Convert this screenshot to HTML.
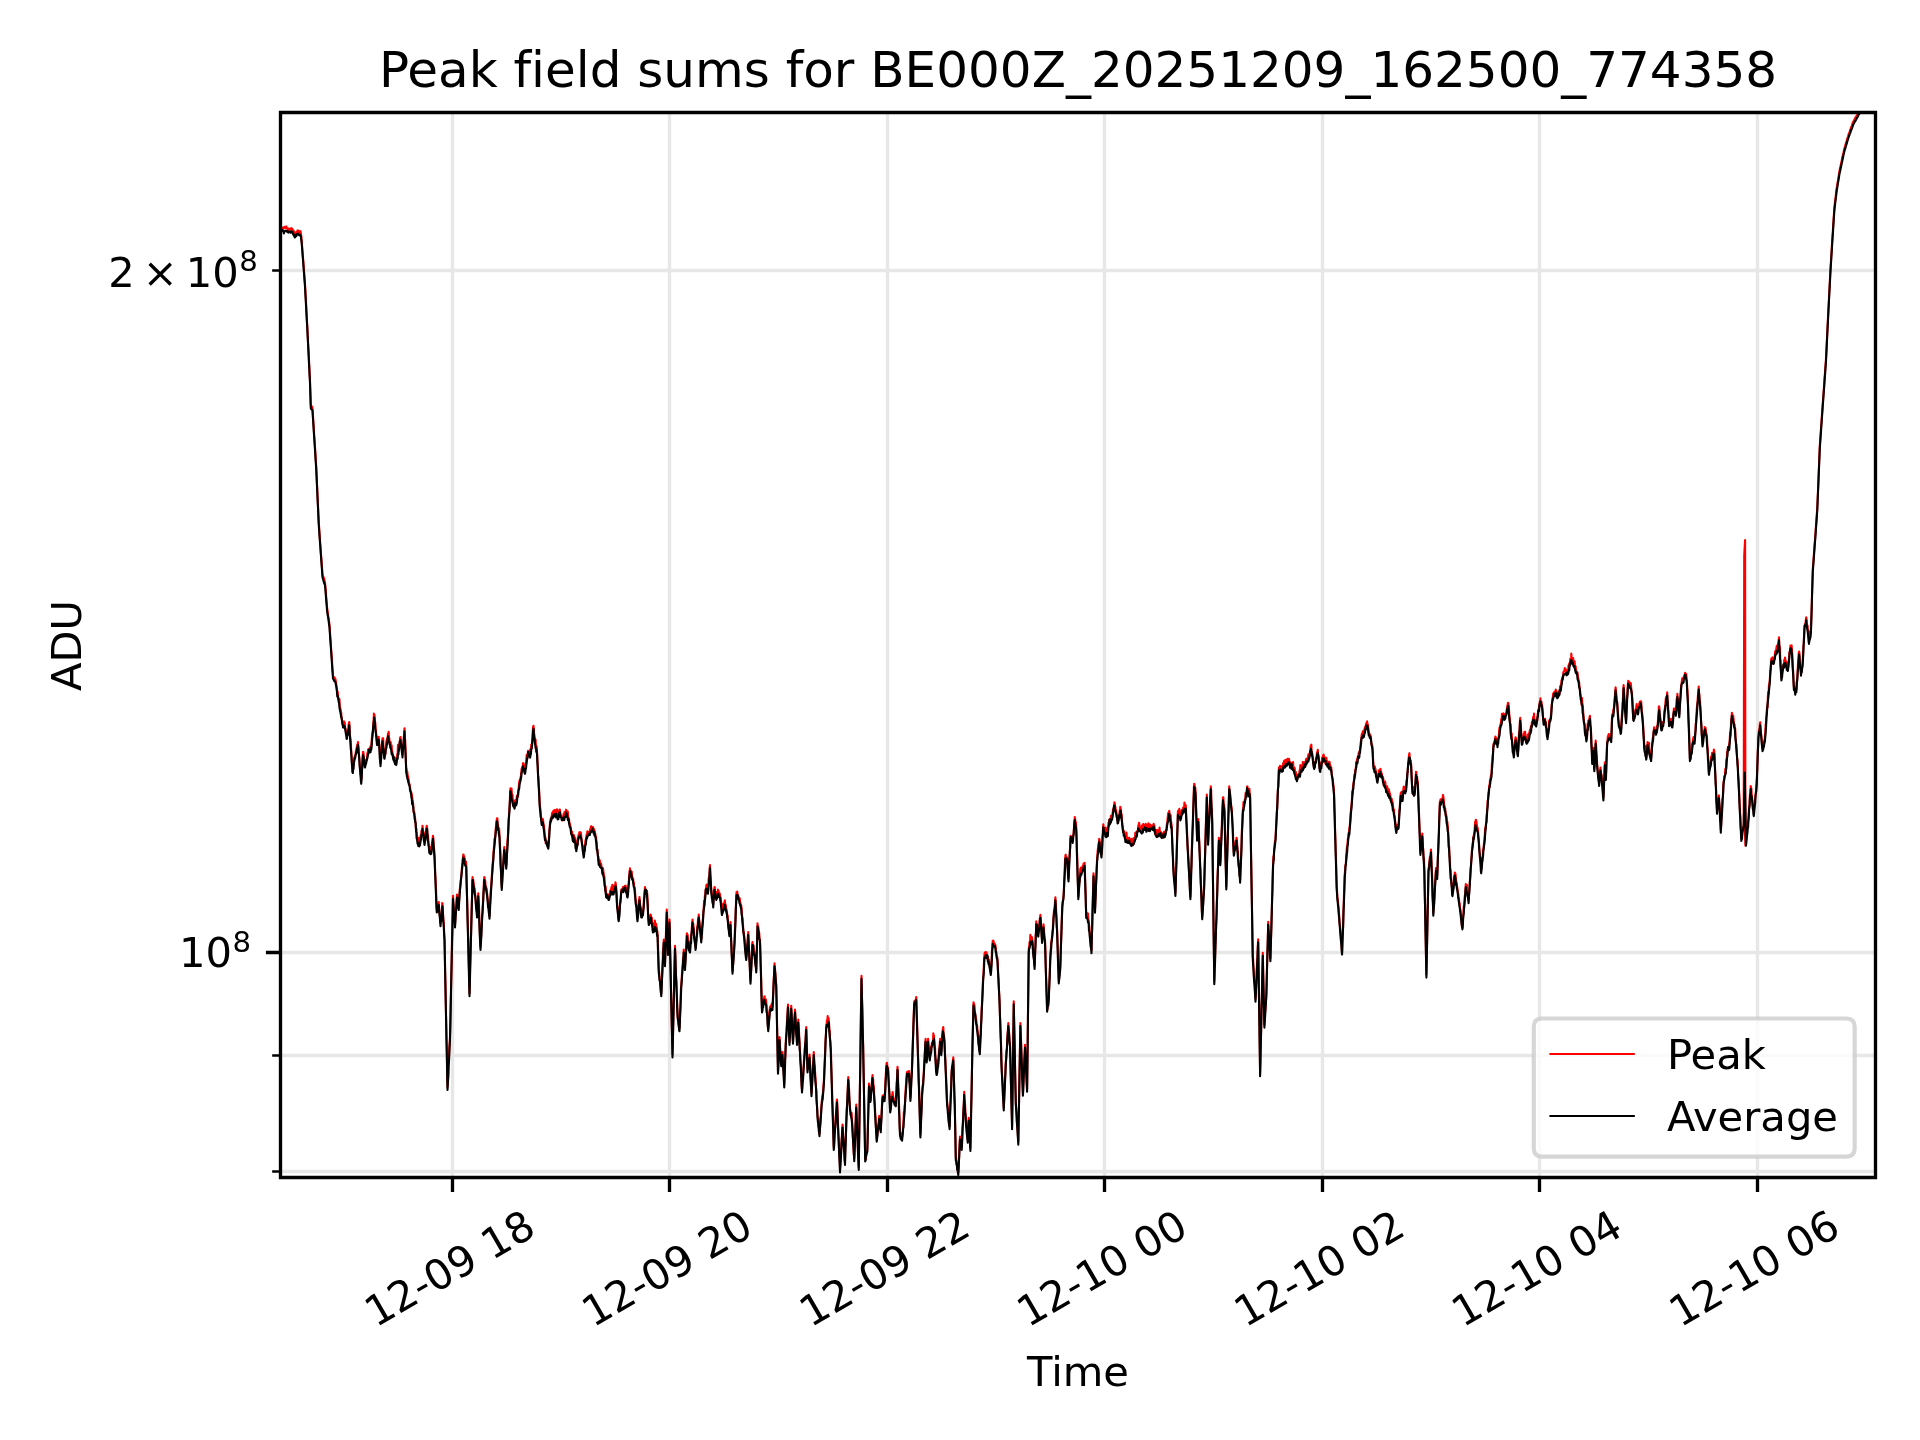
<!DOCTYPE html><html><head><meta charset="utf-8"><title>Peak field sums for BE000Z_20251209_162500_774358</title><style>html,body{margin:0;padding:0;background:#fff;overflow:hidden}svg{display:block;will-change:transform}text{font-variant-ligatures:none;font-feature-settings:"liga" 0}</style></head><body>
<svg width="1920" height="1440" viewBox="0 0 460.8 345.6">
<defs><clipPath id="c"><rect x="67.32" y="27" width="382.8" height="255.6"/></clipPath></defs>
<rect width="460.8" height="345.6" fill="#fff"/>
<path clip-path="url(#c)" d="M108.6 282.6 V27 M160.68 282.6 V27 M213 282.6 V27 M265.08 282.6 V27 M317.4 282.6 V27 M369.48 282.6 V27 M421.8 282.6 V27 M67.32 64.92 H450.12 M67.32 228.6 H450.12 M67.32 253.32 H450.12 M67.32 281.16 H450.12" fill="none" stroke="#b0b0b0" stroke-opacity="0.3" stroke-width="0.8" stroke-linecap="square"/>
<g clip-path="url(#c)" fill="none" stroke-linejoin="round" stroke-linecap="square">
<path d="M67.2 54.6 L67.284 54.757 L67.368 54.751 L67.452 54.971 L67.536 54.872 L67.62 54.604 L67.704 54.902 L67.788 54.674 L67.872 54.858 L67.956 54.93 L68.04 54.84 L68.125 54.782 L68.211 54.43 L68.296 54.74 L68.381 54.688 L68.467 54.723 L68.552 54.636 L68.637 54.454 L68.723 54.327 L68.808 54.72 L68.892 54.887 L68.976 54.947 L69.06 54.879 L69.144 54.809 L69.228 55.319 L69.312 55.04 L69.396 54.916 L69.48 54.96 L69.568 55.108 L69.656 54.861 L69.744 55.014 L69.832 54.882 L69.92 54.912 L70.008 54.768 L70.087 54.918 L70.166 54.947 L70.246 55.328 L70.325 55.626 L70.404 55.292 L70.483 55.535 L70.562 55.553 L70.642 56.174 L70.721 56.064 L70.8 56.28 L70.88 56.373 L70.96 55.866 L71.04 56.145 L71.12 55.705 L71.2 55.625 L71.28 55.757 L71.36 55.43 L71.44 55.274 L71.52 55.32 L71.604 55.597 L71.688 55.444 L71.772 55.83 L71.856 56.212 L71.94 55.551 L72.024 55.679 L72.108 55.473 L72.192 55.92 L72.3 56.505 L72.408 57.672 L72.487 58.847 L72.566 59.817 L72.646 60.853 L72.725 61.888 L72.804 62.775 L72.883 63.717 L72.962 65.087 L73.042 66.03 L73.121 67.177 L73.2 68.088 L73.286 69.678 L73.371 71.369 L73.457 72.814 L73.543 74.474 L73.629 76.053 L73.714 77.714 L73.8 79.272 L73.886 81.148 L73.971 82.773 L74.057 84.068 L74.143 86.113 L74.229 87.841 L74.314 89.649 L74.4 91.272 L74.496 94.285 L74.592 97.272 L74.674 97.305 L74.755 97.415 L74.837 97.588 L74.918 97.664 L75 97.872 L75.082 99.329 L75.164 100.523 L75.245 101.75 L75.327 103.15 L75.409 104.583 L75.491 105.594 L75.573 106.907 L75.655 108.166 L75.736 109.348 L75.818 110.711 L75.9 112.08 L75.986 113.852 L76.071 115.906 L76.157 117.788 L76.243 119.724 L76.329 121.414 L76.414 123.509 L76.5 125.28 L76.582 126.307 L76.664 127.547 L76.745 128.867 L76.827 130.006 L76.909 131.134 L76.991 132.401 L77.073 133.42 L77.155 134.412 L77.236 135.562 L77.318 136.641 L77.4 137.88 L77.486 138.164 L77.571 138.304 L77.657 138.577 L77.743 138.791 L77.829 138.964 L77.914 139.717 L78 139.68 L78.08 140.785 L78.16 141.433 L78.24 142.732 L78.32 143.613 L78.4 144.425 L78.48 145.68 L78.566 146.254 L78.651 146.905 L78.737 147.548 L78.823 148.211 L78.909 148.579 L78.994 149.274 L79.08 149.88 L79.164 151.189 L79.248 152.404 L79.332 153.616 L79.416 154.812 L79.5 156.177 L79.584 157.111 L79.668 158.313 L79.752 159.927 L79.836 161.001 L79.92 162.18 L80.006 162.441 L80.091 162.465 L80.177 162.523 L80.263 162.641 L80.349 162.841 L80.434 162.897 L80.52 163.08 L80.607 163.607 L80.693 164.117 L80.78 165.079 L80.867 165.601 L80.953 166.517 L81.04 165.957 L81.127 166.809 L81.213 167.819 L81.3 167.88 L81.385 168.564 L81.47 167.742 L81.555 169.572 L81.64 169.898 L81.725 170.177 L81.81 170.706 L81.895 171.064 L81.98 172.458 L82.065 172.733 L82.15 173.01 L82.235 173.94 L82.32 173.88 L82.41 174.265 L82.5 173.343 L82.59 173.146 L82.68 173.52 L82.766 173.514 L82.851 174.787 L82.937 174.862 L83.023 175.882 L83.109 175.995 L83.194 176.091 L83.28 176.58 L83.37 175.479 L83.46 175.401 L83.55 176.031 L83.64 174.101 L83.73 173.489 L83.82 173.28 L83.907 174.491 L83.993 176.503 L84.08 177.109 L84.167 177.874 L84.253 179.374 L84.34 180.865 L84.427 182.233 L84.513 183.943 L84.6 184.68 L84.68 185.406 L84.76 184.373 L84.84 183.53 L84.92 182.719 L85 181.851 L85.08 181.68 L85.164 181.642 L85.248 181.614 L85.332 181.039 L85.416 180.229 L85.5 180.245 L85.584 179.465 L85.668 179.134 L85.752 178.74 L85.836 178.523 L85.92 178.08 L86.007 179.122 L86.093 180.67 L86.18 181.227 L86.267 182.212 L86.353 183.782 L86.44 184.648 L86.527 185.887 L86.613 186.03 L86.7 187.38 L86.784 186.658 L86.868 184.657 L86.952 182.785 L87.036 181.823 L87.12 180.48 L87.2 180.437 L87.28 181.047 L87.36 181.819 L87.44 182.96 L87.52 182.382 L87.6 183.48 L87.682 183.316 L87.764 182.731 L87.845 183.256 L87.927 182.289 L88.009 182.152 L88.091 182.201 L88.173 180.702 L88.255 180.726 L88.336 179.861 L88.418 179.836 L88.5 179.88 L88.586 179.966 L88.671 179.65 L88.757 179.831 L88.843 179.367 L88.929 179.144 L89.014 179.315 L89.1 179.28 L89.18 178.015 L89.26 177.037 L89.34 175.946 L89.42 175.759 L89.5 175.153 L89.58 173.507 L89.66 172.991 L89.74 171.267 L89.82 171.48 L89.902 171.737 L89.985 173.145 L90.067 173.331 L90.15 174.963 L90.232 175.395 L90.315 176.578 L90.397 176.973 L90.48 178.08 L90.564 177.152 L90.648 177.564 L90.732 177.668 L90.816 176.849 L90.9 176.88 L90.984 178.291 L91.068 179.041 L91.152 180.47 L91.236 182.47 L91.32 183.18 L91.4 182.14 L91.48 180.714 L91.56 180.406 L91.64 179.174 L91.72 177.904 L91.8 177.18 L91.88 178.172 L91.96 177.201 L92.04 179.518 L92.12 180.835 L92.2 180.79 L92.28 181.38 L92.364 179.934 L92.448 180.904 L92.532 180.903 L92.616 179.462 L92.7 178.161 L92.784 177.803 L92.868 177.517 L92.952 177.126 L93.036 177.045 L93.12 175.98 L93.2 176.571 L93.28 175.613 L93.36 176.869 L93.44 177.293 L93.52 178.576 L93.6 178.08 L93.68 178.126 L93.76 178.082 L93.84 178.92 L93.92 179.52 L94 178.874 L94.08 180.567 L94.16 180.333 L94.24 181.112 L94.32 181.08 L94.407 181.582 L94.493 181.711 L94.58 182.314 L94.667 182.638 L94.753 181.875 L94.84 182.231 L94.927 182.949 L95.013 182.739 L95.1 182.88 L95.185 182.088 L95.27 181.912 L95.355 180.969 L95.44 180.633 L95.525 178.768 L95.61 179.93 L95.695 180.226 L95.78 179.208 L95.865 178.692 L95.95 177.956 L96.035 177.018 L96.12 176.88 L96.2 177.803 L96.28 178.299 L96.36 178.911 L96.44 179.787 L96.52 180.11 L96.6 181.08 L96.68 180.086 L96.76 179.279 L96.84 178.39 L96.92 176.942 L97 176.206 L97.08 174.78 L97.164 176.84 L97.248 177.678 L97.332 179.812 L97.416 182.601 L97.5 184.68 L97.582 184.536 L97.664 185.705 L97.745 185.207 L97.827 186.01 L97.909 186.328 L97.991 186.62 L98.073 187.076 L98.155 187.719 L98.236 188.155 L98.318 188.247 L98.4 188.88 L98.486 189.385 L98.571 189.984 L98.657 190.071 L98.743 190.27 L98.829 190.704 L98.914 191.225 L99 191.88 L99.086 192.228 L99.171 193.115 L99.257 194.936 L99.343 194.805 L99.429 194.897 L99.514 195.759 L99.6 196.08 L99.686 197.172 L99.771 198.303 L99.857 199.193 L99.943 198.892 L100.029 201.202 L100.114 200.573 L100.2 201.78 L100.286 201.875 L100.371 201.487 L100.457 201.123 L100.543 201.127 L100.629 202.931 L100.714 202.746 L100.8 202.08 L100.886 201.076 L100.971 200.458 L101.057 201.121 L101.143 199.416 L101.229 199.526 L101.314 199.708 L101.4 198.18 L101.48 199.205 L101.56 200.196 L101.64 200.251 L101.72 200.001 L101.8 201.065 L101.88 202.08 L101.97 200.609 L102.06 200.947 L102.15 199.529 L102.24 199.552 L102.33 198.608 L102.42 198.18 L102.506 198.679 L102.591 200.06 L102.677 200.411 L102.763 201.056 L102.849 202.728 L102.934 203.055 L103.02 203.88 L103.1 203.243 L103.18 204.545 L103.26 203.371 L103.34 204.194 L103.42 204.382 L103.5 204.18 L103.584 203.34 L103.668 202.353 L103.752 201.869 L103.836 201.138 L103.92 200.58 L104.01 201.187 L104.1 203.234 L104.19 203.672 L104.28 205.08 L104.37 206.939 L104.46 210.128 L104.55 211.333 L104.64 213.157 L104.73 216.047 L104.82 218.28 L104.9 217.984 L104.98 217.694 L105.06 218.363 L105.14 216.815 L105.22 217.415 L105.3 216.48 L105.384 217.917 L105.468 219.208 L105.552 219.497 L105.636 220.414 L105.72 221.58 L105.8 220.69 L105.88 220.134 L105.96 219.642 L106.04 219.169 L106.12 216.754 L106.2 216.78 L106.28 218.646 L106.36 219.668 L106.44 220.865 L106.52 221.703 L106.6 223.706 L106.68 224.88 L106.76 228.034 L106.84 233.483 L106.92 236.453 L107 240.838 L107.08 244.816 L107.16 249.167 L107.24 252.265 L107.32 257.288 L107.4 260.88 L107.486 259.376 L107.571 258.2 L107.657 255.895 L107.743 253.977 L107.829 251.427 L107.914 250.434 L108 248.88 L108.08 245.908 L108.16 241.145 L108.24 237.36 L108.32 233.76 L108.4 230.464 L108.48 225.459 L108.56 223.384 L108.64 219.04 L108.72 214.98 L108.8 216.485 L108.88 217.29 L108.96 219.377 L109.04 219.388 L109.12 221.131 L109.2 221.88 L109.28 220.744 L109.36 218.897 L109.44 218.23 L109.52 217.434 L109.6 215.763 L109.68 214.68 L109.764 215.102 L109.848 215.886 L109.932 216.084 L110.016 216.57 L110.1 217.68 L110.2 216.129 L110.3 214.051 L110.4 212.88 L110.487 212.298 L110.573 211.499 L110.66 210.906 L110.747 209.89 L110.833 208.431 L110.92 207.893 L111.007 206.286 L111.093 206.165 L111.18 205.08 L111.26 205.127 L111.34 206.27 L111.42 205.565 L111.5 206.243 L111.58 206.066 L111.66 206.99 L111.74 207.263 L111.82 206.754 L111.9 207.48 L111.987 211.856 L112.073 214.596 L112.16 217.122 L112.247 220.8 L112.333 223.796 L112.42 227.144 L112.507 231.459 L112.593 233.972 L112.68 238.38 L112.76 235.473 L112.84 231.418 L112.92 228.911 L113 226.803 L113.08 222.722 L113.16 219.774 L113.24 217.278 L113.32 213.441 L113.4 210.48 L113.486 211.258 L113.571 211.134 L113.657 211.853 L113.743 212.608 L113.829 213.065 L113.914 213.211 L114 214.08 L114.08 215.095 L114.16 216.174 L114.24 217.09 L114.32 217.706 L114.4 218.139 L114.48 219.48 L114.58 218.111 L114.68 216.491 L114.78 214.38 L114.87 216.069 L114.96 217.594 L115.05 220.744 L115.14 223.466 L115.23 225.545 L115.32 227.28 L115.402 225.196 L115.484 224.856 L115.565 222.275 L115.647 221.609 L115.729 219.442 L115.811 218.575 L115.893 216.826 L115.975 214.95 L116.056 213.868 L116.138 211.69 L116.22 210.48 L116.302 210.744 L116.385 211.224 L116.467 211.418 L116.55 212.713 L116.632 213.165 L116.715 213.173 L116.797 213.162 L116.88 214.08 L116.966 215.105 L117.051 215.832 L117.137 216.812 L117.223 217.32 L117.309 218.033 L117.394 219.613 L117.48 219.78 L117.564 217.978 L117.648 216.676 L117.732 214.42 L117.816 213.586 L117.9 212.28 L117.986 210.836 L118.071 209.702 L118.157 208.939 L118.243 207.174 L118.329 206.46 L118.414 204.881 L118.5 203.88 L118.587 202.814 L118.673 201.313 L118.76 201.549 L118.847 200.817 L118.933 199.221 L119.02 198.569 L119.107 197.158 L119.193 197.007 L119.28 196.38 L119.366 196.378 L119.451 197.634 L119.537 197.952 L119.623 198.849 L119.709 198.724 L119.794 198.87 L119.88 200.28 L119.97 202.293 L120.06 204.15 L120.15 207.395 L120.24 208.74 L120.33 211.407 L120.42 212.88 L120.506 211.707 L120.591 209.934 L120.677 207.993 L120.763 207.233 L120.849 206.266 L120.934 204.64 L121.02 203.28 L121.1 204.136 L121.18 204.875 L121.26 204.851 L121.34 206.375 L121.42 206.602 L121.5 207.78 L121.585 206.161 L121.67 205.276 L121.755 202.146 L121.84 201.409 L121.925 200.145 L122.01 198.942 L122.095 196.915 L122.18 194.941 L122.265 194.153 L122.35 192.505 L122.435 189.85 L122.52 189.18 L122.602 189.616 L122.685 189.227 L122.767 189.241 L122.85 190.465 L122.932 190.945 L123.015 190.83 L123.097 193.176 L123.18 192.78 L123.26 192.087 L123.34 192.855 L123.42 192.989 L123.5 193.65 L123.58 192.425 L123.66 193.32 L123.74 191.984 L123.82 192.477 L123.9 192.48 L123.986 191.758 L124.071 190.961 L124.157 191.083 L124.243 191.318 L124.329 190.903 L124.414 189.706 L124.5 188.88 L124.6 187.731 L124.7 187.285 L124.8 187.08 L124.88 186.925 L124.96 186.478 L125.04 186.04 L125.12 185.208 L125.2 184.473 L125.28 184.688 L125.36 184.028 L125.44 184.281 L125.52 183.18 L125.6 183.141 L125.68 184.178 L125.76 184.722 L125.84 185.319 L125.92 185.611 L126 184.98 L126.08 183.95 L126.16 183.346 L126.24 183.447 L126.32 182.427 L126.4 181.173 L126.48 182.483 L126.56 181.483 L126.64 181.204 L126.72 180.18 L126.806 180.311 L126.891 180.826 L126.977 180.436 L127.063 180.422 L127.149 181.315 L127.234 179.885 L127.32 180.48 L127.41 180.215 L127.5 178.674 L127.59 179.624 L127.68 178.38 L127.77 177.223 L127.86 175.702 L127.95 174.36 L128.04 174.18 L128.13 174.974 L128.22 176.925 L128.31 177.117 L128.4 177.78 L128.48 177.43 L128.56 177.598 L128.64 180.338 L128.72 179.101 L128.8 179.068 L128.88 180.18 L128.964 181.863 L129.048 183.695 L129.132 185.796 L129.216 186.558 L129.3 188.28 L129.4 189.73 L129.5 192.2 L129.6 193.68 L129.684 194.005 L129.768 195.287 L129.852 195.919 L129.936 197.026 L130.02 197.28 L130.12 196.733 L130.22 196.545 L130.32 196.68 L130.4 197.511 L130.48 198.297 L130.56 198.063 L130.64 199.08 L130.72 200.253 L130.8 200.88 L130.887 200.922 L130.973 202.437 L131.06 201.916 L131.147 202.407 L131.233 201.999 L131.32 202.31 L131.407 202.561 L131.493 203.25 L131.58 202.98 L131.664 201.672 L131.748 201.451 L131.832 199.195 L131.916 198.894 L132 197.28 L132.086 197.1 L132.171 196.495 L132.257 197.138 L132.343 196.545 L132.429 195.683 L132.514 195.1 L132.6 195.18 L132.682 195.518 L132.764 194.674 L132.845 195.273 L132.927 194.519 L133.009 194.951 L133.091 194.427 L133.173 194.696 L133.255 195.534 L133.336 195.52 L133.418 194.397 L133.5 194.58 L133.584 194.681 L133.668 194.243 L133.752 195.436 L133.836 196.078 L133.92 195.78 L134.01 194.987 L134.1 194.582 L134.19 194.819 L134.28 194.28 L134.37 194.297 L134.46 194.964 L134.55 195.922 L134.64 195.697 L134.73 196.101 L134.82 196.08 L134.907 196.918 L134.993 196.06 L135.08 196.21 L135.167 195.841 L135.253 195.379 L135.34 196.452 L135.427 194.939 L135.513 195.584 L135.6 195.48 L135.684 194.738 L135.768 194.72 L135.852 194.315 L135.936 194.633 L136.02 194.58 L136.107 195.169 L136.193 195.938 L136.28 194.769 L136.367 196.154 L136.453 196.218 L136.54 196.478 L136.627 197.088 L136.713 197.607 L136.8 197.88 L136.886 198.212 L136.971 198.65 L137.057 200.09 L137.143 199.473 L137.229 199.972 L137.314 199.642 L137.4 200.58 L137.48 201.155 L137.56 200.428 L137.64 200.684 L137.72 200.408 L137.8 200.785 L137.88 200.88 L137.964 200.972 L138.048 201.338 L138.132 201.829 L138.216 202.855 L138.3 203.58 L138.38 203.137 L138.46 203.026 L138.54 203.026 L138.62 202.674 L138.7 201.026 L138.78 200.88 L138.864 200.3 L138.948 200.764 L139.032 199.74 L139.116 200.463 L139.2 199.68 L139.3 200.486 L139.4 199.828 L139.5 200.58 L139.586 201.593 L139.671 202.567 L139.757 202.739 L139.843 203.028 L139.929 203.73 L140.014 204.682 L140.1 205.08 L140.186 204.144 L140.271 204.061 L140.357 203.187 L140.443 202.345 L140.529 201.633 L140.614 201.767 L140.7 200.88 L140.786 200.296 L140.871 200.664 L140.957 199.502 L141.043 200.121 L141.129 200.096 L141.214 200.041 L141.3 199.68 L141.384 200.008 L141.468 199.663 L141.552 199.536 L141.636 198.996 L141.72 198.96 L141.806 198.418 L141.891 198.289 L141.977 198.411 L142.063 198.824 L142.149 199.121 L142.234 198.737 L142.32 198.48 L142.4 198.8 L142.48 199.264 L142.56 198.946 L142.64 199.387 L142.72 199.451 L142.8 199.68 L142.886 200.402 L142.971 200.798 L143.057 200.887 L143.143 201.92 L143.229 202.315 L143.314 204.126 L143.4 203.88 L143.5 205.583 L143.6 205.604 L143.7 206.88 L143.786 206.577 L143.871 207.08 L143.957 206.441 L144.043 207.833 L144.129 207.3 L144.214 207.186 L144.3 207.48 L144.386 208.336 L144.471 208.79 L144.557 208.593 L144.643 209.343 L144.729 208.415 L144.814 209.186 L144.9 209.88 L144.986 210.175 L145.071 210.489 L145.157 212.358 L145.243 213.773 L145.329 212.688 L145.414 213.733 L145.5 214.68 L145.586 215.278 L145.671 214.717 L145.757 214.936 L145.843 214.645 L145.929 215.269 L146.014 214.734 L146.1 215.28 L146.186 215.341 L146.271 214.93 L146.357 214.56 L146.443 213.717 L146.529 213.679 L146.614 213.704 L146.7 213.18 L146.786 212.842 L146.871 212.886 L146.957 212.359 L147.043 213.268 L147.129 213.536 L147.214 214.144 L147.3 213.78 L147.38 212.906 L147.46 212.491 L147.54 213.45 L147.62 213.097 L147.7 211.737 L147.78 211.98 L147.864 212.881 L147.948 213.391 L148.032 215.365 L148.116 217.15 L148.2 217.68 L148.3 218.952 L148.4 218.975 L148.5 220.38 L148.586 219.524 L148.671 218.064 L148.757 217.57 L148.843 216.175 L148.929 215.748 L149.014 215.062 L149.1 213.48 L149.182 213.55 L149.264 213.486 L149.345 213.421 L149.427 213.568 L149.509 212.874 L149.591 212.909 L149.673 212.835 L149.755 213.452 L149.836 212.822 L149.918 212.934 L150 212.58 L150.086 212.709 L150.171 212.54 L150.257 213.338 L150.343 214.01 L150.429 213.936 L150.514 214.114 L150.6 214.68 L150.686 213.608 L150.771 213.131 L150.857 212.188 L150.943 211.085 L151.029 209.737 L151.114 208.962 L151.2 208.38 L151.286 210.394 L151.371 208.903 L151.457 209.577 L151.543 209.729 L151.629 209.229 L151.714 210.81 L151.8 210.48 L151.88 210.922 L151.96 210.86 L152.04 212.043 L152.12 211.815 L152.2 212.633 L152.28 212.88 L152.36 213.089 L152.44 214.464 L152.52 215.697 L152.6 215.984 L152.68 216.382 L152.76 217.494 L152.84 219.032 L152.92 218.796 L153 220.38 L153.08 218.873 L153.16 219.044 L153.24 217.881 L153.32 216.955 L153.4 215.916 L153.48 215.28 L153.564 216.302 L153.648 217.348 L153.732 218.008 L153.816 217.809 L153.9 219.48 L153.984 219.654 L154.068 218.454 L154.152 219.928 L154.236 218.785 L154.32 218.88 L154.4 218.163 L154.48 217.032 L154.56 215.574 L154.64 215.443 L154.72 213.984 L154.8 212.88 L154.88 214.035 L154.96 213.496 L155.04 213.494 L155.12 214.676 L155.2 214.299 L155.28 213.78 L155.364 215.3 L155.448 216.417 L155.532 219.208 L155.616 220.38 L155.7 221.28 L155.78 221.58 L155.86 220.548 L155.94 220.113 L156.02 219.679 L156.1 220.344 L156.18 219.48 L156.27 220.028 L156.36 221.015 L156.45 220.27 L156.54 222.39 L156.63 222.158 L156.72 223.08 L156.806 221.634 L156.891 222.143 L156.977 222.775 L157.063 223.129 L157.149 220.922 L157.234 221.406 L157.32 221.88 L157.4 222.247 L157.48 221.74 L157.56 222.572 L157.64 222.584 L157.72 223.418 L157.8 223.68 L157.9 225.966 L158 229.505 L158.1 232.68 L158.186 233.079 L158.271 234.358 L158.357 235.077 L158.443 236.403 L158.529 236.85 L158.614 238.396 L158.7 238.38 L158.786 235.76 L158.871 234.561 L158.957 233.212 L159.043 231.05 L159.129 227.896 L159.214 227.468 L159.3 225.48 L159.4 227.137 L159.5 230.451 L159.6 231.18 L159.684 228.543 L159.768 226.34 L159.852 222.978 L159.936 221.187 L160.02 218.28 L160.12 220.338 L160.22 224.586 L160.32 228.48 L160.41 226.342 L160.5 223.807 L160.59 223.097 L160.68 220.68 L160.76 224.283 L160.84 228.672 L160.92 230.797 L161 234.677 L161.08 238.992 L161.16 242.034 L161.24 246.279 L161.32 249.79 L161.4 253.08 L161.486 248.99 L161.571 245.682 L161.657 242.154 L161.743 238.285 L161.829 234.339 L161.914 230.476 L162 226.98 L162.086 229.145 L162.171 232 L162.257 234.793 L162.343 235.386 L162.429 237.854 L162.514 240.534 L162.6 242.88 L162.68 244.236 L162.76 243.771 L162.84 245.959 L162.92 246.588 L163 244.987 L163.08 246.78 L163.164 245.017 L163.248 242.882 L163.332 240.287 L163.416 237.494 L163.5 236.28 L163.586 235.225 L163.671 233.703 L163.757 233.265 L163.843 231.772 L163.929 229.843 L164.014 230.046 L164.1 227.88 L164.2 230.188 L164.3 231.426 L164.4 232.08 L164.48 230.785 L164.56 229.857 L164.64 228.109 L164.72 226.445 L164.8 224.454 L164.88 223.98 L164.964 224.805 L165.048 224.372 L165.132 226.335 L165.216 225.992 L165.3 227.28 L165.4 227.617 L165.5 227.574 L165.6 227.88 L165.686 226.329 L165.771 225.354 L165.857 224.546 L165.943 224.522 L166.029 222.953 L166.114 221.608 L166.2 220.68 L166.28 221.843 L166.36 221.608 L166.44 222.17 L166.52 223.204 L166.6 224.872 L166.68 224.958 L166.76 225.887 L166.84 226.619 L166.92 227.28 L167.007 226.223 L167.093 226.164 L167.18 225.039 L167.267 223.406 L167.353 222.455 L167.44 222.065 L167.527 220.772 L167.613 220.346 L167.7 219.48 L167.786 220.698 L167.871 221.224 L167.957 222.145 L168.043 222.667 L168.129 223.373 L168.214 224.123 L168.3 225.48 L168.386 224.998 L168.471 222.876 L168.557 222.176 L168.643 221.075 L168.729 220.124 L168.814 218.63 L168.9 217.68 L168.986 216.166 L169.071 217.241 L169.157 214.97 L169.243 215.058 L169.329 213.509 L169.414 213.633 L169.5 212.58 L169.584 212.296 L169.668 213.888 L169.752 213.525 L169.836 212.763 L169.92 213.78 L170 213.574 L170.08 210.792 L170.16 210.522 L170.24 210.202 L170.32 208.437 L170.4 207.6 L170.5 210.187 L170.6 211.538 L170.7 213.48 L170.78 213.785 L170.86 215.291 L170.94 215.297 L171.02 215.642 L171.1 216.939 L171.18 217.08 L171.28 215.549 L171.38 213.598 L171.48 212.88 L171.564 212.995 L171.648 215.047 L171.732 215.438 L171.816 214.025 L171.9 215.28 L171.98 215.414 L172.06 215.381 L172.14 214.385 L172.22 214.606 L172.3 213.518 L172.38 213.78 L172.464 213.786 L172.548 214.646 L172.632 214.278 L172.716 214.409 L172.8 214.68 L172.88 215.243 L172.96 215.402 L173.04 216.262 L173.12 217.2 L173.2 218.097 L173.28 218.88 L173.366 218.09 L173.451 219.106 L173.537 216.964 L173.623 216.955 L173.709 216.826 L173.794 217.062 L173.88 216.48 L173.966 216.089 L174.051 217.272 L174.137 217.067 L174.223 217.439 L174.309 218.386 L174.394 218.925 L174.48 218.88 L174.566 220.099 L174.651 219.737 L174.737 221.557 L174.823 222.295 L174.909 222.67 L174.994 223.462 L175.08 223.98 L175.16 223.087 L175.24 222.095 L175.32 221.28 L175.4 223.646 L175.48 225.999 L175.56 226.998 L175.64 229.252 L175.72 231.489 L175.8 232.98 L175.88 231.138 L175.96 231.489 L176.04 229.713 L176.12 229.1 L176.2 227.093 L176.28 226.08 L176.36 223.652 L176.44 222.014 L176.52 220.236 L176.6 217.628 L176.68 216.539 L176.76 214.08 L176.85 214.423 L176.94 213.964 L177.03 214.926 L177.12 214.817 L177.21 215.11 L177.3 215.28 L177.386 215.398 L177.471 215.541 L177.557 215.593 L177.643 216.554 L177.729 216.821 L177.814 217.339 L177.9 217.38 L177.986 217.949 L178.071 219.417 L178.157 220.517 L178.243 220.424 L178.329 221.998 L178.414 223.893 L178.5 223.68 L178.586 224.305 L178.671 225.255 L178.757 226.243 L178.843 226.862 L178.929 228.404 L179.014 228.791 L179.1 229.68 L179.18 228.636 L179.26 227.301 L179.34 226.955 L179.42 225.639 L179.5 224.486 L179.58 223.68 L179.67 225.479 L179.76 228.367 L179.85 229.533 L179.94 231.617 L180.03 234.098 L180.12 235.38 L180.2 233.784 L180.28 232.756 L180.36 230.237 L180.44 229.507 L180.52 226.591 L180.6 226.08 L180.68 226.556 L180.76 226.672 L180.84 226.931 L180.92 228.213 L181 228.445 L181.08 228.48 L181.164 229.745 L181.248 230.901 L181.332 231.262 L181.416 232.126 L181.5 232.68 L181.6 228.953 L181.7 226.207 L181.8 221.58 L181.886 222.577 L181.971 222.314 L182.057 222.828 L182.143 223.446 L182.229 224.004 L182.314 225.556 L182.4 225.48 L182.48 228.427 L182.56 231.6 L182.64 233.506 L182.72 236.302 L182.8 240.076 L182.88 242.28 L182.97 240.795 L183.06 240.691 L183.15 239.742 L183.24 239.945 L183.33 241.037 L183.42 239.28 L183.5 239.098 L183.58 240.186 L183.66 240.676 L183.74 239.749 L183.82 239.925 L183.9 240.48 L183.98 241.686 L184.06 242.902 L184.14 242.854 L184.22 244.276 L184.3 246.528 L184.38 246.78 L184.464 245.357 L184.548 244.917 L184.632 244.218 L184.716 242.531 L184.8 241.68 L184.886 241.588 L184.971 241.404 L185.057 241.353 L185.143 241.376 L185.229 240.876 L185.314 241.428 L185.4 241.68 L185.48 239.816 L185.56 238.522 L185.64 236.219 L185.72 234.351 L185.8 233.847 L185.88 231.18 L185.964 232.187 L186.048 233.102 L186.132 233.978 L186.216 235.251 L186.3 236.28 L186.384 239.992 L186.468 244.304 L186.552 248.277 L186.636 252.241 L186.72 256.98 L186.81 254.73 L186.9 252.251 L186.99 251.74 L187.08 248.88 L187.164 249.57 L187.248 252.251 L187.332 252.81 L187.416 254.344 L187.5 255.18 L187.6 254.984 L187.7 252.572 L187.8 252.48 L187.884 254.834 L187.968 255.837 L188.052 256.924 L188.136 258.354 L188.22 260.28 L188.31 257.905 L188.4 254.403 L188.49 253.503 L188.58 250.08 L188.67 248.507 L188.76 247.47 L188.85 245.651 L188.94 243.889 L189.03 242.412 L189.12 241.08 L189.21 242.928 L189.3 246.211 L189.39 247.847 L189.48 250.08 L189.564 248.614 L189.648 246.854 L189.732 245.215 L189.816 243.366 L189.9 241.38 L189.984 243.704 L190.068 244.459 L190.152 245.969 L190.236 248.075 L190.32 249.78 L190.4 248.402 L190.48 247.342 L190.56 246.631 L190.64 245.283 L190.72 243.84 L190.8 242.28 L190.88 243.24 L190.96 245.164 L191.04 246.306 L191.12 247.883 L191.2 248.816 L191.28 250.08 L191.38 248.128 L191.48 246.581 L191.58 244.68 L191.664 245.81 L191.748 247.173 L191.832 249.151 L191.916 250.482 L192 251.88 L192.08 254 L192.16 255.192 L192.24 256.154 L192.32 258.978 L192.4 260.702 L192.48 261.48 L192.564 259.79 L192.648 258.827 L192.732 258.388 L192.816 256.806 L192.9 255.48 L192.986 253.52 L193.071 253.487 L193.157 251.699 L193.243 250.526 L193.329 249.645 L193.414 247.477 L193.5 246.48 L193.6 249.559 L193.7 253.624 L193.8 256.68 L193.88 256.552 L193.96 255.559 L194.04 255.46 L194.12 254.508 L194.2 254.227 L194.28 253.08 L194.36 254.263 L194.44 256.102 L194.52 258.26 L194.6 258.893 L194.68 260.469 L194.76 262.38 L194.85 260.814 L194.94 258.967 L195.03 256.997 L195.12 255.013 L195.21 254.795 L195.3 252.48 L195.38 253.721 L195.46 255.573 L195.54 255.671 L195.62 257.326 L195.7 258.417 L195.78 259.68 L195.864 261.297 L195.948 262.06 L196.032 264.954 L196.116 265.794 L196.2 267.48 L196.28 268.342 L196.36 268.515 L196.44 270.469 L196.52 269.76 L196.6 272.137 L196.68 271.98 L196.764 270.591 L196.848 269.416 L196.932 268.057 L197.016 267.848 L197.1 265.98 L197.186 264.714 L197.271 263.848 L197.357 262.955 L197.443 262.782 L197.529 261.949 L197.614 260.491 L197.7 259.98 L197.786 258.209 L197.871 256.682 L197.957 254.265 L198.043 252.103 L198.129 249.421 L198.214 248.631 L198.3 245.88 L198.386 246.028 L198.471 244.855 L198.557 245.008 L198.643 243.874 L198.729 245.259 L198.814 244.251 L198.9 244.68 L198.98 245.644 L199.06 247.529 L199.14 247.289 L199.22 249.476 L199.3 250.018 L199.38 251.28 L199.46 253.41 L199.54 257.207 L199.62 259.455 L199.7 261.596 L199.78 264.841 L199.86 266.973 L199.94 269.511 L200.02 272.409 L200.1 275.28 L200.187 274.462 L200.273 271.96 L200.36 270.831 L200.447 270.607 L200.533 268.25 L200.62 267.554 L200.707 266.237 L200.793 264.5 L200.88 263.88 L200.96 265.359 L201.04 267.522 L201.12 269.409 L201.2 271.617 L201.28 273.287 L201.36 275.485 L201.44 277.015 L201.52 278.577 L201.6 280.68 L201.686 279.408 L201.771 277.776 L201.857 276.434 L201.943 274.408 L202.029 272.874 L202.114 271.339 L202.2 269.88 L202.286 270.429 L202.371 272.64 L202.457 273.395 L202.543 274.635 L202.629 276.108 L202.714 278.561 L202.8 278.88 L202.9 275.277 L203 273.171 L203.1 269.28 L203.18 266.455 L203.26 265.52 L203.34 264.771 L203.42 262.142 L203.5 260.439 L203.58 258.48 L203.664 259.63 L203.748 260.405 L203.832 263.026 L203.916 264.665 L204 265.68 L204.08 266.671 L204.16 267.582 L204.24 267.13 L204.32 267.919 L204.4 267.151 L204.48 268.68 L204.57 270.057 L204.66 271.84 L204.75 273.929 L204.84 275.755 L204.93 277.194 L205.02 277.98 L205.1 276.044 L205.18 273.611 L205.26 271.49 L205.34 269.353 L205.42 267.295 L205.5 265.08 L205.586 267.783 L205.671 269.271 L205.757 270.712 L205.843 273.078 L205.929 277.194 L206.014 278.577 L206.1 280.08 L206.182 274.103 L206.265 268.476 L206.347 263.212 L206.43 257.273 L206.512 251.544 L206.595 244.711 L206.677 239.256 L206.76 234.18 L206.856 238.272 L206.952 242.559 L207.048 246.4 L207.144 250.272 L207.228 255.653 L207.312 259.554 L207.396 264.28 L207.48 268.816 L207.564 273.881 L207.648 278.04 L207.732 277.371 L207.816 278.258 L207.9 276.391 L207.984 276.897 L208.068 276.489 L208.152 275.76 L208.234 273.379 L208.315 268.937 L208.397 265.897 L208.478 263.051 L208.56 260.04 L208.644 261.319 L208.728 262.313 L208.812 261.597 L208.896 263.76 L208.98 262.652 L209.064 261.959 L209.148 261.047 L209.232 260.092 L209.316 258.89 L209.4 258 L209.482 259.012 L209.563 259.019 L209.645 261.295 L209.726 260.676 L209.808 262.8 L209.894 264.205 L209.979 265.348 L210.065 267.442 L210.151 268.309 L210.237 270.697 L210.322 271.939 L210.408 273.288 L210.494 272.782 L210.579 272.214 L210.665 271.457 L210.751 270.031 L210.837 269.725 L210.922 268.779 L211.008 267.78 L211.104 268.94 L211.2 269.46 L211.296 268.986 L211.392 271.032 L211.474 269.291 L211.555 267.802 L211.637 265.974 L211.718 264.276 L211.8 263.04 L211.884 263.165 L211.968 262.845 L212.052 263.565 L212.136 263.931 L212.22 263.418 L212.304 263.52 L212.395 262.253 L212.486 259.635 L212.578 258.078 L212.669 256.756 L212.76 255.288 L212.856 255.05 L212.952 255.777 L213.048 256.038 L213.144 256.272 L213.228 258.673 L213.312 259.334 L213.396 261.853 L213.48 262.439 L213.564 264.48 L213.648 266.28 L213.732 266.029 L213.816 265.169 L213.9 263.232 L213.984 263.743 L214.068 263.362 L214.152 262.536 L214.236 262.094 L214.32 262.887 L214.404 263.248 L214.488 263.876 L214.572 264.58 L214.656 264.288 L214.74 263.75 L214.824 264.091 L214.908 265.384 L214.992 264.78 L215.074 263.58 L215.155 262.079 L215.237 259.506 L215.318 258.255 L215.4 256.032 L215.486 257.13 L215.571 260.733 L215.657 262.313 L215.743 264.351 L215.829 266.752 L215.914 269.989 L216 271.776 L216.084 272.678 L216.168 271.948 L216.252 272.221 L216.336 273.156 L216.42 272.485 L216.504 273.024 L216.588 272.179 L216.672 271.396 L216.756 270.713 L216.84 269.061 L216.924 266.909 L217.008 267.288 L217.089 265.933 L217.17 265.105 L217.251 263.305 L217.332 262.003 L217.413 260.573 L217.494 259.978 L217.575 258.6 L217.656 257.28 L217.74 257.362 L217.824 257.193 L217.908 257.756 L217.992 257.269 L218.076 257.041 L218.16 257.04 L218.244 258.124 L218.328 260.08 L218.412 261.891 L218.496 263.52 L218.578 262.566 L218.659 260.448 L218.741 258.419 L218.822 257.285 L218.904 255.288 L218.988 253.082 L219.072 250.07 L219.156 248.004 L219.24 244.769 L219.324 242.834 L219.408 240.288 L219.49 241.071 L219.572 240.412 L219.654 240.08 L219.736 240.029 L219.818 239.782 L219.9 239.28 L219.982 241.397 L220.064 244.401 L220.146 246.96 L220.228 250.174 L220.31 253.055 L220.392 255.288 L220.476 259.085 L220.56 260.886 L220.644 263.254 L220.728 266.757 L220.812 269.436 L220.896 272.28 L220.978 270.407 L221.059 268.291 L221.141 266.518 L221.222 264.007 L221.304 262.272 L221.388 261.424 L221.472 260.751 L221.556 259.376 L221.64 258.288 L221.724 257.055 L221.808 254.995 L221.892 254.204 L221.976 252.248 L222.06 250.485 L222.144 249.288 L222.232 250.857 L222.32 252.443 L222.408 254.28 L222.492 252.961 L222.576 251.533 L222.66 251.345 L222.744 249.288 L222.826 250.618 L222.907 251.311 L222.989 252.205 L223.07 252.841 L223.152 253.776 L223.236 253.581 L223.32 252.504 L223.404 251.994 L223.488 251.081 L223.572 251.427 L223.656 250.272 L223.74 250.537 L223.824 250.204 L223.908 249.922 L223.992 247.994 L224.076 248.859 L224.16 248.52 L224.246 250.251 L224.331 251.258 L224.417 251.535 L224.503 253.664 L224.589 255.094 L224.674 255.77 L224.76 257.28 L224.856 256.236 L224.952 255.994 L225.048 254.384 L225.144 255.288 L225.228 254.396 L225.312 252.875 L225.396 252.121 L225.48 251.188 L225.564 250.225 L225.648 249.288 L225.732 251.086 L225.816 251.026 L225.9 252.528 L225.999 250.955 L226.098 248.626 L226.197 247.869 L226.296 246.78 L226.386 246.468 L226.476 248.357 L226.566 248.614 L226.656 249.288 L226.737 250.868 L226.818 253.472 L226.899 254.482 L226.98 256.786 L227.061 258.388 L227.142 260.241 L227.223 262.475 L227.304 264.528 L227.39 265.027 L227.475 266.069 L227.561 266.44 L227.647 267.048 L227.733 269.246 L227.818 269.608 L227.904 270.288 L227.988 267.83 L228.072 265.852 L228.156 263.029 L228.24 261.428 L228.324 258.312 L228.408 256.776 L228.504 256.217 L228.6 255.422 L228.696 254.47 L228.792 253.776 L228.882 256.963 L228.972 259.465 L229.062 263.167 L229.152 265.272 L229.232 269.716 L229.312 272.869 L229.392 277.776 L229.478 277.786 L229.563 279.535 L229.649 279.002 L229.735 279.927 L229.821 280.006 L229.906 281.477 L229.992 281.28 L230.074 280.084 L230.155 278.25 L230.237 275.979 L230.318 274.333 L230.4 272.784 L230.482 273.929 L230.563 273.517 L230.645 273.268 L230.726 275.513 L230.808 275.28 L230.894 273.847 L230.979 270.878 L231.065 269.735 L231.151 267.997 L231.237 265.922 L231.322 264.711 L231.408 262.032 L231.49 263.914 L231.572 264.245 L231.654 265.835 L231.736 267.63 L231.818 268.927 L231.9 269.76 L231.987 270.551 L232.074 272.189 L232.161 272.204 L232.248 273.528 L232.332 272.178 L232.416 269.2 L232.5 268.272 L232.599 270.32 L232.698 272.875 L232.797 274.434 L232.896 275.52 L232.98 270.935 L233.064 265.714 L233.148 263.036 L233.232 259.203 L233.316 254.539 L233.4 250.272 L233.48 247.144 L233.56 243.128 L233.64 240.528 L233.724 240.818 L233.808 241.007 L233.892 241.54 L233.976 242.43 L234.06 243.903 L234.144 243.78 L234.228 244.612 L234.312 244.733 L234.396 245.688 L234.48 245.981 L234.564 246.821 L234.648 247.776 L234.732 248.599 L234.816 248.547 L234.9 250.148 L234.984 250.462 L235.068 252.027 L235.152 252.288 L235.236 249.984 L235.32 248.691 L235.404 246.348 L235.488 245.163 L235.572 242.252 L235.656 241.272 L235.742 239.279 L235.827 237.405 L235.913 235.347 L235.999 234.211 L236.085 232.581 L236.17 230.675 L236.256 229.272 L236.34 228.636 L236.424 228.667 L236.508 228.527 L236.592 229.243 L236.676 228.875 L236.76 228.528 L236.841 229.41 L236.922 229.516 L237.003 230.215 L237.084 229.671 L237.165 230.071 L237.246 230.268 L237.327 230.328 L237.408 230.784 L237.504 231.733 L237.6 232.231 L237.696 232.906 L237.792 233.28 L237.883 231.926 L237.974 230.796 L238.066 228.146 L238.157 227.579 L238.248 225.78 L238.329 225.915 L238.41 225.764 L238.491 226.029 L238.572 226.544 L238.653 226.821 L238.734 226.455 L238.815 227.021 L238.896 226.776 L238.98 227.57 L239.064 228.464 L239.148 229.044 L239.232 229.512 L239.316 229.569 L239.4 230.28 L239.484 231.462 L239.568 234.305 L239.652 234.94 L239.736 237.379 L239.82 238.696 L239.904 240.288 L239.988 243.764 L240.072 245.605 L240.156 248.178 L240.24 250.021 L240.324 253.939 L240.408 256.272 L240.49 257.892 L240.572 259.199 L240.654 260.882 L240.736 263.249 L240.818 264.422 L240.9 265.776 L240.982 264.385 L241.064 262.046 L241.146 260.474 L241.228 258.939 L241.31 256.538 L241.392 254.784 L241.478 254.117 L241.563 252.079 L241.649 251.77 L241.735 249.29 L241.821 248.017 L241.906 246.965 L241.992 245.52 L242.074 246.375 L242.155 247.44 L242.237 248.426 L242.318 249.961 L242.4 250.272 L242.484 253.449 L242.568 257.56 L242.652 260.757 L242.736 263.753 L242.82 266.929 L242.904 270.288 L243.003 263.745 L243.102 254.174 L243.201 247.641 L243.3 240.288 L243.382 244.299 L243.464 248.607 L243.546 252.378 L243.628 256.789 L243.71 260.618 L243.792 264.288 L243.878 266.26 L243.963 266.862 L244.049 268.757 L244.135 270.706 L244.221 271.018 L244.306 272.805 L244.392 274.032 L244.476 268.693 L244.56 264.788 L244.644 259.482 L244.728 255.385 L244.812 249.8 L244.896 245.52 L244.982 247.997 L245.067 249.888 L245.153 252.745 L245.239 255.348 L245.325 258.621 L245.41 260.135 L245.496 262.272 L245.58 260.638 L245.664 259.363 L245.748 257.085 L245.832 254.17 L245.916 252.997 L246 250.776 L246.084 252.638 L246.168 254.719 L246.252 256.33 L246.336 257 L246.42 259.316 L246.504 261.288 L246.583 255.478 L246.662 248.328 L246.742 240.813 L246.821 234.286 L246.9 227.784 L247 227.112 L247.1 226.032 L247.2 226.08 L247.284 224.357 L247.368 225.994 L247.452 225.075 L247.536 225.069 L247.62 224.864 L247.704 225.072 L247.79 225.833 L247.875 226.774 L247.961 228.688 L248.047 228.767 L248.133 230.167 L248.218 230.838 L248.304 231.84 L248.383 230.281 L248.462 227.572 L248.542 224.406 L248.621 224.083 L248.7 221.088 L248.782 222.365 L248.864 222.39 L248.946 221.804 L249.028 223.699 L249.11 223.732 L249.192 224.088 L249.276 222.917 L249.36 222.29 L249.444 222.366 L249.528 220.747 L249.612 220.221 L249.696 219.576 L249.778 220.385 L249.859 222.2 L249.941 222.721 L250.022 224.626 L250.104 225.576 L250.188 224.465 L250.272 224.664 L250.356 222.523 L250.44 221.832 L250.53 222.789 L250.62 224.148 L250.71 225.038 L250.8 225.576 L250.884 227.575 L250.968 231.151 L251.052 234.011 L251.136 236.9 L251.22 239.245 L251.304 242.088 L251.383 242.297 L251.462 241.744 L251.542 240.402 L251.621 239.56 L251.7 239.58 L251.779 237.446 L251.858 235.661 L251.938 233.815 L252.017 230.637 L252.096 229.08 L252.186 227.781 L252.276 226.156 L252.366 225.63 L252.456 225.072 L252.54 224.553 L252.624 223.955 L252.708 222.225 L252.792 220.725 L252.876 219.584 L252.96 218.58 L253.044 218.762 L253.128 217.596 L253.212 216.305 L253.296 215.328 L253.378 216.686 L253.459 218.124 L253.541 220.042 L253.622 222.465 L253.704 223.08 L253.783 225.483 L253.862 227.875 L253.942 230.62 L254.021 232.809 L254.1 235.32 L254.187 235.027 L254.274 233.269 L254.361 232.99 L254.448 232.08 L254.532 229.299 L254.616 227.535 L254.7 224.7 L254.784 221.76 L254.868 219.358 L254.952 217.08 L255.039 216.336 L255.126 216.305 L255.213 215.113 L255.3 214.08 L255.379 212.486 L255.458 210.109 L255.538 208.1 L255.617 206.326 L255.696 205.32 L255.778 205.123 L255.859 205.706 L255.941 205.636 L256.022 206.258 L256.104 205.824 L256.188 206.541 L256.272 208.219 L256.356 209.449 L256.44 210.84 L256.524 208.639 L256.608 206.359 L256.692 205.302 L256.776 204.427 L256.86 201.433 L256.944 200.58 L257.028 201.138 L257.112 201.317 L257.196 200.986 L257.28 201.361 L257.364 201.329 L257.448 201.576 L257.532 200.648 L257.616 200.421 L257.7 199.363 L257.784 198.376 L257.868 197.107 L257.952 196.08 L258.039 196.633 L258.126 197.44 L258.213 197.323 L258.3 198.576 L258.382 200.894 L258.464 204.103 L258.546 205.959 L258.628 209.569 L258.71 212.253 L258.792 215.088 L258.874 213.88 L258.955 212.799 L259.037 211.44 L259.118 211.657 L259.2 209.58 L259.284 208.46 L259.368 208.865 L259.452 208.193 L259.536 209.039 L259.62 209.147 L259.704 208.584 L259.79 209.192 L259.875 207.761 L259.961 208.214 L260.047 207.246 L260.133 207.425 L260.218 207.558 L260.304 207.072 L260.383 208.815 L260.462 211.944 L260.542 214.222 L260.621 217.207 L260.7 219.576 L260.782 220.087 L260.864 219.157 L260.946 219.975 L261.028 219.533 L261.11 219.258 L261.192 220.584 L261.277 220.834 L261.363 221.88 L261.448 222.445 L261.533 223.324 L261.619 225.314 L261.704 225.58 L261.789 226.882 L261.875 227.883 L261.96 228.072 L262.04 225.029 L262.12 223.111 L262.2 219.01 L262.28 215.783 L262.36 212.244 L262.44 209.58 L262.53 211.576 L262.62 214.106 L262.71 216.161 L262.8 218.328 L262.884 216.382 L262.968 214.394 L263.052 211.53 L263.136 209.763 L263.22 207.911 L263.304 206.088 L263.388 205.01 L263.472 203.83 L263.556 203.639 L263.64 202.465 L263.724 202.574 L263.808 201.336 L263.9 201.537 L263.992 202.661 L264.084 202.213 L264.176 203.715 L264.268 204.895 L264.36 205.08 L264.446 203.613 L264.533 202.453 L264.619 200.79 L264.706 199.094 L264.792 197.832 L264.876 198.406 L264.96 198.741 L265.044 199.106 L265.128 199.012 L265.212 199.435 L265.296 200.088 L265.38 198.594 L265.464 199.832 L265.548 199.149 L265.632 199.165 L265.716 199.794 L265.8 199.32 L265.882 198.862 L265.963 198.46 L266.045 197.425 L266.126 197.504 L266.208 196.824 L266.289 196.693 L266.37 196.683 L266.451 196.443 L266.532 197.194 L266.613 195.773 L266.694 196.336 L266.775 196.264 L266.856 196.08 L266.942 195.987 L267.027 195.286 L267.113 194.311 L267.199 194.117 L267.285 194.273 L267.37 193.56 L267.456 192.576 L267.54 192.773 L267.624 193.471 L267.708 193.737 L267.792 194.851 L267.876 194.43 L267.96 195.072 L268.044 196.119 L268.128 196.718 L268.212 196.307 L268.296 196.824 L268.377 197.512 L268.458 195.95 L268.539 195.593 L268.62 195.67 L268.701 194.693 L268.782 194.613 L268.863 193.627 L268.944 193.824 L269.03 194.371 L269.115 195.358 L269.201 195.422 L269.287 197.16 L269.373 197.928 L269.458 198.269 L269.544 199.08 L269.625 199.636 L269.706 199.887 L269.787 199.437 L269.868 200.328 L269.949 200.42 L270.03 200.251 L270.111 200.995 L270.192 201.072 L270.277 200.608 L270.363 199.822 L270.448 201.442 L270.533 201.405 L270.619 202.213 L270.704 201.253 L270.789 201.886 L270.875 201.1 L270.96 201.576 L271.043 201.092 L271.125 201.542 L271.208 201.857 L271.291 201.795 L271.373 202.402 L271.456 202.495 L271.539 201.385 L271.621 201.806 L271.704 202.08 L271.79 202.873 L271.875 202.556 L271.961 201.248 L272.047 201.344 L272.133 202.555 L272.218 201.043 L272.304 201.336 L272.385 201.698 L272.465 199.851 L272.546 200.416 L272.627 199.728 L272.708 200.088 L272.788 200.242 L272.869 199.56 L272.95 199.528 L273.031 199.309 L273.111 199.247 L273.192 198.072 L273.277 198.421 L273.363 197.441 L273.448 197.728 L273.533 199.025 L273.619 199.003 L273.704 199.336 L273.789 198.763 L273.875 198.794 L273.96 199.08 L274.043 198.121 L274.125 198.353 L274.208 198.703 L274.291 198.326 L274.373 197.745 L274.456 199.117 L274.539 198.31 L274.621 198.312 L274.704 198.072 L274.787 198.181 L274.869 198.17 L274.952 197.726 L275.035 198.706 L275.117 198.074 L275.2 197.912 L275.283 199.058 L275.365 198.563 L275.448 198.576 L275.531 198.836 L275.613 197.603 L275.696 199.333 L275.779 198.061 L275.861 197.886 L275.944 198.213 L276.027 197.916 L276.109 197.928 L276.192 198.336 L276.278 198.527 L276.363 198.956 L276.449 198.102 L276.535 198.188 L276.621 198.18 L276.706 198.201 L276.792 198.072 L276.873 197.684 L276.954 199.322 L277.035 198.04 L277.116 198.633 L277.197 200.158 L277.278 199.33 L277.359 199.121 L277.44 199.824 L277.525 199.856 L277.611 200.904 L277.696 199.784 L277.781 199.185 L277.867 199.811 L277.952 199.823 L278.037 199.244 L278.123 199.739 L278.208 199.584 L278.291 198.593 L278.373 199.984 L278.456 199.953 L278.539 199.978 L278.621 199.705 L278.704 200.759 L278.787 200.511 L278.869 200.923 L278.952 200.328 L279.035 200.003 L279.117 200.609 L279.2 201.026 L279.283 200.819 L279.365 199.623 L279.448 199.999 L279.531 199.644 L279.613 199.761 L279.696 199.824 L279.779 199.365 L279.862 199.742 L279.945 199.15 L280.028 197.869 L280.111 197.889 L280.193 196.693 L280.276 195.897 L280.359 195.11 L280.442 195.133 L280.525 196.039 L280.608 194.58 L280.694 195.189 L280.779 195.854 L280.865 196.603 L280.951 195.636 L281.037 196.971 L281.122 197.597 L281.208 198.072 L281.304 201.202 L281.4 203.286 L281.496 204.771 L281.592 208.08 L281.676 208.292 L281.76 210.316 L281.844 211.306 L281.928 211.561 L282.012 212.608 L282.096 214.32 L282.182 211.579 L282.267 208.116 L282.353 206.143 L282.439 203.067 L282.525 200.266 L282.61 198.567 L282.696 194.832 L282.779 194.542 L282.861 194.507 L282.944 194.912 L283.027 194.111 L283.109 195.764 L283.192 195.814 L283.275 195.652 L283.357 195.706 L283.44 195.84 L283.524 195.456 L283.608 194.404 L283.692 194.74 L283.776 194.461 L283.86 194.544 L283.944 193.824 L284.025 193.885 L284.106 194.175 L284.187 193.948 L284.268 192.583 L284.349 193.125 L284.43 193.736 L284.511 193.162 L284.592 193.32 L284.676 195.09 L284.76 197.3 L284.844 198.199 L284.928 200.563 L285.012 203.058 L285.096 204.072 L285.182 205.657 L285.267 206.865 L285.353 208.79 L285.439 210.177 L285.525 211.328 L285.61 213.817 L285.696 215.088 L285.78 212.422 L285.864 208.839 L285.948 207.659 L286.032 203.954 L286.116 201.775 L286.2 199.08 L286.282 197.095 L286.363 194.615 L286.445 191.866 L286.526 189.144 L286.608 188.088 L286.692 188.308 L286.776 189.187 L286.86 188.984 L286.944 190.08 L287.034 192.623 L287.124 196.189 L287.214 197.833 L287.304 201.072 L287.4 201.514 L287.496 198.256 L287.592 196.584 L287.682 198.121 L287.772 201.031 L287.862 202.836 L287.952 205.08 L288.034 207.835 L288.117 208.701 L288.199 211.767 L288.281 213.016 L288.363 215.836 L288.446 218.527 L288.528 219.912 L288.619 218.549 L288.71 217.707 L288.802 215.472 L288.893 214.643 L288.984 212.76 L289.065 209.681 L289.146 207.115 L289.227 204.488 L289.308 200.995 L289.389 198.506 L289.47 195.905 L289.551 194.269 L289.632 190.68 L289.736 194.533 L289.84 197.68 L289.944 202.032 L290.025 199.768 L290.106 198.645 L290.187 196.472 L290.268 195.455 L290.349 193.16 L290.43 191.517 L290.511 190.771 L290.592 188.712 L290.676 189.741 L290.76 193.718 L290.844 194.183 L290.928 196.512 L291.012 202.277 L291.096 209.787 L291.18 216.523 L291.264 223.127 L291.348 229.247 L291.432 235.488 L291.523 232.287 L291.614 229.691 L291.706 226.985 L291.797 224.487 L291.888 221.208 L291.969 219.162 L292.05 216.516 L292.131 214.077 L292.212 210.047 L292.293 208.354 L292.374 206.676 L292.455 203.362 L292.536 201.072 L292.62 202.493 L292.704 203.636 L292.788 205.382 L292.872 206.904 L292.953 204.631 L293.034 202.012 L293.115 201.248 L293.196 199.323 L293.277 196.73 L293.358 194.209 L293.439 193.101 L293.52 191.328 L293.604 191.347 L293.688 193.098 L293.772 193.125 L293.856 193.92 L293.947 196.877 L294.038 201.082 L294.13 206.088 L294.221 208.861 L294.312 212.76 L294.399 209.309 L294.486 206.57 L294.573 203.121 L294.66 201.113 L294.747 196.992 L294.834 194.971 L294.921 192.187 L295.008 188.712 L295.089 189.862 L295.17 190.082 L295.251 190.671 L295.332 191.63 L295.413 192.47 L295.494 193.357 L295.575 193.812 L295.656 194.568 L295.747 196.687 L295.838 198.356 L295.93 200.202 L296.021 203.162 L296.112 204.648 L296.193 204.395 L296.274 204.092 L296.355 204.113 L296.436 202.498 L296.517 202.102 L296.598 201.768 L296.679 201.937 L296.76 201.072 L296.846 201.368 L296.933 202.742 L297.019 204.471 L297.106 204.316 L297.192 206.436 L297.278 207.881 L297.365 208.31 L297.451 208.699 L297.538 209.898 L297.624 211.128 L297.705 208.568 L297.786 206.947 L297.867 205.378 L297.948 203.342 L298.029 199.675 L298.11 198.327 L298.191 196.797 L298.272 194.568 L298.357 193.944 L298.442 192.464 L298.527 193.318 L298.612 193.03 L298.697 192.312 L298.782 191.829 L298.866 191.871 L298.951 190.266 L299.036 190.366 L299.121 190.259 L299.206 191.286 L299.291 188.803 L299.376 188.712 L299.457 189.342 L299.538 190.052 L299.619 189.827 L299.7 190.123 L299.781 190.56 L299.862 189.316 L299.943 190.686 L300.024 190.68 L300.105 195.335 L300.186 201.182 L300.267 205.512 L300.348 210.3 L300.429 215.136 L300.51 219.3 L300.591 225.243 L300.672 229.656 L300.753 230.124 L300.834 232.079 L300.915 233.259 L300.996 235.176 L301.077 235.952 L301.158 236.787 L301.239 238.796 L301.32 239.712 L301.401 238.787 L301.482 235.646 L301.563 235.048 L301.644 232.253 L301.725 230.685 L301.806 228.913 L301.887 226.713 L301.968 225.432 L302.059 232.673 L302.15 238.694 L302.242 245.039 L302.333 250.5 L302.424 257.592 L302.505 254.316 L302.586 249.933 L302.667 247.437 L302.748 242.269 L302.829 239.886 L302.91 235.141 L302.991 231.569 L303.072 228.672 L303.168 233.099 L303.264 237.722 L303.36 242.159 L303.456 245.904 L303.547 244.286 L303.638 242.782 L303.73 242.08 L303.821 239.62 L303.912 238.752 L304.003 234.697 L304.094 232.006 L304.186 228.463 L304.277 224.77 L304.368 221.208 L304.456 223.296 L304.544 223.326 L304.632 225.833 L304.72 228.148 L304.808 228.316 L304.896 229.968 L304.977 226.471 L305.058 224.833 L305.139 221.611 L305.22 219.056 L305.301 215.921 L305.382 212.467 L305.463 209.702 L305.544 206.904 L305.625 205.45 L305.706 206.44 L305.787 203.793 L305.868 203.191 L305.949 202.135 L306.03 201.801 L306.111 201.396 L306.192 199.776 L306.277 197.815 L306.363 196.556 L306.448 194.966 L306.533 193.955 L306.619 191.024 L306.704 189.535 L306.789 188.485 L306.875 185.222 L306.96 184.176 L307.044 184.235 L307.128 184.322 L307.212 183.765 L307.296 184.256 L307.38 184.502 L307.464 184.99 L307.548 184.928 L307.632 184.488 L307.713 184.081 L307.794 183.726 L307.875 184.498 L307.956 183.114 L308.037 183.433 L308.118 182.979 L308.199 182.593 L308.28 183.192 L308.362 183.293 L308.445 182.416 L308.527 182.76 L308.609 183.636 L308.691 183.742 L308.774 182.263 L308.856 182.424 L308.938 182.404 L309.021 182.128 L309.103 183.388 L309.185 183.128 L309.267 182.887 L309.35 182.117 L309.432 182.544 L309.514 183.059 L309.596 182.917 L309.678 182.945 L309.76 183.379 L309.842 183.898 L309.924 183.335 L310.006 183.301 L310.088 183.135 L310.17 184.464 L310.252 184.149 L310.334 182.863 L310.416 184.176 L310.5 184.509 L310.584 185.096 L310.668 184.181 L310.752 184.489 L310.836 185.987 L310.92 185.594 L311.004 185.273 L311.088 186.268 L311.172 186.685 L311.256 186.768 L311.339 186.095 L311.422 185.962 L311.505 186.163 L311.588 185.906 L311.671 186.597 L311.753 186.172 L311.836 185.567 L311.919 184.782 L312.002 184.602 L312.085 183.6 L312.168 184.488 L312.252 184.334 L312.336 184.057 L312.42 183.815 L312.504 184.38 L312.588 184.524 L312.672 182.892 L312.756 183.879 L312.84 183.783 L312.924 183.146 L313.008 182.985 L313.092 184.06 L313.176 183.465 L313.26 184.03 L313.344 182.88 L313.429 182.356 L313.515 182.071 L313.6 182.313 L313.685 182.724 L313.771 182.799 L313.856 182.971 L313.941 181.555 L314.027 181.021 L314.112 181.584 L314.2 181.631 L314.288 181.151 L314.376 180.555 L314.464 180.547 L314.552 179.009 L314.64 178.968 L314.725 178.715 L314.811 181.056 L314.896 180.741 L314.981 180.987 L315.067 182.069 L315.152 183.305 L315.237 182.85 L315.323 184.152 L315.408 183.84 L315.494 183.5 L315.581 184.007 L315.667 182.772 L315.754 182.88 L315.84 181.893 L315.926 181.808 L316.013 181.235 L316.099 180.53 L316.186 180.399 L316.272 179.952 L316.356 181.059 L316.44 181.413 L316.524 181.961 L316.608 183.186 L316.692 184.447 L316.776 184.488 L316.864 184.091 L316.952 183.28 L317.04 182.981 L317.128 183.064 L317.216 183.497 L317.304 181.821 L317.392 182.529 L317.48 181.516 L317.568 181.248 L317.652 181.082 L317.736 181.315 L317.82 182.304 L317.904 181.672 L317.988 182.732 L318.072 183.224 L318.156 181.966 L318.24 181.92 L318.324 181.855 L318.408 182.88 L318.493 183.24 L318.578 182.641 L318.663 182.866 L318.748 182.888 L318.833 184.037 L318.918 183.799 L319.002 183.868 L319.087 182.82 L319.172 183.354 L319.257 183.84 L319.342 183.908 L319.427 184.218 L319.512 184.176 L319.593 185.681 L319.674 185.957 L319.755 186.743 L319.836 187.015 L319.917 187.607 L319.998 188.304 L320.079 189.213 L320.16 190.008 L320.241 192.032 L320.322 195.398 L320.403 198.536 L320.484 201.131 L320.565 204.188 L320.646 206.153 L320.727 209.627 L320.808 212.76 L320.889 213.722 L320.97 215.258 L321.051 215.724 L321.132 216.531 L321.213 217.334 L321.294 218.61 L321.375 219.314 L321.456 220.56 L321.537 221.87 L321.618 222.224 L321.699 223.787 L321.78 224.121 L321.861 224.686 L321.942 225.678 L322.023 227.805 L322.104 228.36 L322.185 225.697 L322.266 223.384 L322.347 222.51 L322.428 218.341 L322.509 216.537 L322.59 213.535 L322.671 211.539 L322.752 209.52 L322.833 208.851 L322.914 207.553 L322.995 207.731 L323.076 205.454 L323.157 204.679 L323.238 203.44 L323.319 203.238 L323.4 202.368 L323.488 201.306 L323.576 200.961 L323.664 199.983 L323.752 199.948 L323.84 198.759 L323.928 198.456 L324.016 197.385 L324.104 196.2 L324.192 194.814 L324.28 194.099 L324.368 193.012 L324.456 192.186 L324.544 189.889 L324.632 190.492 L324.72 188.712 L324.8 188.209 L324.88 187.817 L324.96 187.328 L325.04 185.865 L325.12 186.349 L325.2 185.596 L325.28 184.675 L325.36 184.772 L325.44 183.712 L325.52 182.807 L325.6 183.184 L325.68 182.232 L325.76 182.355 L325.84 181.895 L325.92 181.429 L326 182.025 L326.08 180.73 L326.16 180.875 L326.24 180.44 L326.32 180.192 L326.4 180.048 L326.482 179.525 L326.563 178.073 L326.645 178.042 L326.726 177.183 L326.808 176.304 L326.896 176.104 L326.984 175.882 L327.072 175.531 L327.16 176.2 L327.248 176.941 L327.336 176.088 L327.424 175.367 L327.512 174.807 L327.6 174.515 L327.688 174.552 L327.776 174.248 L327.864 173.592 L327.946 173.805 L328.027 173.654 L328.109 173.131 L328.19 174.259 L328.272 173.808 L328.38 174.583 L328.488 175.68 L328.576 176.042 L328.664 176.068 L328.752 176.2 L328.84 176.76 L328.928 176.613 L329.016 176.712 L329.098 178.305 L329.179 178.596 L329.261 178.913 L329.342 178.934 L329.424 179.64 L329.532 182.118 L329.64 183.792 L329.722 184.14 L329.803 184.488 L329.885 184.35 L329.966 183.99 L330.048 184.632 L330.136 184.602 L330.224 185.447 L330.312 186.311 L330.4 186.279 L330.488 186.441 L330.576 187.128 L330.68 186.371 L330.784 186.089 L330.888 185.064 L330.972 184.85 L331.056 184.83 L331.14 185.132 L331.224 185.396 L331.308 184.499 L331.392 185.064 L331.481 185.186 L331.57 185.662 L331.659 185.754 L331.749 186.503 L331.838 186.959 L331.927 186.489 L332.016 187.128 L332.099 188.55 L332.181 187.841 L332.264 188.67 L332.347 188.529 L332.429 187.548 L332.512 188.072 L332.595 189.061 L332.677 189.441 L332.76 189.432 L332.84 189.832 L332.92 188.688 L333 189.419 L333.08 190.047 L333.16 190.52 L333.24 190.256 L333.32 189.433 L333.4 189.925 L333.48 190.272 L333.569 190.449 L333.658 190.729 L333.747 191.756 L333.837 192.146 L333.926 192.526 L334.015 191.707 L334.104 192.552 L334.193 192.432 L334.282 192.787 L334.371 193.866 L334.461 194.51 L334.55 194.28 L334.639 195.543 L334.728 195.888 L334.832 196.986 L334.936 197.746 L335.04 198.816 L335.129 198.917 L335.218 198.104 L335.307 197.945 L335.397 199.039 L335.486 198.04 L335.575 198.568 L335.664 197.976 L335.752 196.381 L335.84 194.322 L335.928 194.385 L336.016 192.249 L336.104 191.139 L336.192 190.272 L336.278 190.944 L336.365 190.039 L336.451 190.893 L336.538 191.82 L336.624 191.52 L336.72 191.341 L336.816 189.216 L336.905 188.747 L336.994 189.296 L337.083 188.9 L337.173 189.807 L337.262 188.983 L337.351 189.859 L337.44 189.216 L337.544 187.372 L337.648 187.098 L337.752 185.472 L337.838 185.315 L337.925 184.047 L338.011 182.862 L338.098 181.742 L338.184 181.104 L338.266 180.759 L338.347 182.14 L338.429 182.42 L338.51 182.424 L338.592 182.544 L338.674 183.358 L338.755 184.952 L338.837 186.737 L338.918 189.046 L339 189.648 L339.088 190.613 L339.176 190.248 L339.264 189.165 L339.352 188.922 L339.44 189.99 L339.528 190.056 L339.632 188.662 L339.736 187.636 L339.84 185.256 L339.926 185.271 L340.013 186.694 L340.099 186.454 L340.186 187.349 L340.272 187.56 L340.361 189.673 L340.45 192.116 L340.539 194.477 L340.629 197.079 L340.718 199.12 L340.807 201.599 L340.896 204.456 L340.987 203.668 L341.078 202.055 L341.17 201.601 L341.261 200.615 L341.352 200.064 L341.432 201.276 L341.512 203.357 L341.592 203.802 L341.672 206.328 L341.752 206.016 L341.832 208.32 L341.916 212.114 L342 217.162 L342.084 219.91 L342.168 225.233 L342.252 229.829 L342.336 233.904 L342.42 228.927 L342.504 226.072 L342.588 221.994 L342.672 216.868 L342.756 212.585 L342.84 208.32 L342.926 208.074 L343.011 207.53 L343.097 206.208 L343.183 205.597 L343.269 206.156 L343.354 204.653 L343.44 203.904 L343.532 206.35 L343.624 208.533 L343.716 210.05 L343.808 213.926 L343.9 216.552 L343.992 219.048 L344.073 217.671 L344.154 216.271 L344.235 215.418 L344.316 213.822 L344.397 212.436 L344.478 210.91 L344.559 209.493 L344.64 208.32 L344.736 209.013 L344.832 209.261 L344.928 210.24 L345.009 208.558 L345.09 205.903 L345.171 203.537 L345.252 202.286 L345.333 199.459 L345.414 196.273 L345.495 194.181 L345.576 192.36 L345.66 192.183 L345.744 191.846 L345.828 192.584 L345.912 192.179 L345.996 192.106 L346.08 192.057 L346.164 191.841 L346.248 191.256 L346.334 190.779 L346.419 191.372 L346.505 191.942 L346.591 193.074 L346.677 193.322 L346.762 194.496 L346.848 193.992 L346.932 195.241 L347.016 195.894 L347.1 195.539 L347.184 196.447 L347.268 197.583 L347.352 197.19 L347.436 198.016 L347.52 198.96 L347.612 201.495 L347.704 203.301 L347.796 203.065 L347.888 205.54 L347.98 206.633 L348.072 208.872 L348.16 208.816 L348.248 210.29 L348.336 211.877 L348.424 212.84 L348.512 213.571 L348.6 214.368 L348.692 214.162 L348.784 212.294 L348.876 211.744 L348.968 211.773 L349.06 210.581 L349.152 209.4 L349.244 209.55 L349.336 209.889 L349.428 211.06 L349.52 211.684 L349.612 212.297 L349.704 212.712 L349.796 213.302 L349.888 214.123 L349.98 214.451 L350.072 215.414 L350.164 215.814 L350.256 216.84 L350.336 216.813 L350.416 218.096 L350.496 218.258 L350.576 218.871 L350.656 220.146 L350.736 220.648 L350.816 222.009 L350.896 222.535 L350.976 222.336 L351.058 221.12 L351.139 220.145 L351.221 218.941 L351.302 217.577 L351.384 217.985 L351.466 216.539 L351.547 214.918 L351.629 215.047 L351.71 213.494 L351.792 212.16 L351.876 213.002 L351.96 212.892 L352.044 212.43 L352.128 214.395 L352.212 214.193 L352.296 214.318 L352.38 215.795 L352.464 216.024 L352.546 215.056 L352.627 213.07 L352.709 212.273 L352.79 211.291 L352.872 209.83 L352.954 208.296 L353.035 208.07 L353.117 205.96 L353.198 205.432 L353.28 203.64 L353.364 202.955 L353.448 202.211 L353.532 202.348 L353.616 200.781 L353.7 200.636 L353.784 200.084 L353.868 199.75 L353.952 198.533 L354.036 197.169 L354.12 197.304 L354.212 196.733 L354.304 196.973 L354.396 197.554 L354.488 198.326 L354.58 198.509 L354.672 198.96 L354.754 199.687 L354.835 200.866 L354.917 201.547 L354.998 202.874 L355.08 203.939 L355.162 205.933 L355.243 205.748 L355.325 206.749 L355.406 207.711 L355.488 208.872 L355.572 207.618 L355.656 207.589 L355.74 205.731 L355.824 206.53 L355.908 203.931 L355.992 203.85 L356.076 203.547 L356.16 202.248 L356.247 201.597 L356.334 200.809 L356.421 198.808 L356.508 199.09 L356.595 198.046 L356.682 197.642 L356.769 195.973 L356.856 195.096 L356.948 194.034 L357.04 192.101 L357.132 192.059 L357.224 190.168 L357.316 189.778 L357.408 188.496 L357.5 188.912 L357.592 187.142 L357.684 187.244 L357.776 186.41 L357.868 185.923 L357.96 185.76 L358.051 183.386 L358.142 182.679 L358.234 181.611 L358.325 180.642 L358.416 178.584 L358.508 179.075 L358.6 177.964 L358.692 178.221 L358.784 177.445 L358.876 176.777 L358.968 176.952 L359.054 177.044 L359.141 178.025 L359.227 178.266 L359.314 177.412 L359.4 178.584 L359.481 178.29 L359.562 177.322 L359.643 177.237 L359.724 176.464 L359.805 175.215 L359.886 174.617 L359.967 174.694 L360.048 174.192 L360.132 173.845 L360.216 173.556 L360.3 172.576 L360.384 173.488 L360.468 171.297 L360.552 172.765 L360.636 171.677 L360.72 171.432 L360.812 171.212 L360.904 172.349 L360.996 171.51 L361.088 171.643 L361.18 171.405 L361.272 171.72 L361.352 171.639 L361.432 171.311 L361.512 171.436 L361.592 170.945 L361.672 170.043 L361.752 169.394 L361.832 169.161 L361.912 168.66 L361.992 168.696 L362.073 169.372 L362.154 170.198 L362.235 171.532 L362.316 172.331 L362.397 172.804 L362.478 174.186 L362.559 173.862 L362.64 175.848 L362.724 176.444 L362.808 176.011 L362.892 177.606 L362.976 178.756 L363.06 179.194 L363.144 179.208 L363.228 180.305 L363.312 181.08 L363.398 180.156 L363.485 179.114 L363.571 178.639 L363.658 177.422 L363.744 176.952 L363.836 177.146 L363.928 177.716 L364.02 179.055 L364.112 179.02 L364.204 179.381 L364.296 180.792 L364.388 179.724 L364.48 177.544 L364.572 175.782 L364.664 175.371 L364.756 173.341 L364.848 172.272 L364.944 173.38 L365.04 174.69 L365.136 176.855 L365.232 178.032 L365.324 177.991 L365.416 177.824 L365.508 176.686 L365.6 177.856 L365.692 176.081 L365.784 176.112 L365.864 175.659 L365.944 176.202 L366.024 175.643 L366.104 176.284 L366.184 176.615 L366.264 177.059 L366.344 177.782 L366.424 177.511 L366.504 177.48 L366.586 177.099 L366.667 177.043 L366.749 176.226 L366.83 177.295 L366.912 176.473 L366.994 176.377 L367.075 175.673 L367.157 175.31 L367.238 175.012 L367.32 175.296 L367.404 174.442 L367.488 174.166 L367.572 174.438 L367.656 173.275 L367.74 173.491 L367.824 173.199 L367.908 172.561 L367.992 171.984 L368.079 172.589 L368.166 171.273 L368.253 172.721 L368.34 172.581 L368.427 173.661 L368.514 173.39 L368.601 173.267 L368.688 173.64 L368.772 173.15 L368.856 172.732 L368.94 172.975 L369.024 171.432 L369.108 171.259 L369.192 170.351 L369.276 170.246 L369.36 169.788 L369.444 169.201 L369.528 168.531 L369.612 168.843 L369.696 167.592 L369.782 168.476 L369.869 168.543 L369.955 168.377 L370.042 169.227 L370.128 169.344 L370.212 170.391 L370.296 171.734 L370.38 172.518 L370.464 173.184 L370.554 172.721 L370.644 173.145 L370.734 173.585 L370.824 172.488 L370.91 173.386 L370.995 173.193 L371.081 174.112 L371.167 175.39 L371.253 176.128 L371.338 175.4 L371.424 176.688 L371.515 176.475 L371.606 176.005 L371.698 175.133 L371.789 173.022 L371.88 172.824 L371.964 172.635 L372.048 173.02 L372.132 172.485 L372.216 171.792 L372.306 170.627 L372.396 169.294 L372.486 168.679 L372.576 167.592 L372.666 167.562 L372.756 166.465 L372.846 166.513 L372.936 166.176 L373.027 166.712 L373.118 166.598 L373.21 165.912 L373.301 166.342 L373.392 165.48 L373.476 165.822 L373.56 165.93 L373.644 166.261 L373.728 166.872 L373.814 166.204 L373.901 166.286 L373.987 166.137 L374.074 167.121 L374.16 165.84 L374.244 166.135 L374.328 166.51 L374.412 164.696 L374.496 165.287 L374.58 164.486 L374.664 164.424 L374.752 163.252 L374.84 163.707 L374.928 162.573 L375.016 162.739 L375.104 163.101 L375.192 161.28 L375.28 161.31 L375.368 161.149 L375.456 160.806 L375.544 160.347 L375.632 160.899 L375.72 160.92 L375.81 160.643 L375.9 161.215 L375.99 161.056 L376.08 161.28 L376.171 161.187 L376.262 160.995 L376.354 161.052 L376.445 159.652 L376.536 159.888 L376.618 159.182 L376.699 159.91 L376.781 159.302 L376.862 158.172 L376.944 158.136 L377.032 159.415 L377.12 156.856 L377.208 158.049 L377.296 158.113 L377.384 158.529 L377.472 158.304 L377.56 157.936 L377.648 158.848 L377.736 159.214 L377.824 159.938 L377.912 158.714 L378 159.888 L378.088 159.799 L378.176 160.056 L378.264 161.066 L378.352 161.755 L378.44 161.875 L378.528 161.28 L378.616 161.461 L378.704 162.434 L378.792 162.765 L378.88 163.356 L378.968 163.552 L379.056 164.424 L379.14 165.211 L379.224 165.778 L379.308 166.802 L379.392 167.232 L379.482 167.496 L379.572 169.157 L379.662 167.471 L379.752 168.624 L379.842 169.302 L379.932 170.278 L380.022 171.606 L380.112 172.488 L380.201 173.61 L380.29 173.814 L380.379 175.979 L380.469 175.375 L380.558 176.575 L380.647 176.519 L380.736 177.216 L380.818 176.138 L380.899 176.959 L380.981 174.618 L381.062 173.561 L381.144 173.544 L381.23 172.857 L381.317 172.949 L381.403 173.185 L381.49 172.024 L381.576 171.792 L381.664 172.84 L381.752 174.257 L381.84 175.272 L381.936 178.125 L382.032 179.8 L382.128 182.64 L382.208 181.751 L382.288 180.287 L382.368 179.496 L382.456 181.353 L382.544 183.02 L382.632 184.392 L382.716 183.242 L382.8 181.964 L382.884 179.179 L382.968 177.744 L383.064 178.821 L383.16 180.819 L383.256 182.265 L383.352 183.696 L383.438 184.593 L383.525 185.813 L383.611 186.332 L383.698 187.521 L383.784 187.896 L383.868 187.047 L383.952 186.044 L384.036 184.769 L384.12 184.2 L384.216 185.337 L384.312 185.792 L384.408 186.48 L384.49 188.095 L384.571 188.792 L384.653 189.212 L384.734 190.553 L384.816 191.376 L384.906 189.273 L384.996 187.152 L385.086 184.459 L385.176 182.976 L385.256 184.283 L385.336 185.389 L385.416 186.48 L385.512 183.137 L385.608 181.055 L385.704 178.08 L385.8 177.825 L385.896 176.644 L385.992 176.688 L386.076 176.182 L386.16 176.84 L386.244 177.077 L386.328 176.688 L386.418 177.029 L386.508 176.213 L386.598 176.712 L386.688 177.384 L386.768 175.677 L386.848 172.953 L386.928 171.432 L387.018 171.689 L387.108 171.453 L387.198 170.264 L387.288 170.376 L387.379 169.425 L387.47 168.559 L387.562 167.364 L387.653 165.837 L387.744 164.952 L387.826 165.605 L387.907 166.395 L387.989 167.927 L388.07 168.215 L388.152 168.624 L388.242 170.421 L388.332 171.218 L388.422 172.589 L388.512 173.544 L388.6 174.26 L388.688 174.054 L388.776 174.075 L388.864 174.899 L388.952 174.806 L389.04 175.272 L389.124 173.801 L389.208 172.474 L389.292 170.955 L389.376 170.376 L389.472 168.464 L389.568 165.974 L389.664 164.424 L389.768 165.815 L389.872 167.79 L389.976 169.68 L390.072 170.159 L390.168 172.033 L390.264 172.824 L390.352 171.262 L390.44 168.334 L390.528 166.872 L390.608 165.547 L390.688 164.451 L390.768 163.392 L390.856 163.454 L390.944 163.78 L391.032 164.078 L391.12 163.784 L391.208 164.603 L391.296 164.424 L391.386 163.96 L391.476 164.818 L391.566 166.181 L391.656 166.176 L391.74 167.47 L391.824 169.322 L391.908 171.201 L391.992 172.128 L392.082 172.768 L392.172 171.267 L392.262 171.257 L392.352 171.432 L392.442 170.652 L392.532 170.226 L392.622 170.255 L392.712 169.68 L392.794 168.985 L392.875 170.305 L392.957 170.295 L393.038 171.221 L393.12 170.736 L393.216 169.431 L393.312 169.87 L393.408 168.984 L393.49 168.661 L393.571 168.374 L393.653 168.973 L393.734 168.838 L393.816 168.288 L393.907 168.553 L393.998 170.493 L394.09 170.88 L394.181 171.733 L394.272 172.824 L394.362 174.173 L394.452 175.941 L394.542 177.274 L394.632 179.136 L394.723 179.67 L394.814 178.966 L394.906 181.035 L394.997 181.227 L395.088 181.584 L395.172 180.439 L395.256 180.007 L395.34 178.852 L395.424 178.08 L395.51 178.777 L395.597 179.416 L395.683 179.562 L395.77 178.333 L395.856 180.192 L395.938 181.156 L396.019 180.919 L396.101 181.556 L396.182 181.214 L396.264 181.944 L396.354 180.72 L396.444 179.549 L396.534 178.779 L396.624 177.384 L396.714 177.013 L396.804 176.139 L396.894 175.39 L396.984 174.576 L397.075 175.189 L397.166 175.513 L397.258 175.517 L397.349 175.249 L397.44 175.632 L397.531 175.522 L397.622 174.357 L397.714 174.268 L397.805 174.348 L397.896 173.184 L397.98 171.607 L398.064 170.879 L398.148 169.486 L398.232 169.68 L398.318 171.455 L398.405 171.549 L398.491 172.602 L398.578 173.416 L398.664 174.24 L398.748 174.024 L398.832 173.559 L398.916 173.957 L399 173.288 L399.084 173.914 L399.168 173.544 L399.259 173.468 L399.35 173.023 L399.442 170.759 L399.533 170.221 L399.624 169.68 L399.708 168.629 L399.792 167.667 L399.876 167.32 L399.96 167.22 L400.044 167.166 L400.128 166.176 L400.219 168.168 L400.31 168.648 L400.402 170.852 L400.493 171.92 L400.584 173.544 L400.675 173.391 L400.766 173.554 L400.858 173.324 L400.949 173.097 L401.04 172.488 L401.124 172.941 L401.208 173.276 L401.292 173.619 L401.376 173.88 L401.466 173.167 L401.556 171.888 L401.646 171.181 L401.736 170.04 L401.816 170.249 L401.896 170.997 L401.976 170.078 L402.056 170.517 L402.136 170.914 L402.216 171.072 L402.306 169.872 L402.396 167.733 L402.486 168.147 L402.576 166.536 L402.667 168.181 L402.758 167.685 L402.85 168.811 L402.941 171.04 L403.032 171.432 L403.123 169.299 L403.214 168.653 L403.306 167.154 L403.397 165.603 L403.488 164.424 L403.57 164.284 L403.651 163.332 L403.733 162.803 L403.814 163 L403.896 163.032 L403.984 162.648 L404.072 162.567 L404.16 162.587 L404.248 162.638 L404.336 161.923 L404.424 161.448 L404.514 161.691 L404.604 162.248 L404.694 161.768 L404.784 162.672 L404.868 163.787 L404.952 165.253 L405.036 166.368 L405.12 168.624 L405.211 171.613 L405.302 173.422 L405.394 175.91 L405.485 178.771 L405.576 181.944 L405.662 182.244 L405.749 181.789 L405.835 180.971 L405.922 180.807 L406.008 180.192 L406.092 178.584 L406.176 178.316 L406.26 178.176 L406.344 177.384 L406.434 176.934 L406.524 176.847 L406.614 177.254 L406.704 177.744 L406.79 176.861 L406.877 175.998 L406.963 173.635 L407.05 173.564 L407.136 171.792 L407.228 169.979 L407.32 169.457 L407.412 168.211 L407.504 166.892 L407.596 166.695 L407.688 164.784 L407.77 166.083 L407.851 166.715 L407.933 168.167 L408.014 168.336 L408.096 169.68 L408.18 171.29 L408.264 173.229 L408.348 174.212 L408.432 176.39 L408.516 176.435 L408.6 178.44 L408.688 177.166 L408.776 176.951 L408.864 176.323 L408.952 175.521 L409.04 175.773 L409.128 174.48 L409.219 174.955 L409.31 174.666 L409.402 175.15 L409.493 176.014 L409.584 176.184 L409.666 176.865 L409.749 178.911 L409.831 179.546 L409.913 181.294 L409.995 182.727 L410.078 183.215 L410.16 185.232 L410.244 184.484 L410.328 184.017 L410.412 183.763 L410.496 183.56 L410.58 182.679 L410.664 181.579 L410.748 181.53 L410.832 181.272 L410.914 180.646 L410.997 180.809 L411.079 181.201 L411.161 181.007 L411.243 180.966 L411.326 179.879 L411.408 180.144 L411.492 181.117 L411.576 183.27 L411.66 185.511 L411.744 187.048 L411.828 188.574 L411.912 190.908 L411.996 193.322 L412.08 194.592 L412.171 193.669 L412.262 193.264 L412.354 193.308 L412.445 191.338 L412.536 190.896 L412.627 192.884 L412.718 193.462 L412.81 195.396 L412.901 197.354 L412.992 199.104 L413.076 198.14 L413.16 196.249 L413.244 194.506 L413.328 193.589 L413.412 192.551 L413.496 191.084 L413.58 188.542 L413.664 187.512 L413.746 187.307 L413.829 186.261 L413.911 186.371 L413.993 186.067 L414.075 184.539 L414.158 185.59 L414.24 184.104 L414.326 182.288 L414.413 182.355 L414.499 180.543 L414.586 180.221 L414.672 179.568 L414.754 180.063 L414.835 179.723 L414.917 179.781 L414.998 178.504 L415.08 178.44 L415.162 176.918 L415.245 175.866 L415.327 176.654 L415.409 174.7 L415.491 172.716 L415.574 172.123 L415.656 171.072 L415.736 171.403 L415.816 172.274 L415.896 171.916 L415.976 171.745 L416.056 172.591 L416.136 173.596 L416.216 173.749 L416.296 173.822 L416.376 174.48 L416.463 174.998 L416.55 177.312 L416.637 178.16 L416.724 178.595 L416.811 179.876 L416.898 182.144 L416.985 182.271 L417.072 183.552 L417.156 185.933 L417.24 186.98 L417.324 188.734 L417.408 190.341 L417.492 192.602 L417.576 194.304 L417.66 195.412 L417.744 198.404 L417.828 199.146 L417.912 201.096 L417.994 200.346 L418.077 200.678 L418.159 199.276 L418.241 199.054 L418.323 198.786 L418.406 198.609 L418.488 197.688 L418.488 198.408 L418.608 133.44 L418.704 131.52 L418.824 129.6 L418.896 202.944 L418.576 192.585 L418.664 188.561 L418.752 184.68 L418.848 189.382 L418.944 196.628 L419.04 202.224 L419.122 201.536 L419.205 200.869 L419.287 199.927 L419.369 198.669 L419.451 198.443 L419.534 196.848 L419.616 196.56 L419.708 194.777 L419.8 193.742 L419.892 193.058 L419.984 190.64 L420.076 191.355 L420.168 188.64 L420.251 188.991 L420.333 189.317 L420.416 190.855 L420.499 191.094 L420.581 192.542 L420.664 193.358 L420.747 193.188 L420.829 194.63 L420.912 195.144 L420.996 193.963 L421.08 193.468 L421.164 192.221 L421.248 191.508 L421.332 190.843 L421.416 190.484 L421.5 188.718 L421.584 188.064 L421.675 186.021 L421.766 184.017 L421.858 180.521 L421.949 179.048 L422.04 176.184 L422.122 175.439 L422.203 175.184 L422.285 174.676 L422.366 173.764 L422.448 173.352 L422.54 175.064 L422.632 175.997 L422.724 176.499 L422.816 177.451 L422.908 178.537 L423 179.568 L423.082 179.485 L423.165 179.158 L423.247 177.921 L423.329 178.576 L423.411 178.166 L423.494 177.441 L423.576 177.312 L423.668 175.602 L423.76 173.844 L423.852 173.479 L423.944 171.687 L424.036 170.48 L424.128 169.392 L424.21 169.776 L424.293 167.051 L424.375 166.008 L424.457 166.473 L424.539 164.461 L424.622 164.231 L424.704 163.728 L424.786 162.559 L424.867 160.961 L424.949 160.834 L425.03 159.155 L425.112 158.064 L425.204 158.172 L425.296 157.857 L425.388 157.788 L425.48 158.26 L425.572 159.358 L425.664 158.616 L425.755 158.067 L425.846 157.915 L425.938 157.423 L426.029 156.322 L426.12 156.36 L426.211 156.543 L426.302 155.818 L426.394 155.121 L426.485 154.956 L426.576 155.784 L426.672 155.321 L426.768 155.214 L426.864 153.912 L426.96 152.952 L427.042 154.797 L427.125 155.105 L427.207 155.64 L427.289 159.251 L427.371 160.25 L427.454 160.395 L427.536 162.6 L427.618 162.094 L427.699 161.399 L427.781 160.784 L427.862 159.774 L427.944 159.768 L428.036 159.671 L428.128 159.579 L428.22 158.361 L428.312 158.951 L428.404 157.832 L428.496 158.352 L428.578 158.905 L428.661 158.76 L428.743 159.58 L428.825 159.65 L428.907 158.933 L428.99 159.484 L429.072 160.32 L429.161 159.54 L429.25 159.014 L429.339 158.547 L429.429 156.636 L429.518 156.367 L429.607 156.81 L429.696 154.944 L429.792 155.232 L429.888 155.022 L429.984 154.9 L430.08 156.072 L430.171 157.996 L430.262 159.982 L430.354 160.935 L430.445 163.465 L430.536 164.856 L430.618 165.435 L430.701 165.671 L430.783 165.399 L430.865 165.031 L430.947 164.89 L431.03 165.761 L431.112 165.432 L431.196 163.62 L431.28 163.869 L431.364 162.308 L431.448 160.736 L431.532 158.861 L431.616 158.189 L431.7 156.744 L431.784 156.36 L431.875 156.834 L431.966 158.59 L432.058 160.453 L432.149 159.894 L432.24 161.448 L432.336 160.454 L432.432 161.281 L432.528 159.764 L432.624 159.192 L432.715 157.51 L432.806 155.193 L432.898 154.471 L432.989 151.943 L433.08 150.12 L433.162 150.059 L433.243 149.699 L433.325 149.653 L433.406 148.712 L433.488 148.152 L433.572 148.548 L433.656 149.803 L433.74 150.211 L433.824 150.114 L433.908 151.37 L433.992 151.637 L434.076 152.997 L434.16 153.816 L434.251 153.044 L434.342 152.592 L434.434 151.462 L434.525 152.003 L434.616 151.272 L434.707 148.373 L434.798 145.849 L434.89 142.338 L434.981 139.441 L435.072 136.536 L435.156 135.351 L435.24 134.3 L435.324 133.086 L435.408 132.044 L435.492 130.795 L435.576 129.775 L435.66 128.623 L435.744 127.488 L435.826 126.316 L435.907 125.145 L435.989 123.989 L436.07 122.903 L436.152 121.68 L436.238 119.642 L436.323 117.528 L436.409 115.368 L436.495 113.216 L436.581 111.104 L436.666 109.024 L436.752 106.944 L436.832 105.791 L436.912 104.613 L436.992 103.427 L437.072 102.297 L437.152 101.284 L437.232 100.039 L437.312 98.944 L437.392 97.775 L437.472 96.672 L437.555 95.544 L437.637 94.363 L437.72 93.321 L437.803 92.113 L437.885 90.877 L437.968 89.816 L438.051 88.596 L438.133 87.505 L438.216 86.4 L438.298 84.779 L438.381 82.939 L438.463 81.401 L438.545 79.68 L438.627 78.082 L438.71 76.333 L438.792 74.664 L438.88 73.01 L438.968 71.239 L439.056 69.603 L439.144 67.824 L439.232 66.042 L439.32 64.392 L439.404 63.048 L439.488 61.69 L439.572 60.464 L439.656 58.936 L439.74 57.534 L439.824 56.304 L439.91 55.065 L439.997 53.611 L440.083 52.215 L440.17 50.949 L440.256 49.704 L440.344 48.905 L440.432 48.194 L440.52 47.643 L440.608 46.734 L440.696 46.059 L440.784 45.288 L440.864 44.825 L440.944 44.262 L441.024 43.691 L441.104 43.459 L441.184 42.804 L441.264 42.291 L441.344 41.902 L441.424 41.313 L441.504 40.896 L441.589 40.452 L441.674 40.165 L441.759 39.667 L441.844 39.32 L441.929 38.885 L442.014 38.623 L442.098 38.007 L442.183 37.528 L442.268 37.338 L442.353 36.912 L442.438 36.742 L442.523 36.152 L442.608 35.76 L442.693 35.476 L442.778 35.242 L442.863 34.925 L442.948 34.665 L443.033 34.274 L443.118 34.034 L443.202 33.878 L443.287 33.407 L443.372 33.182 L443.457 32.954 L443.542 32.698 L443.627 32.366 L443.712 32.088 L443.797 31.901 L443.882 31.688 L443.967 31.413 L444.052 31.128 L444.137 30.989 L444.222 30.689 L444.306 30.465 L444.391 30.369 L444.476 30.088 L444.561 29.75 L444.646 29.479 L444.731 29.321 L444.816 29.16 L444.896 29.024 L444.977 28.901 L445.057 28.708 L445.138 28.706 L445.218 28.407 L445.298 28.197 L445.379 28.113 L445.459 28.039 L445.54 27.856 L445.62 27.702 L445.7 27.623 L445.781 27.457 L445.861 27.346 L445.942 27.058 L446.022 26.97 L446.102 26.813 L446.183 26.659 L446.263 26.635 L446.344 26.39 L446.424 26.208 L446.507 26.127 L446.591 25.894 L446.674 25.841 L446.757 25.784 L446.84 25.642 L446.924 25.447 L447.007 25.445 L447.09 25.282 L447.174 25.244 L447.257 25.101 L447.34 25.01 L447.424 24.762 L447.507 24.662 L447.59 24.657 L447.673 24.687 L447.757 24.415 L447.84 24.24 L447.92 24.212 L448 24.064 L448.08 24.158 L448.16 23.955 L448.24 23.852 L448.32 23.802 L448.4 23.659 L448.48 23.662 L448.56 23.545 L448.64 23.442 L448.72 23.273 L448.8 23.214 L448.88 23.186 L448.96 22.973 L449.04 22.988 L449.12 22.967 L449.2 22.885 L449.28 22.961 L449.36 22.584 L449.44 22.631 L449.52 22.537 L449.6 22.505 L449.68 22.385 L449.76 22.269 L449.84 22.257 L449.92 22.143 L450 22.08" stroke="#ff0000" stroke-width="0.5"/>
<path d="M67.2 55.32 L67.284 55.638 L67.368 55 L67.452 55.452 L67.536 55.334 L67.62 55.375 L67.704 55.433 L67.788 55.197 L67.872 55.479 L67.956 55.411 L68.04 55.56 L68.125 56.025 L68.211 55.566 L68.296 55.469 L68.381 55.466 L68.467 55.397 L68.552 55.328 L68.637 55.41 L68.723 55.523 L68.808 55.44 L68.892 55.436 L68.976 55.638 L69.06 55.501 L69.144 55.563 L69.228 55.813 L69.312 55.698 L69.396 55.577 L69.48 55.68 L69.568 55.622 L69.656 55.694 L69.744 55.863 L69.832 55.513 L69.92 55.485 L70.008 55.488 L70.087 55.784 L70.166 55.663 L70.246 55.9 L70.325 56.22 L70.404 56.328 L70.483 56.408 L70.562 56.643 L70.642 56.29 L70.721 56.996 L70.8 57 L70.88 56.755 L70.96 56.546 L71.04 56.72 L71.12 56.674 L71.2 56.403 L71.28 56.205 L71.36 56.257 L71.44 56.139 L71.52 56.04 L71.604 56.317 L71.688 56.298 L71.772 56.293 L71.856 56.5 L71.94 56.385 L72.024 56.357 L72.108 56.649 L72.192 56.64 L72.3 57.6 L72.408 58.392 L72.487 59.403 L72.566 60.362 L72.646 61.55 L72.725 62.379 L72.804 63.65 L72.883 64.677 L72.962 65.565 L73.042 66.729 L73.121 67.697 L73.2 68.808 L73.286 70.46 L73.371 71.857 L73.457 73.535 L73.543 75.25 L73.629 76.88 L73.714 78.239 L73.8 79.992 L73.886 81.67 L73.971 83.444 L74.057 85.091 L74.143 86.964 L74.229 88.478 L74.314 90.303 L74.4 91.992 L74.496 94.917 L74.592 97.992 L74.674 98.213 L74.755 98.23 L74.837 98.325 L74.918 98.348 L75 98.592 L75.082 100.005 L75.164 101.229 L75.245 102.521 L75.327 103.84 L75.409 105.075 L75.491 106.296 L75.573 107.576 L75.655 108.867 L75.736 110.315 L75.818 111.403 L75.9 112.8 L75.986 114.643 L76.071 116.548 L76.157 118.473 L76.243 120.384 L76.329 122.139 L76.414 123.99 L76.5 126 L76.582 127.145 L76.664 128.378 L76.745 129.491 L76.827 130.597 L76.909 131.704 L76.991 132.894 L77.073 134.001 L77.155 135.222 L77.236 136.252 L77.318 137.464 L77.4 138.6 L77.486 138.849 L77.571 139.153 L77.657 139.388 L77.743 139.812 L77.829 139.994 L77.914 140.251 L78 140.4 L78.08 141.253 L78.16 142.375 L78.24 143.356 L78.32 144.438 L78.4 145.236 L78.48 146.4 L78.566 147.085 L78.651 147.677 L78.737 148.106 L78.823 148.73 L78.909 149.342 L78.994 150.003 L79.08 150.6 L79.164 151.876 L79.248 153.207 L79.332 154.276 L79.416 155.575 L79.5 156.761 L79.584 158.107 L79.668 159.263 L79.752 160.539 L79.836 161.592 L79.92 162.9 L80.006 163.015 L80.091 163.099 L80.177 163.394 L80.263 163.462 L80.349 163.521 L80.434 163.639 L80.52 163.8 L80.607 164.368 L80.693 164.665 L80.78 165.132 L80.867 166.072 L80.953 167.176 L81.04 166.929 L81.127 167.373 L81.213 167.729 L81.3 168.6 L81.385 168.716 L81.47 169.751 L81.555 170.345 L81.64 170.603 L81.725 171.196 L81.81 171.633 L81.895 172.14 L81.98 172.16 L82.065 172.968 L82.15 173.632 L82.235 173.874 L82.32 174.6 L82.41 174.373 L82.5 174.184 L82.59 174.234 L82.68 174.24 L82.766 174.923 L82.851 174.997 L82.937 175.507 L83.023 176.223 L83.109 176.611 L83.194 177.351 L83.28 177.3 L83.37 176.148 L83.46 176.447 L83.55 175.511 L83.64 175.139 L83.73 174.791 L83.82 174 L83.907 175.579 L83.993 176.833 L84.08 177.845 L84.167 179.53 L84.253 180.252 L84.34 181.559 L84.427 183.097 L84.513 183.975 L84.6 185.4 L84.68 185.522 L84.76 184.694 L84.84 184.527 L84.92 183.392 L85 182.79 L85.08 182.4 L85.164 182.088 L85.248 181.892 L85.332 181.151 L85.416 181.069 L85.5 180.595 L85.584 180.705 L85.668 179.689 L85.752 179.821 L85.836 178.975 L85.92 178.8 L86.007 179.557 L86.093 180.662 L86.18 181.557 L86.267 182.975 L86.353 184.264 L86.44 185.047 L86.527 186.213 L86.613 187.537 L86.7 188.1 L86.784 186.798 L86.868 185.396 L86.952 183.881 L87.036 182.117 L87.12 181.2 L87.2 181.919 L87.28 181.694 L87.36 182.888 L87.44 183.196 L87.52 184.025 L87.6 184.2 L87.682 183.853 L87.764 183.308 L87.845 183.321 L87.927 182.73 L88.009 182.512 L88.091 182.248 L88.173 181.87 L88.255 181.527 L88.336 181.015 L88.418 180.873 L88.5 180.6 L88.586 179.898 L88.671 180.383 L88.757 179.998 L88.843 180.58 L88.929 180.537 L89.014 179.524 L89.1 180 L89.18 179.175 L89.26 178.23 L89.34 177.099 L89.42 176.686 L89.5 175.534 L89.58 174.291 L89.66 173.857 L89.74 173.024 L89.82 172.2 L89.902 173.056 L89.985 173.495 L90.067 174.852 L90.15 175.712 L90.232 175.995 L90.315 176.96 L90.397 177.952 L90.48 178.8 L90.564 178.397 L90.648 178.822 L90.732 178.14 L90.816 177.549 L90.9 177.6 L90.984 178.633 L91.068 180.103 L91.152 182.041 L91.236 182.589 L91.32 183.9 L91.4 182.937 L91.48 182.048 L91.56 180.888 L91.64 180.557 L91.72 178.747 L91.8 177.9 L91.88 178.814 L91.96 179.346 L92.04 180.179 L92.12 180.361 L92.2 181.909 L92.28 182.1 L92.364 181.525 L92.448 181.03 L92.532 180.211 L92.616 179.73 L92.7 179.563 L92.784 179.144 L92.868 178.537 L92.952 178.128 L93.036 177.446 L93.12 176.7 L93.2 177.058 L93.28 177.641 L93.36 177.921 L93.44 178.071 L93.52 178.659 L93.6 178.8 L93.68 179.504 L93.76 179.534 L93.84 179.697 L93.92 180.34 L94 181.014 L94.08 180.739 L94.16 181.107 L94.24 181.427 L94.32 181.8 L94.407 182.352 L94.493 181.671 L94.58 182.505 L94.667 182.943 L94.753 182.566 L94.84 183.429 L94.927 183.354 L95.013 183.242 L95.1 183.6 L95.185 183.159 L95.27 182.158 L95.355 181.937 L95.44 182.126 L95.525 180.843 L95.61 181.131 L95.695 180.077 L95.78 179.886 L95.865 179.113 L95.95 177.954 L96.035 177.935 L96.12 177.6 L96.2 178.355 L96.28 178.669 L96.36 179.312 L96.44 180.505 L96.52 180.913 L96.6 181.8 L96.68 180.262 L96.76 179.503 L96.84 178.898 L96.92 177.464 L97 176.819 L97.08 175.5 L97.164 177.92 L97.248 179.469 L97.332 181.115 L97.416 183.045 L97.5 185.4 L97.582 185.774 L97.664 186.417 L97.745 186.623 L97.827 187.085 L97.909 187.181 L97.991 187.777 L98.073 187.937 L98.155 188.361 L98.236 188.464 L98.318 188.765 L98.4 189.6 L98.486 189.89 L98.571 190.138 L98.657 190.61 L98.743 191.508 L98.829 191.712 L98.914 193.011 L99 192.6 L99.086 193.467 L99.171 193.618 L99.257 194.624 L99.343 195.103 L99.429 195.403 L99.514 196.518 L99.6 196.8 L99.686 197.391 L99.771 197.548 L99.857 199.472 L99.943 199.879 L100.029 201.299 L100.114 201.499 L100.2 202.5 L100.286 202.203 L100.371 203.032 L100.457 202.319 L100.543 202.73 L100.629 203.132 L100.714 202.79 L100.8 202.8 L100.886 202.22 L100.971 201.715 L101.057 201.37 L101.143 200.339 L101.229 200.19 L101.314 199.623 L101.4 198.9 L101.48 200.222 L101.56 200.103 L101.64 200.587 L101.72 201.712 L101.8 202.036 L101.88 202.8 L101.97 202.233 L102.06 201.538 L102.15 201.186 L102.24 200.011 L102.33 199.523 L102.42 198.9 L102.506 198.979 L102.591 200.272 L102.677 201.785 L102.763 201.961 L102.849 202.769 L102.934 203.435 L103.02 204.6 L103.1 204.817 L103.18 204.751 L103.26 204.408 L103.34 204.992 L103.42 204.925 L103.5 204.9 L103.584 204.397 L103.668 203.275 L103.752 203.241 L103.836 202.138 L103.92 201.3 L104.01 202.391 L104.1 203.401 L104.19 204.604 L104.28 205.8 L104.37 208.247 L104.46 210.123 L104.55 212.711 L104.64 214.767 L104.73 217.188 L104.82 219 L104.9 218.934 L104.98 218.382 L105.06 217.55 L105.14 217.886 L105.22 217.727 L105.3 217.2 L105.384 218.267 L105.468 219.4 L105.552 220.124 L105.636 221.17 L105.72 222.3 L105.8 221.229 L105.88 221.092 L105.96 219.946 L106.04 218.958 L106.12 217.916 L106.2 217.5 L106.28 218.806 L106.36 220.615 L106.44 221.683 L106.52 222.691 L106.6 224.662 L106.68 225.6 L106.76 230.011 L106.84 233.882 L106.92 237.827 L107 241.933 L107.08 245.756 L107.16 249.823 L107.24 253.375 L107.32 258.032 L107.4 261.6 L107.486 259.952 L107.571 258.754 L107.657 255.869 L107.743 254.946 L107.829 253.311 L107.914 251.216 L108 249.6 L108.08 245.964 L108.16 242.282 L108.24 238.466 L108.32 234.378 L108.4 230.726 L108.48 227.293 L108.56 223.601 L108.64 219.495 L108.72 215.7 L108.8 216.872 L108.88 218.058 L108.96 219.449 L109.04 219.996 L109.12 221.067 L109.2 222.6 L109.28 221.436 L109.36 219.881 L109.44 218.831 L109.52 217.825 L109.6 216.739 L109.68 215.4 L109.764 215.691 L109.848 216.831 L109.932 216.689 L110.016 217.957 L110.1 218.4 L110.2 216.346 L110.3 214.833 L110.4 213.6 L110.487 212.918 L110.573 211.75 L110.66 210.771 L110.747 210.005 L110.833 209.401 L110.92 208.384 L111.007 207.525 L111.093 206.97 L111.18 205.8 L111.26 205.86 L111.34 206.197 L111.42 206.45 L111.5 207.203 L111.58 207.419 L111.66 207.771 L111.74 207.657 L111.82 207.888 L111.9 208.2 L111.987 211.879 L112.073 214.953 L112.16 218.739 L112.247 222.142 L112.333 225.166 L112.42 228.776 L112.507 232.199 L112.593 236.166 L112.68 239.1 L112.76 236.745 L112.84 232.871 L112.92 229.804 L113 226.043 L113.08 223.661 L113.16 220.498 L113.24 217.091 L113.32 214.526 L113.4 211.2 L113.486 211.263 L113.571 212.167 L113.657 212.783 L113.743 212.897 L113.829 214.018 L113.914 214.59 L114 214.8 L114.08 215.301 L114.16 216.195 L114.24 217.673 L114.32 218.391 L114.4 218.951 L114.48 220.2 L114.58 218.415 L114.68 216.769 L114.78 215.1 L114.87 217.209 L114.96 219.638 L115.05 221.661 L115.14 224.21 L115.23 226.246 L115.32 228 L115.402 226.668 L115.484 225.256 L115.565 223.799 L115.647 222.094 L115.729 220.011 L115.811 219.084 L115.893 217.33 L115.975 216.248 L116.056 214.281 L116.138 212.879 L116.22 211.2 L116.302 211.745 L116.385 212.584 L116.467 212.601 L116.55 212.922 L116.632 213.539 L116.715 213.773 L116.797 214.397 L116.88 214.8 L116.966 215.612 L117.051 216.507 L117.137 217.797 L117.223 217.94 L117.309 218.882 L117.394 219.628 L117.48 220.5 L117.564 219.194 L117.648 217.16 L117.732 215.8 L117.816 214.489 L117.9 213 L117.986 211.957 L118.071 210.587 L118.157 209.256 L118.243 207.95 L118.329 207.147 L118.414 206.215 L118.5 204.6 L118.587 203.86 L118.673 202.988 L118.76 202.228 L118.847 200.995 L118.933 200.344 L119.02 199.523 L119.107 198.852 L119.193 197.924 L119.28 197.1 L119.366 197.307 L119.451 198.538 L119.537 199.259 L119.623 199.253 L119.709 200.001 L119.794 200.52 L119.88 201 L119.97 203.326 L120.06 204.774 L120.15 207.765 L120.24 209.265 L120.33 211.864 L120.42 213.6 L120.506 212.252 L120.591 210.745 L120.677 209.445 L120.763 208.373 L120.849 206.494 L120.934 205.263 L121.02 204 L121.1 204.611 L121.18 205.006 L121.26 206.625 L121.34 207.167 L121.42 207.744 L121.5 208.5 L121.585 207.285 L121.67 205.125 L121.755 203.829 L121.84 202.797 L121.925 201.032 L122.01 198.559 L122.095 196.69 L122.18 195.801 L122.265 194.856 L122.35 192.864 L122.435 191.387 L122.52 189.9 L122.602 190.525 L122.685 190.545 L122.767 191.311 L122.85 191.928 L122.932 192.284 L123.015 192.714 L123.097 192.877 L123.18 193.5 L123.26 193.615 L123.34 193.31 L123.42 193.776 L123.5 194.107 L123.58 193.12 L123.66 192.674 L123.74 193.144 L123.82 193.342 L123.9 193.2 L123.986 192.988 L124.071 192.482 L124.157 191.431 L124.243 190.914 L124.329 190.994 L124.414 189.8 L124.5 189.6 L124.6 189.314 L124.7 188.335 L124.8 187.8 L124.88 187.587 L124.96 187.137 L125.04 186.724 L125.12 186.303 L125.2 185.348 L125.28 185.286 L125.36 184.771 L125.44 184.422 L125.52 183.9 L125.6 184.555 L125.68 184.422 L125.76 184.595 L125.84 184.89 L125.92 185.31 L126 185.7 L126.08 185.383 L126.16 184.399 L126.24 184.434 L126.32 183.65 L126.4 182.968 L126.48 182.116 L126.56 182.037 L126.64 181.632 L126.72 180.9 L126.806 180.434 L126.891 181.329 L126.977 181.503 L127.063 181.169 L127.149 181.256 L127.234 181.852 L127.32 181.2 L127.41 181.03 L127.5 179.891 L127.59 179.62 L127.68 179.1 L127.77 178.005 L127.86 176.957 L127.95 175.269 L128.04 174.9 L128.13 176.018 L128.22 176.517 L128.31 177.647 L128.4 178.5 L128.48 178.861 L128.56 179.551 L128.64 179.615 L128.72 179.871 L128.8 180.653 L128.88 180.9 L128.964 182.925 L129.048 184.048 L129.132 186.155 L129.216 187.456 L129.3 189 L129.4 190.647 L129.5 193.039 L129.6 194.4 L129.684 194.884 L129.768 196.132 L129.852 196.417 L129.936 197.41 L130.02 198 L130.12 197.445 L130.22 197.359 L130.32 197.4 L130.4 198.407 L130.48 198.854 L130.56 199.511 L130.64 200.073 L130.72 201.029 L130.8 201.6 L130.887 201.431 L130.973 201.744 L131.06 202.255 L131.147 202.293 L131.233 202.565 L131.32 202.979 L131.407 203.194 L131.493 203.403 L131.58 203.7 L131.664 203.04 L131.748 201.711 L131.832 200.634 L131.916 199.132 L132 198 L132.086 197.555 L132.171 196.981 L132.257 197 L132.343 196.199 L132.429 196.332 L132.514 196.42 L132.6 195.9 L132.682 196.312 L132.764 196.069 L132.845 195.488 L132.927 195.824 L133.009 195.4 L133.091 195.81 L133.173 195.486 L133.255 195.711 L133.336 196.15 L133.418 195.62 L133.5 195.3 L133.584 196.212 L133.668 195.831 L133.752 195.925 L133.836 196.644 L133.92 196.5 L134.01 196.622 L134.1 195.59 L134.19 195.397 L134.28 195 L134.37 194.887 L134.46 195.542 L134.55 196.156 L134.64 196.175 L134.73 196.336 L134.82 196.8 L134.907 196.328 L134.993 196.773 L135.08 196.83 L135.167 196.705 L135.253 196.54 L135.34 196.033 L135.427 196.841 L135.513 196.25 L135.6 196.2 L135.684 195.978 L135.768 196.051 L135.852 195.037 L135.936 195.461 L136.02 195.3 L136.107 195.627 L136.193 196.141 L136.28 196.788 L136.367 196.903 L136.453 196.606 L136.54 197.402 L136.627 197.926 L136.713 198.276 L136.8 198.6 L136.886 198.617 L136.971 198.892 L137.057 199.915 L137.143 200.242 L137.229 200.522 L137.314 200.417 L137.4 201.3 L137.48 201.861 L137.56 200.565 L137.64 201.345 L137.72 202.102 L137.8 201.505 L137.88 201.6 L137.964 202.207 L138.048 202.34 L138.132 203.611 L138.216 203.388 L138.3 204.3 L138.38 203.923 L138.46 203.439 L138.54 202.647 L138.62 202.755 L138.7 201.642 L138.78 201.6 L138.864 201.163 L138.948 201.112 L139.032 200.761 L139.116 200.775 L139.2 200.4 L139.3 200.966 L139.4 200.915 L139.5 201.3 L139.586 201.787 L139.671 202.437 L139.757 203.123 L139.843 204.105 L139.929 204.452 L140.014 205.275 L140.1 205.8 L140.186 205.174 L140.271 204.357 L140.357 204.249 L140.443 203.101 L140.529 202.802 L140.614 202.628 L140.7 201.6 L140.786 201.114 L140.871 201.241 L140.957 200.629 L141.043 200.768 L141.129 200.312 L141.214 200.467 L141.3 200.4 L141.384 200.101 L141.468 200.15 L141.552 200.424 L141.636 199.905 L141.72 199.68 L141.806 199.801 L141.891 199.528 L141.977 199.404 L142.063 199.166 L142.149 198.818 L142.234 199.288 L142.32 199.2 L142.4 199.869 L142.48 199.737 L142.56 199.646 L142.64 200.475 L142.72 200.075 L142.8 200.4 L142.886 200.822 L142.971 201.251 L143.057 201.923 L143.143 202.729 L143.229 203.976 L143.314 203.941 L143.4 204.6 L143.5 205.303 L143.6 206.426 L143.7 207.6 L143.786 207.622 L143.871 207.278 L143.957 207.894 L144.043 208.145 L144.129 208.121 L144.214 208.287 L144.3 208.2 L144.386 208.171 L144.471 208.397 L144.557 209.599 L144.643 209.887 L144.729 209.471 L144.814 210.317 L144.9 210.6 L144.986 211.293 L145.071 212.128 L145.157 212.717 L145.243 213.198 L145.329 214.085 L145.414 214.76 L145.5 215.4 L145.586 215.472 L145.671 215.038 L145.757 214.795 L145.843 215.515 L145.929 215.358 L146.014 215.987 L146.1 216 L146.186 215.906 L146.271 215.476 L146.357 214.994 L146.443 214.82 L146.529 214.836 L146.614 213.99 L146.7 213.9 L146.786 214.251 L146.871 214.275 L146.957 214.233 L147.043 214.661 L147.129 214.122 L147.214 214.686 L147.3 214.5 L147.38 213.932 L147.46 213.679 L147.54 213.295 L147.62 213.428 L147.7 212.729 L147.78 212.7 L147.864 213.855 L147.948 214.653 L148.032 216.427 L148.116 217.789 L148.2 218.4 L148.3 219.365 L148.4 220.673 L148.5 221.1 L148.586 220.276 L148.671 219.753 L148.757 218.172 L148.843 216.705 L148.929 216.601 L149.014 215.149 L149.1 214.2 L149.182 213.82 L149.264 213.847 L149.345 213.486 L149.427 213.824 L149.509 213.482 L149.591 214.137 L149.673 213.819 L149.755 213.067 L149.836 213.029 L149.918 213.219 L150 213.3 L150.086 213.046 L150.171 213.868 L150.257 214.187 L150.343 214.277 L150.429 214.643 L150.514 215.244 L150.6 215.4 L150.686 214.909 L150.771 214.031 L150.857 212.71 L150.943 212.046 L151.029 210.687 L151.114 210.119 L151.2 209.1 L151.286 209.124 L151.371 209.91 L151.457 209.643 L151.543 210.022 L151.629 210.598 L151.714 211.06 L151.8 211.2 L151.88 211.186 L151.96 211.845 L152.04 212.439 L152.12 212.866 L152.2 212.958 L152.28 213.6 L152.36 214.461 L152.44 215.19 L152.52 216.504 L152.6 217.094 L152.68 217.385 L152.76 217.966 L152.84 219.462 L152.92 220.607 L153 221.1 L153.08 220.3 L153.16 219.654 L153.24 218.41 L153.32 217.307 L153.4 217.066 L153.48 216 L153.564 216.868 L153.648 217.877 L153.732 218.122 L153.816 219.412 L153.9 220.2 L153.984 219.9 L154.068 220.192 L154.152 219.673 L154.236 219.545 L154.32 219.6 L154.4 218.431 L154.48 217.964 L154.56 216.608 L154.64 215.381 L154.72 214.305 L154.8 213.6 L154.88 213.449 L154.96 214.321 L155.04 213.527 L155.12 213.955 L155.2 214.534 L155.28 214.5 L155.364 216.339 L155.448 217.457 L155.532 219.226 L155.616 220.719 L155.7 222 L155.78 221.984 L155.86 221.413 L155.94 221.577 L156.02 220.862 L156.1 220.946 L156.18 220.2 L156.27 220.488 L156.36 221.677 L156.45 221.644 L156.54 222.175 L156.63 223.351 L156.72 223.8 L156.806 223.398 L156.891 223.595 L156.977 222.986 L157.063 223.587 L157.149 222.956 L157.234 222.456 L157.32 222.6 L157.4 222.962 L157.48 223.466 L157.56 223.291 L157.64 223.962 L157.72 224.703 L157.8 224.4 L157.9 227.664 L158 230.411 L158.1 233.4 L158.186 234.065 L158.271 235.21 L158.357 235.421 L158.443 235.797 L158.529 237.295 L158.614 237.99 L158.7 239.1 L158.786 237.775 L158.871 235.471 L158.957 233.304 L159.043 231.41 L159.129 230.046 L159.214 227.821 L159.3 226.2 L159.4 227.95 L159.5 229.991 L159.6 231.9 L159.684 229.363 L159.768 226.786 L159.852 224.212 L159.936 221.974 L160.02 219 L160.12 222.909 L160.22 225.344 L160.32 229.2 L160.41 228.012 L160.5 225.357 L160.59 223.729 L160.68 221.4 L160.76 224.808 L160.84 228.714 L160.92 232.283 L161 235.854 L161.08 239.667 L161.16 243.203 L161.24 246.332 L161.32 250.187 L161.4 253.8 L161.486 250.303 L161.571 246.562 L161.657 242.539 L161.743 238.826 L161.829 235.134 L161.914 231.132 L162 227.7 L162.086 229.622 L162.171 232.717 L162.257 234.422 L162.343 236.835 L162.429 238.863 L162.514 241.724 L162.6 243.6 L162.68 244.776 L162.76 244.858 L162.84 245.72 L162.92 246.004 L163 247.38 L163.08 247.5 L163.164 245.688 L163.248 243.08 L163.332 241.581 L163.416 239.225 L163.5 237 L163.586 235.941 L163.671 234.724 L163.757 233.229 L163.843 232.066 L163.929 231.201 L164.014 229.807 L164.1 228.6 L164.2 229.748 L164.3 232.006 L164.4 232.8 L164.48 231.41 L164.56 229.959 L164.64 228.569 L164.72 227.619 L164.8 226.351 L164.88 224.7 L164.964 225.451 L165.048 226.29 L165.132 226.268 L165.216 227.253 L165.3 228 L165.4 228.084 L165.5 228.421 L165.6 228.6 L165.686 227.731 L165.771 225.975 L165.857 226.433 L165.943 224.255 L166.029 223.575 L166.114 222.685 L166.2 221.4 L166.28 222.396 L166.36 222.954 L166.44 222.779 L166.52 224.037 L166.6 225.301 L166.68 225.55 L166.76 226.244 L166.84 226.603 L166.92 228 L167.007 227.498 L167.093 226.427 L167.18 225.155 L167.267 224.507 L167.353 223.649 L167.44 222.489 L167.527 221.864 L167.613 221.149 L167.7 220.2 L167.786 221.225 L167.871 222.287 L167.957 222.788 L168.043 223.503 L168.129 224.609 L168.214 225.168 L168.3 226.2 L168.386 224.732 L168.471 224.307 L168.557 222.754 L168.643 221.784 L168.729 220.822 L168.814 219.201 L168.9 218.4 L168.986 217.862 L169.071 217.078 L169.157 216.192 L169.243 215.605 L169.329 214.545 L169.414 213.399 L169.5 213.3 L169.584 213.464 L169.668 213.523 L169.752 214.275 L169.836 214.341 L169.92 214.5 L170 213.323 L170.08 212.459 L170.16 211.805 L170.24 210.712 L170.32 209.461 L170.4 208.32 L170.5 210.409 L170.6 212.165 L170.7 214.2 L170.78 214.767 L170.86 215.575 L170.94 215.971 L171.02 216.691 L171.1 216.884 L171.18 217.8 L171.28 215.924 L171.38 214.515 L171.48 213.6 L171.564 213.959 L171.648 214.947 L171.732 215.385 L171.816 215.237 L171.9 216 L171.98 215.306 L172.06 215.733 L172.14 215.388 L172.22 214.61 L172.3 215.059 L172.38 214.5 L172.464 214.735 L172.548 215.246 L172.632 215.143 L172.716 215.481 L172.8 215.4 L172.88 216.197 L172.96 216.53 L173.04 217.437 L173.12 218.009 L173.2 219.143 L173.28 219.6 L173.366 218.974 L173.451 218.477 L173.537 218.772 L173.623 218.563 L173.709 218.306 L173.794 217.862 L173.88 217.2 L173.966 217.112 L174.051 217.689 L174.137 218.074 L174.223 218.569 L174.309 218.297 L174.394 219.258 L174.48 219.6 L174.566 220.412 L174.651 220.787 L174.737 221.823 L174.823 222.861 L174.909 223.259 L174.994 224.279 L175.08 224.7 L175.16 224.095 L175.24 223.021 L175.32 222 L175.4 224.064 L175.48 225.796 L175.56 228.211 L175.64 229.668 L175.72 231.552 L175.8 233.7 L175.88 232.757 L175.96 231.194 L176.04 230.376 L176.12 229.408 L176.2 227.977 L176.28 226.8 L176.36 224.834 L176.44 223.068 L176.52 221.021 L176.6 218.36 L176.68 216.426 L176.76 214.8 L176.85 215.387 L176.94 215.316 L177.03 214.805 L177.12 215.216 L177.21 215.812 L177.3 216 L177.386 216.022 L177.471 216.74 L177.557 216.927 L177.643 217.346 L177.729 217.169 L177.814 217.984 L177.9 218.1 L177.986 219.57 L178.071 219.677 L178.157 221.184 L178.243 221.989 L178.329 222.792 L178.414 223.487 L178.5 224.4 L178.586 224.929 L178.671 225.868 L178.757 227.198 L178.843 228.117 L178.929 229.044 L179.014 229.826 L179.1 230.4 L179.18 229.667 L179.26 228.282 L179.34 227.059 L179.42 226.466 L179.5 225.551 L179.58 224.4 L179.67 226.382 L179.76 227.869 L179.85 230.107 L179.94 231.782 L180.03 234.199 L180.12 236.1 L180.2 234.255 L180.28 232.959 L180.36 231.55 L180.44 229.947 L180.52 228.751 L180.6 226.8 L180.68 226.889 L180.76 226.978 L180.84 228.28 L180.92 228.811 L181 229.22 L181.08 229.2 L181.164 230.13 L181.248 231.043 L181.332 231.763 L181.416 232.195 L181.5 233.4 L181.6 229.544 L181.7 226.151 L181.8 222.3 L181.886 222.699 L181.971 223.972 L182.057 223.536 L182.143 224.412 L182.229 225.414 L182.314 225.477 L182.4 226.2 L182.48 228.683 L182.56 231.417 L182.64 234.399 L182.72 237.844 L182.8 240.327 L182.88 243 L182.97 242.658 L183.06 241.86 L183.15 241.752 L183.24 241.04 L183.33 240.244 L183.42 240 L183.5 240.079 L183.58 240.468 L183.66 240.947 L183.74 240.793 L183.82 241.154 L183.9 241.2 L183.98 242.841 L184.06 243.08 L184.14 244.002 L184.22 245.693 L184.3 246.586 L184.38 247.5 L184.464 246.462 L184.548 245.546 L184.632 244.355 L184.716 243.579 L184.8 242.4 L184.886 242.313 L184.971 242.64 L185.057 242.073 L185.143 242.175 L185.229 242.444 L185.314 242.275 L185.4 242.4 L185.48 240.861 L185.56 238.898 L185.64 237.004 L185.72 235.471 L185.8 233.508 L185.88 231.9 L185.964 232.482 L186.048 233.623 L186.132 234.74 L186.216 235.856 L186.3 237 L186.384 241.179 L186.468 245.554 L186.552 249.59 L186.636 254.084 L186.72 257.7 L186.81 256.054 L186.9 253.608 L186.99 252.113 L187.08 249.6 L187.164 251.213 L187.248 252.002 L187.332 253.482 L187.416 254.968 L187.5 255.9 L187.6 255.083 L187.7 254.406 L187.8 253.2 L187.884 254.887 L187.968 256.536 L188.052 257.802 L188.136 259.562 L188.22 261 L188.31 258.359 L188.4 256.108 L188.49 252.877 L188.58 250.8 L188.67 249.41 L188.76 248.174 L188.85 246.481 L188.94 244.806 L189.03 243.469 L189.12 241.8 L189.21 243.82 L189.3 246.074 L189.39 248.46 L189.48 250.8 L189.564 249.031 L189.648 247.612 L189.732 245.336 L189.816 244.142 L189.9 242.1 L189.984 243.341 L190.068 245.247 L190.152 247.143 L190.236 249.167 L190.32 250.5 L190.4 249.087 L190.48 247.396 L190.56 246.884 L190.64 245.505 L190.72 243.952 L190.8 243 L190.88 244.013 L190.96 245.413 L191.04 246.942 L191.12 248.404 L191.2 249.088 L191.28 250.8 L191.38 249.672 L191.48 247.202 L191.58 245.4 L191.664 246.746 L191.748 248.487 L191.832 249.765 L191.916 251.846 L192 252.6 L192.08 254.529 L192.16 255.707 L192.24 257.3 L192.32 258.87 L192.4 260.515 L192.48 262.2 L192.564 261.207 L192.648 259.627 L192.732 259.077 L192.816 257.389 L192.9 256.2 L192.986 254.885 L193.071 253.914 L193.157 251.785 L193.243 250.8 L193.329 249.956 L193.414 248.501 L193.5 247.2 L193.6 250.609 L193.7 254.127 L193.8 257.4 L193.88 256.639 L193.96 256.163 L194.04 255.22 L194.12 254.472 L194.2 254.776 L194.28 253.8 L194.36 255.093 L194.44 256.706 L194.52 258.864 L194.6 260.317 L194.68 261.41 L194.76 263.1 L194.85 261.309 L194.94 259.788 L195.03 257.886 L195.12 256.669 L195.21 254.903 L195.3 253.2 L195.38 254.449 L195.46 255.828 L195.54 257.018 L195.62 258.542 L195.7 259.648 L195.78 260.4 L195.864 261.479 L195.948 263.79 L196.032 264.769 L196.116 266.24 L196.2 268.2 L196.28 269.166 L196.36 269.509 L196.44 270.37 L196.52 271.519 L196.6 271.77 L196.68 272.7 L196.764 271.253 L196.848 270.405 L196.932 269.463 L197.016 268.063 L197.1 266.7 L197.186 265.406 L197.271 264.809 L197.357 264.096 L197.443 263.838 L197.529 262.683 L197.614 261.813 L197.7 260.7 L197.786 259.043 L197.871 256.593 L197.957 254.806 L198.043 252.795 L198.129 250.358 L198.214 248.621 L198.3 246.6 L198.386 246.602 L198.471 245.957 L198.557 246.33 L198.643 246.144 L198.729 246.052 L198.814 245.359 L198.9 245.4 L198.98 246.542 L199.06 248.03 L199.14 248.939 L199.22 249.584 L199.3 250.976 L199.38 252 L199.46 255.087 L199.54 257.322 L199.62 260.121 L199.7 263.417 L199.78 265.333 L199.86 267.98 L199.94 270.388 L200.02 273.154 L200.1 276 L200.187 275.171 L200.273 273.437 L200.36 271.868 L200.447 270.675 L200.533 269.678 L200.62 268.63 L200.707 266.928 L200.793 266.081 L200.88 264.6 L200.96 266.335 L201.04 268.444 L201.12 270.358 L201.2 272.249 L201.28 273.816 L201.36 275.758 L201.44 277.819 L201.52 279.167 L201.6 281.4 L201.686 279.912 L201.771 278.467 L201.857 277.076 L201.943 275.222 L202.029 273.636 L202.114 272.187 L202.2 270.6 L202.286 271.677 L202.371 273.114 L202.457 274.577 L202.543 275.826 L202.629 276.729 L202.714 278.221 L202.8 279.6 L202.9 275.792 L203 273.431 L203.1 270 L203.18 268.047 L203.26 266.468 L203.34 264.283 L203.42 262.774 L203.5 261.127 L203.58 259.2 L203.664 260.92 L203.748 261.686 L203.832 263.76 L203.916 264.909 L204 266.4 L204.08 266.673 L204.16 267.533 L204.24 267.811 L204.32 268.31 L204.4 268.693 L204.48 269.4 L204.57 271.01 L204.66 272.506 L204.75 273.995 L204.84 275.32 L204.93 276.997 L205.02 278.7 L205.1 276.66 L205.18 274.763 L205.26 272.237 L205.34 270.501 L205.42 267.941 L205.5 265.8 L205.586 267.623 L205.671 270.262 L205.757 271.945 L205.843 274.481 L205.929 276.817 L206.014 278.563 L206.1 280.8 L206.182 275.031 L206.265 270.03 L206.347 263.651 L206.43 257.92 L206.512 252.332 L206.595 246.341 L206.677 240.607 L206.76 234.9 L206.856 239.027 L206.952 242.252 L207.048 247.371 L207.144 250.992 L207.228 255.308 L207.312 259.933 L207.396 265.026 L207.48 269.507 L207.564 273.767 L207.648 278.76 L207.732 278.436 L207.816 277.667 L207.9 277.415 L207.984 276.803 L208.068 276.617 L208.152 276.48 L208.234 273.445 L208.315 270.222 L208.397 267.132 L208.478 264.164 L208.56 260.76 L208.644 261.673 L208.728 262.425 L208.812 263.464 L208.896 264.48 L208.98 263.989 L209.064 262.564 L209.148 261.687 L209.232 260.607 L209.316 259.745 L209.4 258.72 L209.482 259.799 L209.563 260.632 L209.645 261.55 L209.726 262.33 L209.808 263.52 L209.894 264.77 L209.979 266.628 L210.065 268.225 L210.151 269.773 L210.237 271.022 L210.322 272.267 L210.408 274.008 L210.494 273.397 L210.579 272.606 L210.665 271.21 L210.751 271.086 L210.837 270.236 L210.922 269.761 L211.008 268.5 L211.104 268.984 L211.2 269.753 L211.296 271.16 L211.392 271.752 L211.474 269.633 L211.555 268.34 L211.637 266.638 L211.718 265.063 L211.8 263.76 L211.884 263.288 L211.968 263.847 L212.052 264.276 L212.136 264.202 L212.22 264.284 L212.304 264.24 L212.395 262.487 L212.486 261.359 L212.578 259.449 L212.669 257.953 L212.76 256.008 L212.856 255.805 L212.952 256.596 L213.048 256.415 L213.144 256.992 L213.228 258.757 L213.312 260.382 L213.396 261.67 L213.48 263.712 L213.564 265.663 L213.648 267 L213.732 266.518 L213.816 265.92 L213.9 264.879 L213.984 264.308 L214.068 263.56 L214.152 263.256 L214.236 263.585 L214.32 264.181 L214.404 264.256 L214.488 264.423 L214.572 264.394 L214.656 265.008 L214.74 265.258 L214.824 265.186 L214.908 264.83 L214.992 265.5 L215.074 263.255 L215.155 261.904 L215.237 259.995 L215.318 258.976 L215.4 256.752 L215.486 259.011 L215.571 260.953 L215.657 263.36 L215.743 266.206 L215.829 267.726 L215.914 270.468 L216 272.496 L216.084 272.83 L216.168 273.334 L216.252 273.273 L216.336 273.214 L216.42 273.688 L216.504 273.744 L216.588 272.808 L216.672 272.113 L216.756 270.86 L216.84 270.489 L216.924 268.937 L217.008 268.008 L217.089 266.885 L217.17 265.32 L217.251 264.294 L217.332 263.014 L217.413 261.805 L217.494 260.763 L217.575 259.1 L217.656 258 L217.74 257.721 L217.824 258.241 L217.908 257.802 L217.992 257.652 L218.076 258.135 L218.16 257.76 L218.244 259.607 L218.328 260.246 L218.412 262.516 L218.496 264.24 L218.578 262.823 L218.659 261.191 L218.741 259.158 L218.822 258.107 L218.904 256.008 L218.988 253.286 L219.072 250.947 L219.156 248.55 L219.24 246.012 L219.324 243.745 L219.408 241.008 L219.49 241.138 L219.572 240.665 L219.654 240.911 L219.736 240.146 L219.818 240.113 L219.9 240 L219.982 243.168 L220.064 245.371 L220.146 248.317 L220.228 250.556 L220.31 253.272 L220.392 256.008 L220.476 258.817 L220.56 261.729 L220.644 264.415 L220.728 267.349 L220.812 270.368 L220.896 273 L220.978 271.353 L221.059 269.037 L221.141 267.19 L221.222 265.264 L221.304 262.992 L221.388 261.697 L221.472 260.559 L221.556 260.477 L221.64 259.008 L221.724 257.896 L221.808 256.034 L221.892 254.618 L221.976 252.748 L222.06 251.121 L222.144 250.008 L222.232 251.772 L222.32 252.92 L222.408 255 L222.492 254.023 L222.576 252.319 L222.66 251.349 L222.744 250.008 L222.826 251.469 L222.907 252.353 L222.989 252.632 L223.07 253.913 L223.152 254.496 L223.236 253.626 L223.32 253.169 L223.404 252.859 L223.488 252.566 L223.572 251.42 L223.656 250.992 L223.74 250.864 L223.824 250.446 L223.908 249.762 L223.992 249.794 L224.076 249.97 L224.16 249.24 L224.246 250.473 L224.331 251.895 L224.417 253.24 L224.503 254.042 L224.589 255.858 L224.674 257.188 L224.76 258 L224.856 257.968 L224.952 257.388 L225.048 256.38 L225.144 256.008 L225.228 254.847 L225.312 253.79 L225.396 252.755 L225.48 251.787 L225.564 251.3 L225.648 250.008 L225.732 251.515 L225.816 251.991 L225.9 253.248 L225.999 252.05 L226.098 250.017 L226.197 248.85 L226.296 247.5 L226.386 247.847 L226.476 248.292 L226.566 249.402 L226.656 250.008 L226.737 251.941 L226.818 253.706 L226.899 255.578 L226.98 257.35 L227.061 259.499 L227.142 261.27 L227.223 263.416 L227.304 265.248 L227.39 265.728 L227.475 266.963 L227.561 267.867 L227.647 268.9 L227.733 269.668 L227.818 270.243 L227.904 271.008 L227.988 268.563 L228.072 265.981 L228.156 264.253 L228.24 262.409 L228.324 260.228 L228.408 257.496 L228.504 256.018 L228.6 255.781 L228.696 255.147 L228.792 254.496 L228.882 257.073 L228.972 260.3 L229.062 263.131 L229.152 265.992 L229.232 270.013 L229.312 274.32 L229.392 278.496 L229.478 278.54 L229.563 279.22 L229.649 279.742 L229.735 280.758 L229.821 280.533 L229.906 281.44 L229.992 282 L230.074 280.526 L230.155 278.588 L230.237 277.138 L230.318 275.017 L230.4 273.504 L230.482 274.13 L230.563 274.764 L230.645 275.646 L230.726 275.712 L230.808 276 L230.894 274.521 L230.979 272.22 L231.065 270.353 L231.151 268.884 L231.237 266.708 L231.322 265.056 L231.408 262.752 L231.49 264.248 L231.572 265.942 L231.654 267.306 L231.736 267.667 L231.818 269.731 L231.9 270.48 L231.987 271.552 L232.074 272.506 L232.161 273.278 L232.248 274.248 L232.332 272.708 L232.416 270.43 L232.5 268.992 L232.599 270.601 L232.698 272.402 L232.797 274.518 L232.896 276.24 L232.98 272.304 L233.064 268.043 L233.148 263.729 L233.232 259.245 L233.316 254.701 L233.4 250.992 L233.48 247.868 L233.56 244.546 L233.64 241.248 L233.724 241.901 L233.808 242.751 L233.892 242.83 L233.976 243.366 L234.06 243.299 L234.144 244.5 L234.228 245.336 L234.312 245.826 L234.396 246.294 L234.48 247.284 L234.564 247.538 L234.648 248.496 L234.732 249.1 L234.816 250.574 L234.9 250.977 L234.984 251.779 L235.068 252.48 L235.152 253.008 L235.236 251.365 L235.32 249.4 L235.404 248.166 L235.488 245.651 L235.572 244.047 L235.656 241.992 L235.742 240.222 L235.827 238.47 L235.913 236.154 L235.999 234.588 L236.085 233.873 L236.17 232.142 L236.256 229.992 L236.34 229.749 L236.424 229.741 L236.508 229.803 L236.592 229.215 L236.676 229.887 L236.76 229.248 L236.841 229.236 L236.922 229.61 L237.003 229.303 L237.084 230.817 L237.165 230.68 L237.246 231.412 L237.327 230.938 L237.408 231.504 L237.504 232.23 L237.6 232.778 L237.696 233.438 L237.792 234 L237.883 233.102 L237.974 231.657 L238.066 229.901 L238.157 227.888 L238.248 226.5 L238.329 226.886 L238.41 227.14 L238.491 227.038 L238.572 227.166 L238.653 227.265 L238.734 226.991 L238.815 227.446 L238.896 227.496 L238.98 228.545 L239.064 228.381 L239.148 229.275 L239.232 230.076 L239.316 230.026 L239.4 231 L239.484 232.631 L239.568 233.85 L239.652 235.832 L239.736 237.269 L239.82 239.084 L239.904 241.008 L239.988 243.533 L240.072 246.258 L240.156 248.943 L240.24 250.972 L240.324 254.787 L240.408 256.992 L240.49 258.498 L240.572 259.845 L240.654 261.564 L240.736 263.418 L240.818 264.624 L240.9 266.496 L240.982 264.545 L241.064 262.697 L241.146 261.155 L241.228 258.952 L241.31 257.467 L241.392 255.504 L241.478 254.281 L241.563 252.814 L241.649 251.891 L241.735 250.216 L241.821 248.548 L241.906 247.649 L241.992 246.24 L242.074 247.226 L242.155 248.129 L242.237 249.158 L242.318 250.718 L242.4 250.992 L242.484 254.395 L242.568 257.796 L242.652 260.929 L242.736 264.713 L242.82 267.656 L242.904 271.008 L243.003 263.277 L243.102 255.656 L243.201 248.66 L243.3 241.008 L243.382 245.222 L243.464 248.55 L243.546 252.8 L243.628 257.193 L243.71 261.304 L243.792 265.008 L243.878 266.019 L243.963 267.674 L244.049 269.424 L244.135 270.422 L244.221 271.838 L244.306 273.204 L244.392 274.752 L244.476 269.623 L244.56 265.261 L244.644 260.583 L244.728 255.34 L244.812 251.02 L244.896 246.24 L244.982 248.952 L245.067 251.086 L245.153 253.692 L245.239 255.654 L245.325 258.599 L245.41 260.372 L245.496 262.992 L245.58 261.618 L245.664 259.03 L245.748 257.036 L245.832 255.07 L245.916 253.292 L246 251.496 L246.084 253.105 L246.168 254.801 L246.252 256.656 L246.336 258.695 L246.42 260.509 L246.504 262.008 L246.583 255.209 L246.662 248.961 L246.742 241.617 L246.821 234.908 L246.9 228.504 L247 227.609 L247.1 227.54 L247.2 226.8 L247.284 226.184 L247.368 226.061 L247.452 226.663 L247.536 226.62 L247.62 226.346 L247.704 225.792 L247.79 226.328 L247.875 227.728 L247.961 228.931 L248.047 229.686 L248.133 230.159 L248.218 231.493 L248.304 232.56 L248.383 229.919 L248.462 227.902 L248.542 226.727 L248.621 224.152 L248.7 221.808 L248.782 221.883 L248.864 222.374 L248.946 223.437 L249.028 223.63 L249.11 224.472 L249.192 224.808 L249.276 223.867 L249.36 223.244 L249.444 222.618 L249.528 221.5 L249.612 220.492 L249.696 220.296 L249.778 221.149 L249.859 222.492 L249.941 223.834 L250.022 225.076 L250.104 226.296 L250.188 225.337 L250.272 224.569 L250.356 223.227 L250.44 222.552 L250.53 223.886 L250.62 224.997 L250.71 225.461 L250.8 226.296 L250.884 229.098 L250.968 232.155 L251.052 234.735 L251.136 237.354 L251.22 240.003 L251.304 242.808 L251.383 242.089 L251.462 241.464 L251.542 241.49 L251.621 241.139 L251.7 240.3 L251.779 237.891 L251.858 236.075 L251.938 234.058 L252.017 231.773 L252.096 229.8 L252.186 228.574 L252.276 227.678 L252.366 226.222 L252.456 225.792 L252.54 224.688 L252.624 223.539 L252.708 223.151 L252.792 221.729 L252.876 220.278 L252.96 219.3 L253.044 218.48 L253.128 218.163 L253.212 217.319 L253.296 216.048 L253.378 217.647 L253.459 219.107 L253.541 220.278 L253.622 222.15 L253.704 223.8 L253.783 226.194 L253.862 228.479 L253.942 231.637 L254.021 233.047 L254.1 236.04 L254.187 235.186 L254.274 234.532 L254.361 233.731 L254.448 232.8 L254.532 230.781 L254.616 227.392 L254.7 225.08 L254.784 222.823 L254.868 220.333 L254.952 217.8 L255.039 216.934 L255.126 216.075 L255.213 215.854 L255.3 214.8 L255.379 212.741 L255.458 211.125 L255.538 209.953 L255.617 208.286 L255.696 206.04 L255.778 206.387 L255.859 205.989 L255.941 206.092 L256.022 206.179 L256.104 206.544 L256.188 207.466 L256.272 208.927 L256.356 210.667 L256.44 211.56 L256.524 209.909 L256.608 207.917 L256.692 206.2 L256.776 204.376 L256.86 203.352 L256.944 201.3 L257.028 200.878 L257.112 201.704 L257.196 201.377 L257.28 201.652 L257.364 201.694 L257.448 202.296 L257.532 201.65 L257.616 200.433 L257.7 200.33 L257.784 198.325 L257.868 197.392 L257.952 196.8 L258.039 197.586 L258.126 198.201 L258.213 198.582 L258.3 199.296 L258.382 201.457 L258.464 205.207 L258.546 207.706 L258.628 210.409 L258.71 212.875 L258.792 215.808 L258.874 214.88 L258.955 213.432 L259.037 212.504 L259.118 211.335 L259.2 210.3 L259.284 210.484 L259.368 209.82 L259.452 209.69 L259.536 209.941 L259.62 209.522 L259.704 209.304 L259.79 209.069 L259.875 208.788 L259.961 208.916 L260.047 208.238 L260.133 208.345 L260.218 208.578 L260.304 207.792 L260.383 210.393 L260.462 212.552 L260.542 214.932 L260.621 217.822 L260.7 220.296 L260.782 220.094 L260.864 220.156 L260.946 220.564 L261.028 220.635 L261.11 221.371 L261.192 221.304 L261.277 221.7 L261.363 223.406 L261.448 223.565 L261.533 224.648 L261.619 225.639 L261.704 226.342 L261.789 227.317 L261.875 227.656 L261.96 228.792 L262.04 225.036 L262.12 222.55 L262.2 219.041 L262.28 216.276 L262.36 213.633 L262.44 210.3 L262.53 212.409 L262.62 214.482 L262.71 216.514 L262.8 219.048 L262.884 216.902 L262.968 214.896 L263.052 212.45 L263.136 210.95 L263.22 208.515 L263.304 206.808 L263.388 206.056 L263.472 205.071 L263.556 204.694 L263.64 203.863 L263.724 202.827 L263.808 202.056 L263.9 202.625 L263.992 203.407 L264.084 204.304 L264.176 204.837 L264.268 205.202 L264.36 205.8 L264.446 204.422 L264.533 203.337 L264.619 200.963 L264.706 200.141 L264.792 198.552 L264.876 198.652 L264.96 199.68 L265.044 199.523 L265.128 200.01 L265.212 200.106 L265.296 200.808 L265.38 200.673 L265.464 200.77 L265.548 200.896 L265.632 199.923 L265.716 200.033 L265.8 200.04 L265.882 200.66 L265.963 199.307 L266.045 198.535 L266.126 198.189 L266.208 197.544 L266.289 196.679 L266.37 197.82 L266.451 197.307 L266.532 196.756 L266.613 197.414 L266.694 196.803 L266.775 196.595 L266.856 196.8 L266.942 196.449 L267.027 195.914 L267.113 195.165 L267.199 194.776 L267.285 193.909 L267.37 193.379 L267.456 193.296 L267.54 193.971 L267.624 194.507 L267.708 194.668 L267.792 195.068 L267.876 195.262 L267.96 195.792 L268.044 196.193 L268.128 196.398 L268.212 197.612 L268.296 197.544 L268.377 197.005 L268.458 196.912 L268.539 196.419 L268.62 195.641 L268.701 196.227 L268.782 195.186 L268.863 194.698 L268.944 194.544 L269.03 195.328 L269.115 195.787 L269.201 196.805 L269.287 197.271 L269.373 198.461 L269.458 199.065 L269.544 199.8 L269.625 199.655 L269.706 200.597 L269.787 200.603 L269.868 200.478 L269.949 201.149 L270.03 201.419 L270.111 202.08 L270.192 201.792 L270.277 201.6 L270.363 202.152 L270.448 201.934 L270.533 202.196 L270.619 201.998 L270.704 202.113 L270.789 202.33 L270.875 201.899 L270.96 202.296 L271.043 201.748 L271.125 202.408 L271.208 202.338 L271.291 202.548 L271.373 202.765 L271.456 202.573 L271.539 203.037 L271.621 202.737 L271.704 202.8 L271.79 202.732 L271.875 202.834 L271.961 202.657 L272.047 202.356 L272.133 202.312 L272.218 201.951 L272.304 202.056 L272.385 201.59 L272.465 201.5 L272.546 201.41 L272.627 200.752 L272.708 200.824 L272.788 200.846 L272.869 200.609 L272.95 199.7 L273.031 199.701 L273.111 199.277 L273.192 198.792 L273.277 199.143 L273.363 199.271 L273.448 199.292 L273.533 199.492 L273.619 199.421 L273.704 199.404 L273.789 199.664 L273.875 199.846 L273.96 199.8 L274.043 200.057 L274.125 199.699 L274.208 199.694 L274.291 199.779 L274.373 198.987 L274.456 199.068 L274.539 199.188 L274.621 198.927 L274.704 198.792 L274.787 198.571 L274.869 199.205 L274.952 198.955 L275.035 198.743 L275.117 199.634 L275.2 198.773 L275.283 199.195 L275.365 199.061 L275.448 199.296 L275.531 199.316 L275.613 199.42 L275.696 198.995 L275.779 199.174 L275.861 199.139 L275.944 198.86 L276.027 199.46 L276.109 199.146 L276.192 199.056 L276.278 198.949 L276.363 198.802 L276.449 198.86 L276.535 198.959 L276.621 198.747 L276.706 199.203 L276.792 198.792 L276.873 198.289 L276.954 198.624 L277.035 199.388 L277.116 199.148 L277.197 199.88 L277.278 199.929 L277.359 200.505 L277.44 200.544 L277.525 200.649 L277.611 200.881 L277.696 200.742 L277.781 200.812 L277.867 200.576 L277.952 200.705 L278.037 200.515 L278.123 200.173 L278.208 200.304 L278.291 200.039 L278.373 200.133 L278.456 200.704 L278.539 199.959 L278.621 200.781 L278.704 200.596 L278.787 201.108 L278.869 201.036 L278.952 201.048 L279.035 200.789 L279.117 200.953 L279.2 200.237 L279.283 200.915 L279.365 200.916 L279.448 200.195 L279.531 200.917 L279.613 200.579 L279.696 200.544 L279.779 200.13 L279.862 199.194 L279.945 199.302 L280.028 198.819 L280.111 198.17 L280.193 197.414 L280.276 197.441 L280.359 197.104 L280.442 196.384 L280.525 196.081 L280.608 195.3 L280.694 195.646 L280.779 196.359 L280.865 196.922 L280.951 197.355 L281.037 198.626 L281.122 198.433 L281.208 198.792 L281.304 201.152 L281.4 204.055 L281.496 206.006 L281.592 208.8 L281.676 209.968 L281.76 211.124 L281.844 211.801 L281.928 212.891 L282.012 213.754 L282.096 215.04 L282.182 212.319 L282.267 209.303 L282.353 207.214 L282.439 204.117 L282.525 201.083 L282.61 197.955 L282.696 195.552 L282.779 196.279 L282.861 196.18 L282.944 196.053 L283.027 196.086 L283.109 196.191 L283.192 196.119 L283.275 196.908 L283.357 196.537 L283.44 196.56 L283.524 195.839 L283.608 195.729 L283.692 194.838 L283.776 195.436 L283.86 195.13 L283.944 194.544 L284.025 195.021 L284.106 195.053 L284.187 194.16 L284.268 194.451 L284.349 194.546 L284.43 194.424 L284.511 193.986 L284.592 194.04 L284.676 196.093 L284.76 197.796 L284.844 199.837 L284.928 201.228 L285.012 202.959 L285.096 204.792 L285.182 206.246 L285.267 207.858 L285.353 209.319 L285.439 211.015 L285.525 212.831 L285.61 214.393 L285.696 215.808 L285.78 213.546 L285.864 210.813 L285.948 208.009 L286.032 204.828 L286.116 202.656 L286.2 199.8 L286.282 197.961 L286.363 195.05 L286.445 192.905 L286.526 190.753 L286.608 188.808 L286.692 189.027 L286.776 189.741 L286.86 190.052 L286.944 190.8 L287.034 193.679 L287.124 195.965 L287.214 199.025 L287.304 201.792 L287.4 200.17 L287.496 198.538 L287.592 197.304 L287.682 199.743 L287.772 201.577 L287.862 203.849 L287.952 205.8 L288.034 207.839 L288.117 210.257 L288.199 212.35 L288.281 214.248 L288.363 215.9 L288.446 218.766 L288.528 220.632 L288.619 219.418 L288.71 217.84 L288.802 216.427 L288.893 214.963 L288.984 213.48 L289.065 210.792 L289.146 207.687 L289.227 205.2 L289.308 202.548 L289.389 199.52 L289.47 196.657 L289.551 194.712 L289.632 191.4 L289.736 195.376 L289.84 198.896 L289.944 202.752 L290.025 200.962 L290.106 198.678 L290.187 197.363 L290.268 196.037 L290.349 194.815 L290.43 192.186 L290.511 190.912 L290.592 189.432 L290.676 191.95 L290.76 193.542 L290.844 195.418 L290.928 197.232 L291.012 204.089 L291.096 210.206 L291.18 216.686 L291.264 223.439 L291.348 229.974 L291.432 236.208 L291.523 233.062 L291.614 230.953 L291.706 227.155 L291.797 224.601 L291.888 221.928 L291.969 220.314 L292.05 216.764 L292.131 214.584 L292.212 211.589 L292.293 209.268 L292.374 206.636 L292.455 204.212 L292.536 201.792 L292.62 203.457 L292.704 205.23 L292.788 206.436 L292.872 207.624 L292.953 206.144 L293.034 203.602 L293.115 202.223 L293.196 200.017 L293.277 198.302 L293.358 195.84 L293.439 193.946 L293.52 192.048 L293.604 193.107 L293.688 193.537 L293.772 194.04 L293.856 194.64 L293.947 198.227 L294.038 202.163 L294.13 206.099 L294.221 209.935 L294.312 213.48 L294.399 210.329 L294.486 207.384 L294.573 204.599 L294.66 201.15 L294.747 198.732 L294.834 195.453 L294.921 192.408 L295.008 189.432 L295.089 189.477 L295.17 190.443 L295.251 191.334 L295.332 192.195 L295.413 192.778 L295.494 193.933 L295.575 194.595 L295.656 195.288 L295.747 197.227 L295.838 198.734 L295.93 201.739 L296.021 203.272 L296.112 205.368 L296.193 205.091 L296.274 204.281 L296.355 204.026 L296.436 203.78 L296.517 203.2 L296.598 202.962 L296.679 202.186 L296.76 201.792 L296.846 203.37 L296.933 203.257 L297.019 204.649 L297.106 206.095 L297.192 206.746 L297.278 207.696 L297.365 208.318 L297.451 210.18 L297.538 210.293 L297.624 211.848 L297.705 209.921 L297.786 207.761 L297.867 205.887 L297.948 203.985 L298.029 201.292 L298.11 199.191 L298.191 197.262 L298.272 195.288 L298.357 194.338 L298.442 194.618 L298.527 193.817 L298.612 193.526 L298.697 192.704 L298.782 192.581 L298.866 191.948 L298.951 191.654 L299.036 190.911 L299.121 191.07 L299.206 190.136 L299.291 189.137 L299.376 189.432 L299.457 189.854 L299.538 189.827 L299.619 189.905 L299.7 191.127 L299.781 190.636 L299.862 190.511 L299.943 190.965 L300.024 191.4 L300.105 196.37 L300.186 201.067 L300.267 206.361 L300.348 211.182 L300.429 215.52 L300.51 220.631 L300.591 225.677 L300.672 230.376 L300.753 231.502 L300.834 232.744 L300.915 234.388 L300.996 235.522 L301.077 236.245 L301.158 237.748 L301.239 239.044 L301.32 240.432 L301.401 238.601 L301.482 236.643 L301.563 235.451 L301.644 233.001 L301.725 231.182 L301.806 229.771 L301.887 227.276 L301.968 226.152 L302.059 232.275 L302.15 239.184 L302.242 245.055 L302.333 251.625 L302.424 258.312 L302.505 254.998 L302.586 251.202 L302.667 247.472 L302.748 243.912 L302.829 240.032 L302.91 236.701 L302.991 232.939 L303.072 229.392 L303.168 234.41 L303.264 238.154 L303.36 242.21 L303.456 246.624 L303.547 245.17 L303.638 243.77 L303.73 241.927 L303.821 240.657 L303.912 239.472 L304.003 236.395 L304.094 232.042 L304.186 228.771 L304.277 225.724 L304.368 221.928 L304.456 223.816 L304.544 224.546 L304.632 226.723 L304.72 227.657 L304.808 229.699 L304.896 230.688 L304.977 227.944 L305.058 224.835 L305.139 222.244 L305.22 219.313 L305.301 216.046 L305.382 214.004 L305.463 210.404 L305.544 207.624 L305.625 207.061 L305.706 205.698 L305.787 204.421 L305.868 203.733 L305.949 203.136 L306.03 202.471 L306.111 201.89 L306.192 200.496 L306.277 198.782 L306.363 196.944 L306.448 194.938 L306.533 193.546 L306.619 191.912 L306.704 189.454 L306.789 188.735 L306.875 186.953 L306.96 184.896 L307.044 185.587 L307.128 184.708 L307.212 185.02 L307.296 185.052 L307.38 184.704 L307.464 184.88 L307.548 184.88 L307.632 185.208 L307.713 185.189 L307.794 185.003 L307.875 185.105 L307.956 184.438 L308.037 183.99 L308.118 184.357 L308.199 184.175 L308.28 183.912 L308.362 184.052 L308.445 184.173 L308.527 183.598 L308.609 183.951 L308.691 183.385 L308.774 183.673 L308.856 183.781 L308.938 183.502 L309.021 183.552 L309.103 183.041 L309.185 183.209 L309.267 183.393 L309.35 182.957 L309.432 183.264 L309.514 183.147 L309.596 184.231 L309.678 183.739 L309.76 183.563 L309.842 183.638 L309.924 184.469 L310.006 183.397 L310.088 184.235 L310.17 184.645 L310.252 184.435 L310.334 184.882 L310.416 184.896 L310.5 184.823 L310.584 185.379 L310.668 185.654 L310.752 185.904 L310.836 186.2 L310.92 186.428 L311.004 186.999 L311.088 186.859 L311.172 187.023 L311.256 187.488 L311.339 187.163 L311.422 186.949 L311.505 186.39 L311.588 186.071 L311.671 186.024 L311.753 186.288 L311.836 185.807 L311.919 185.673 L312.002 186.411 L312.085 185.701 L312.168 185.208 L312.252 184.994 L312.336 184.758 L312.42 185.222 L312.504 184.485 L312.588 184.952 L312.672 184.65 L312.756 184.765 L312.84 184.042 L312.924 184.396 L313.008 183.498 L313.092 183.856 L313.176 184.102 L313.26 183.876 L313.344 183.6 L313.429 182.888 L313.515 183.47 L313.6 183.26 L313.685 182.966 L313.771 182.632 L313.856 182.615 L313.941 182.386 L314.027 182.681 L314.112 182.304 L314.2 181.962 L314.288 181.7 L314.376 181.155 L314.464 180.15 L314.552 180.123 L314.64 179.688 L314.725 180.807 L314.811 180.41 L314.896 181.353 L314.981 181.588 L315.067 182.098 L315.152 182.956 L315.237 183.702 L315.323 184.2 L315.408 184.56 L315.494 184.264 L315.581 184.016 L315.667 182.883 L315.754 183.2 L315.84 182.692 L315.926 182.133 L316.013 181.794 L316.099 181.163 L316.186 181.355 L316.272 180.672 L316.356 181.17 L316.44 181.717 L316.524 182.897 L316.608 183.488 L316.692 184.391 L316.776 185.208 L316.864 185.243 L316.952 184.407 L317.04 184.123 L317.128 184.381 L317.216 182.963 L317.304 183.114 L317.392 182.985 L317.48 182.725 L317.568 181.968 L317.652 182.74 L317.736 182.065 L317.82 182.594 L317.904 182.554 L317.988 182.614 L318.072 182.699 L318.156 182.649 L318.24 183.332 L318.324 183.616 L318.408 183.6 L318.493 183.355 L318.578 183.981 L318.663 183.701 L318.748 183.668 L318.833 183.302 L318.918 184.48 L319.002 184.468 L319.087 184.27 L319.172 184.348 L319.257 184.183 L319.342 184.809 L319.427 184.741 L319.512 184.896 L319.593 185.745 L319.674 186.369 L319.755 186.64 L319.836 187.326 L319.917 188.627 L319.998 188.745 L320.079 190.044 L320.16 190.728 L320.241 193.802 L320.322 196.011 L320.403 199.424 L320.484 202.086 L320.565 205.074 L320.646 207.58 L320.727 210.605 L320.808 213.48 L320.889 214.553 L320.97 215.936 L321.051 216.595 L321.132 217.502 L321.213 217.957 L321.294 219.406 L321.375 220.088 L321.456 221.28 L321.537 222.216 L321.618 223.29 L321.699 224.469 L321.78 225.335 L321.861 226.194 L321.942 227.098 L322.023 228.483 L322.104 229.08 L322.185 226.454 L322.266 224.367 L322.347 222.401 L322.428 219.59 L322.509 217.533 L322.59 215.196 L322.671 213.157 L322.752 210.24 L322.833 209.662 L322.914 207.961 L322.995 207.545 L323.076 206.736 L323.157 205.996 L323.238 204.974 L323.319 204.514 L323.4 203.088 L323.488 202.74 L323.576 201.425 L323.664 200.93 L323.752 199.862 L323.84 200.31 L323.928 199.176 L324.016 198.035 L324.104 196.945 L324.192 195.443 L324.28 194.689 L324.368 193.856 L324.456 192.529 L324.544 191.448 L324.632 190.298 L324.72 189.432 L324.8 189.43 L324.88 188.152 L324.96 187.347 L325.04 187.077 L325.12 186.584 L325.2 186.117 L325.28 185.531 L325.36 184.735 L325.44 184.462 L325.52 184.092 L325.6 183.029 L325.68 182.952 L325.76 183.232 L325.84 182.908 L325.92 181.639 L326 181.819 L326.08 181.978 L326.16 181.832 L326.24 181.719 L326.32 180.416 L326.4 180.768 L326.482 179.639 L326.563 179.065 L326.645 178.627 L326.726 177.404 L326.808 177.024 L326.896 177.061 L326.984 177.031 L327.072 177.074 L327.16 176.452 L327.248 176.851 L327.336 176.808 L327.424 176.364 L327.512 175.805 L327.6 175.894 L327.688 175.012 L327.776 175.107 L327.864 174.312 L327.946 174.137 L328.027 174.855 L328.109 174.883 L328.19 174.204 L328.272 174.528 L328.38 175.524 L328.488 176.4 L328.576 176.626 L328.664 176.422 L328.752 177.11 L328.84 177.228 L328.928 176.972 L329.016 177.432 L329.098 178.014 L329.179 178.833 L329.261 179.112 L329.342 179.536 L329.424 180.36 L329.532 182.888 L329.64 184.512 L329.722 184.365 L329.803 184.922 L329.885 185.32 L329.966 185.392 L330.048 185.352 L330.136 185.207 L330.224 186.066 L330.312 186.54 L330.4 186.934 L330.488 187.597 L330.576 187.848 L330.68 187.302 L330.784 186.495 L330.888 185.784 L330.972 185.847 L331.056 186.067 L331.14 186.136 L331.224 185.218 L331.308 186.412 L331.392 185.784 L331.481 185.907 L331.57 186.593 L331.659 186.184 L331.749 186.805 L331.838 186.883 L331.927 187.864 L332.016 187.848 L332.099 188.357 L332.181 188.356 L332.264 188.561 L332.347 188.98 L332.429 188.848 L332.512 189.201 L332.595 189.411 L332.677 190.131 L332.76 190.152 L332.84 190.248 L332.92 189.961 L333 190.528 L333.08 190.675 L333.16 191.02 L333.24 190.545 L333.32 190.919 L333.4 191.503 L333.48 190.992 L333.569 191.218 L333.658 191.533 L333.747 192.114 L333.837 192.144 L333.926 192.616 L334.015 192.794 L334.104 193.272 L334.193 193.514 L334.282 194.477 L334.371 194.587 L334.461 194.879 L334.55 195.565 L334.639 196.084 L334.728 196.608 L334.832 197.665 L334.936 198.827 L335.04 199.536 L335.129 199.927 L335.218 198.931 L335.307 199.097 L335.397 198.516 L335.486 198.992 L335.575 198.96 L335.664 198.696 L335.752 197.211 L335.84 195.85 L335.928 194.543 L336.016 193.111 L336.104 192.447 L336.192 190.992 L336.278 191.785 L336.365 191.145 L336.451 192.203 L336.538 191.942 L336.624 192.24 L336.72 190.666 L336.816 189.936 L336.905 190.083 L336.994 190.14 L337.083 190.033 L337.173 189.841 L337.262 190.404 L337.351 189.834 L337.44 189.936 L337.544 188.853 L337.648 187.609 L337.752 186.192 L337.838 185.036 L337.925 183.883 L338.011 183.044 L338.098 182.559 L338.184 181.824 L338.266 182.193 L338.347 181.857 L338.429 182.454 L338.51 183.399 L338.592 183.264 L338.674 184.136 L338.755 186.216 L338.837 187.604 L338.918 189.152 L339 190.368 L339.088 189.98 L339.176 190.576 L339.264 190.139 L339.352 191.003 L339.44 190.428 L339.528 190.776 L339.632 189.259 L339.736 187.315 L339.84 185.976 L339.926 186.449 L340.013 186.421 L340.099 187.413 L340.186 187.967 L340.272 188.28 L340.361 190.662 L340.45 193.551 L340.539 195.6 L340.629 198.136 L340.718 200.468 L340.807 203.282 L340.896 205.176 L340.987 204.077 L341.078 203.312 L341.17 202.449 L341.261 201.815 L341.352 200.784 L341.432 202.209 L341.512 203.753 L341.592 204.972 L341.672 206.111 L341.752 207.62 L341.832 209.04 L341.916 213.406 L342 216.874 L342.084 222.214 L342.168 225.906 L342.252 230.233 L342.336 234.624 L342.42 230.414 L342.504 226.001 L342.588 221.385 L342.672 217.48 L342.756 213.69 L342.84 209.04 L342.926 208.697 L343.011 208.122 L343.097 206.968 L343.183 206.436 L343.269 206.178 L343.354 205.675 L343.44 204.624 L343.532 207.143 L343.624 209.374 L343.716 211.616 L343.808 215.124 L343.9 216.785 L343.992 219.768 L344.073 218.542 L344.154 217.338 L344.235 216.694 L344.316 214.452 L344.397 213.022 L344.478 211.851 L344.559 210.526 L344.64 209.04 L344.736 210.071 L344.832 210.519 L344.928 210.96 L345.009 208.495 L345.09 205.864 L345.171 204.339 L345.252 201.817 L345.333 200.199 L345.414 197.159 L345.495 195.373 L345.576 193.08 L345.66 192.724 L345.744 192.543 L345.828 193.159 L345.912 192.577 L345.996 192.336 L346.08 192.471 L346.164 191.881 L346.248 191.976 L346.334 192.258 L346.419 192.568 L346.505 193.737 L346.591 193.637 L346.677 194.117 L346.762 194.652 L346.848 194.712 L346.932 195.278 L347.016 195.908 L347.1 196.088 L347.184 197.338 L347.268 197.894 L347.352 198.315 L347.436 199.417 L347.52 199.68 L347.612 200.799 L347.704 203.108 L347.796 204.225 L347.888 205.946 L347.98 207.876 L348.072 209.592 L348.16 210.904 L348.248 211.068 L348.336 212.041 L348.424 212.894 L348.512 214.771 L348.6 215.088 L348.692 214.415 L348.784 213.552 L348.876 213.219 L348.968 211.849 L349.06 210.319 L349.152 210.12 L349.244 210.52 L349.336 210.866 L349.428 212.379 L349.52 211.904 L349.612 212.969 L349.704 213.432 L349.796 213.965 L349.888 214.675 L349.98 215.501 L350.072 216.142 L350.164 216.666 L350.256 217.56 L350.336 217.799 L350.416 218.585 L350.496 219.078 L350.576 219.729 L350.656 220.646 L350.736 221.176 L350.816 221.975 L350.896 222.371 L350.976 223.056 L351.058 222.611 L351.139 220.799 L351.221 219.701 L351.302 219.289 L351.384 217.754 L351.466 216.984 L351.547 216.222 L351.629 214.882 L351.71 213.788 L351.792 212.88 L351.876 213.649 L351.96 213.942 L352.044 214.166 L352.128 214.449 L352.212 215.177 L352.296 215.277 L352.38 215.995 L352.464 216.744 L352.546 215.173 L352.627 214.351 L352.709 213.252 L352.79 211.59 L352.872 210.415 L352.954 208.978 L353.035 207.656 L353.117 206.701 L353.198 205.761 L353.28 204.36 L353.364 203.861 L353.448 203.263 L353.532 202.371 L353.616 201.002 L353.7 201.463 L353.784 200.948 L353.868 200.192 L353.952 199.556 L354.036 198.981 L354.12 198.024 L354.212 199.098 L354.304 198.668 L354.396 199.314 L354.488 199.368 L354.58 199.605 L354.672 199.68 L354.754 200.63 L354.835 201.558 L354.917 202.316 L354.998 203.819 L355.08 204.541 L355.162 205.267 L355.243 206.39 L355.325 207.253 L355.406 209.078 L355.488 209.592 L355.572 208.689 L355.656 207.967 L355.74 206.744 L355.824 205.97 L355.908 205.765 L355.992 204.553 L356.076 203.861 L356.16 202.968 L356.247 202.622 L356.334 201.805 L356.421 200.491 L356.508 199.537 L356.595 198.568 L356.682 197.518 L356.769 197.315 L356.856 195.816 L356.948 194.352 L357.04 193.589 L357.132 191.94 L357.224 191.037 L357.316 190.436 L357.408 189.216 L357.5 188.896 L357.592 188.405 L357.684 187.751 L357.776 187.18 L357.868 186.775 L357.96 186.48 L358.051 184.93 L358.142 183.937 L358.234 182.611 L358.325 180.871 L358.416 179.304 L358.508 178.871 L358.6 178.48 L358.692 178.579 L358.784 178.148 L358.876 177.398 L358.968 177.672 L359.054 178.409 L359.141 178.322 L359.227 178.556 L359.314 178.717 L359.4 179.304 L359.481 178.493 L359.562 178.475 L359.643 177.374 L359.724 177.137 L359.805 176.749 L359.886 176.562 L359.967 175.642 L360.048 174.912 L360.132 174.557 L360.216 174.09 L360.3 174.133 L360.384 173.833 L360.468 173.06 L360.552 173.018 L360.636 172.456 L360.72 172.152 L360.812 171.714 L360.904 171.947 L360.996 172.538 L361.088 172.776 L361.18 172.595 L361.272 172.44 L361.352 172.043 L361.432 171.554 L361.512 171.593 L361.592 171.195 L361.672 170.276 L361.752 170.619 L361.832 169.876 L361.912 169.953 L361.992 169.416 L362.073 170.471 L362.154 171.421 L362.235 172.419 L362.316 173.203 L362.397 173.572 L362.478 174.475 L362.559 175.985 L362.64 176.568 L362.724 177.365 L362.808 177.406 L362.892 177.93 L362.976 179.452 L363.06 180.504 L363.144 180.74 L363.228 181.076 L363.312 181.8 L363.398 181.055 L363.485 179.334 L363.571 179.025 L363.658 178.802 L363.744 177.672 L363.836 178.571 L363.928 178.316 L364.02 179.947 L364.112 180.393 L364.204 181.153 L364.296 181.512 L364.388 180.032 L364.48 178.674 L364.572 176.93 L364.664 175.929 L364.756 174.681 L364.848 172.992 L364.944 174.151 L365.04 175.983 L365.136 177.154 L365.232 178.752 L365.324 178.745 L365.416 178.406 L365.508 177.086 L365.6 177.609 L365.692 177.457 L365.784 176.832 L365.864 176.817 L365.944 177.072 L366.024 177.244 L366.104 177.098 L366.184 177.558 L366.264 178.211 L366.344 178.04 L366.424 178.505 L366.504 178.2 L366.586 178.28 L366.667 178.124 L366.749 177.583 L366.83 177.56 L366.912 177.713 L366.994 177.332 L367.075 176.769 L367.157 176.245 L367.238 175.959 L367.32 176.016 L367.404 175.675 L367.488 175.321 L367.572 174.225 L367.656 174.427 L367.74 174.051 L367.824 173.624 L367.908 172.955 L367.992 172.704 L368.079 173.602 L368.166 173.38 L368.253 172.915 L368.34 173.319 L368.427 173.979 L368.514 174.099 L368.601 174.191 L368.688 174.36 L368.772 173.846 L368.856 173.287 L368.94 172.712 L369.024 172.035 L369.108 172.009 L369.192 170.501 L369.276 170.609 L369.36 170.693 L369.444 169.583 L369.528 168.956 L369.612 169.375 L369.696 168.312 L369.782 168.965 L369.869 168.959 L369.955 169.179 L370.042 169.634 L370.128 170.064 L370.212 170.91 L370.296 171.901 L370.38 172.712 L370.464 173.904 L370.554 173.88 L370.644 173.378 L370.734 172.828 L370.824 173.208 L370.91 173.409 L370.995 174.395 L371.081 174.689 L371.167 174.854 L371.253 176.64 L371.338 176.94 L371.424 177.408 L371.515 176.477 L371.606 175.689 L371.698 175.225 L371.789 174.708 L371.88 173.544 L371.964 173.081 L372.048 173.131 L372.132 172.564 L372.216 172.512 L372.306 171.539 L372.396 170.052 L372.486 168.796 L372.576 168.312 L372.666 167.963 L372.756 167.564 L372.846 167.444 L372.936 166.896 L373.027 166.536 L373.118 167.006 L373.21 166.486 L373.301 166.778 L373.392 166.2 L373.476 166.425 L373.56 167.325 L373.644 167.203 L373.728 167.592 L373.814 167.407 L373.901 167.446 L373.987 166.424 L374.074 166.427 L374.16 166.56 L374.244 166.85 L374.328 165.617 L374.412 165.682 L374.496 165.757 L374.58 165.795 L374.664 165.144 L374.752 164.448 L374.84 164.114 L374.928 163.214 L375.016 162.913 L375.104 162.81 L375.192 162 L375.28 162.018 L375.368 161.851 L375.456 161.928 L375.544 161.782 L375.632 161.732 L375.72 161.64 L375.81 161.607 L375.9 161.51 L375.99 162.094 L376.08 162 L376.171 161.361 L376.262 161.73 L376.354 161.782 L376.445 161.321 L376.536 160.608 L376.618 160.932 L376.699 159.581 L376.781 159.614 L376.862 158.945 L376.944 158.856 L377.032 158.649 L377.12 158.387 L377.208 158.565 L377.296 159.21 L377.384 159.192 L377.472 159.024 L377.56 159.635 L377.648 159.876 L377.736 160.039 L377.824 159.831 L377.912 160.301 L378 160.608 L378.088 161.05 L378.176 161.436 L378.264 161.185 L378.352 161.383 L378.44 161.632 L378.528 162 L378.616 162.992 L378.704 163.211 L378.792 163.473 L378.88 163.864 L378.968 164.746 L379.056 165.144 L379.14 165.343 L379.224 166.477 L379.308 167.078 L379.392 167.952 L379.482 168.124 L379.572 168.706 L379.662 169.117 L379.752 169.344 L379.842 171.211 L379.932 171.306 L380.022 172.449 L380.112 173.208 L380.201 173.645 L380.29 174.068 L380.379 175.574 L380.469 176.493 L380.558 176.291 L380.647 177.241 L380.736 177.936 L380.818 177.534 L380.899 176.498 L380.981 175.026 L381.062 175.302 L381.144 174.264 L381.23 173.875 L381.317 173.782 L381.403 172.931 L381.49 173.128 L381.576 172.512 L381.664 173.984 L381.752 174.622 L381.84 175.992 L381.936 178.599 L382.032 180.72 L382.128 183.36 L382.208 182.167 L382.288 181 L382.368 180.216 L382.456 181.724 L382.544 183.284 L382.632 185.112 L382.716 183.802 L382.8 181.726 L382.884 179.797 L382.968 178.464 L383.064 180.362 L383.16 181.606 L383.256 183.226 L383.352 184.416 L383.438 185.242 L383.525 186.308 L383.611 186.913 L383.698 187.5 L383.784 188.616 L383.868 187.73 L383.952 186.817 L384.036 185.891 L384.12 184.92 L384.216 185.936 L384.312 185.935 L384.408 187.2 L384.49 188.275 L384.571 188.93 L384.653 190.063 L384.734 191.258 L384.816 192.096 L384.906 190.025 L384.996 187.707 L385.086 186.03 L385.176 183.696 L385.256 184.858 L385.336 186.32 L385.416 187.2 L385.512 184.777 L385.608 181.507 L385.704 178.8 L385.8 178.025 L385.896 177.91 L385.992 177.408 L386.076 177.663 L386.16 177.517 L386.244 177.078 L386.328 177.408 L386.418 177.097 L386.508 177.493 L386.598 177.665 L386.688 178.104 L386.768 176.319 L386.848 174.17 L386.928 172.152 L387.018 172.162 L387.108 171.615 L387.198 171.87 L387.288 171.096 L387.379 170.032 L387.47 169.107 L387.562 167.739 L387.653 166.906 L387.744 165.672 L387.826 166.745 L387.907 167.388 L387.989 168.27 L388.07 168.451 L388.152 169.344 L388.242 170.728 L388.332 172.326 L388.422 173.128 L388.512 174.264 L388.6 174.524 L388.688 174.793 L388.776 174.994 L388.864 175.479 L388.952 176.133 L389.04 175.992 L389.124 174.922 L389.208 173.557 L389.292 172.107 L389.376 171.096 L389.472 168.799 L389.568 167.848 L389.664 165.144 L389.768 166.778 L389.872 168.697 L389.976 170.4 L390.072 171.325 L390.168 172.565 L390.264 173.544 L390.352 171.453 L390.44 169.626 L390.528 167.592 L390.608 166.875 L390.688 165.073 L390.768 164.112 L390.856 164.456 L390.944 164.453 L391.032 164.855 L391.12 164.616 L391.208 165.106 L391.296 165.144 L391.386 165.309 L391.476 165.5 L391.566 166.085 L391.656 166.896 L391.74 168.116 L391.824 169.553 L391.908 171.273 L391.992 172.848 L392.082 173.003 L392.172 172.173 L392.262 172.462 L392.352 172.152 L392.442 171.762 L392.532 171.073 L392.622 170.568 L392.712 170.4 L392.794 170.738 L392.875 170.964 L392.957 170.934 L393.038 171.202 L393.12 171.456 L393.216 170.87 L393.312 169.906 L393.408 169.704 L393.49 169.597 L393.571 169.515 L393.653 169.798 L393.734 168.777 L393.816 169.008 L393.907 169.663 L393.998 170.847 L394.09 171.559 L394.181 172.519 L394.272 173.544 L394.362 175.124 L394.452 176.615 L394.542 178.268 L394.632 179.856 L394.723 180.474 L394.814 180.365 L394.906 181.488 L394.997 181.162 L395.088 182.304 L395.172 181.923 L395.256 180.821 L395.34 179.5 L395.424 178.8 L395.51 179.519 L395.597 179.603 L395.683 180.195 L395.77 180.711 L395.856 180.912 L395.938 181.365 L396.019 181.616 L396.101 182.146 L396.182 182.261 L396.264 182.664 L396.354 181.418 L396.444 180.113 L396.534 178.724 L396.624 178.104 L396.714 177.864 L396.804 176.93 L396.894 175.597 L396.984 175.296 L397.075 175.626 L397.166 175.783 L397.258 175.298 L397.349 175.905 L397.44 176.352 L397.531 175.837 L397.622 175.875 L397.714 175.205 L397.805 174.763 L397.896 173.904 L397.98 173.125 L398.064 172.447 L398.148 170.943 L398.232 170.4 L398.318 171.497 L398.405 172.442 L398.491 172.778 L398.578 174.128 L398.664 174.96 L398.748 175.292 L398.832 175.293 L398.916 175.03 L399 174.301 L399.084 174.363 L399.168 174.264 L399.259 173.352 L399.35 173.084 L399.442 171.712 L399.533 170.881 L399.624 170.4 L399.708 169.359 L399.792 169.3 L399.876 168.785 L399.96 167.902 L400.044 167.273 L400.128 166.896 L400.219 168.328 L400.31 170.243 L400.402 170.941 L400.493 172.791 L400.584 174.264 L400.675 174.126 L400.766 173.963 L400.858 174.006 L400.949 173.672 L401.04 173.208 L401.124 173.649 L401.208 174.34 L401.292 174.596 L401.376 174.6 L401.466 173.738 L401.556 172.763 L401.646 171.393 L401.736 170.76 L401.816 170.984 L401.896 170.892 L401.976 170.962 L402.056 171.383 L402.136 171.136 L402.216 171.792 L402.306 170.415 L402.396 169.388 L402.486 168.499 L402.576 167.256 L402.667 168.154 L402.758 169.339 L402.85 170.661 L402.941 171.419 L403.032 172.152 L403.123 170.426 L403.214 168.844 L403.306 167.69 L403.397 166.295 L403.488 165.144 L403.57 164.299 L403.651 164.095 L403.733 163.816 L403.814 163.857 L403.896 163.752 L403.984 163.898 L404.072 163.714 L404.16 162.661 L404.248 162.557 L404.336 162.028 L404.424 162.168 L404.514 161.994 L404.604 162.746 L404.694 163.085 L404.784 163.392 L404.868 164.681 L404.952 166.531 L405.036 167.74 L405.12 169.344 L405.211 172.301 L405.302 174.505 L405.394 177.56 L405.485 179.918 L405.576 182.664 L405.662 182.325 L405.749 182.118 L405.835 181.203 L405.922 181.023 L406.008 180.912 L406.092 180.164 L406.176 179.402 L406.26 178.854 L406.344 178.104 L406.434 177.934 L406.524 177.875 L406.614 178.317 L406.704 178.464 L406.79 177.33 L406.877 175.824 L406.963 175.216 L407.05 173.876 L407.136 172.512 L407.228 171.563 L407.32 170.377 L407.412 168.737 L407.504 168.43 L407.596 166.448 L407.688 165.504 L407.77 166.575 L407.851 167.657 L407.933 168.526 L408.014 169.465 L408.096 170.4 L408.18 171.619 L408.264 173.2 L408.348 174.786 L408.432 176.614 L408.516 177.511 L408.6 179.16 L408.688 178.701 L408.776 177.97 L408.864 177.211 L408.952 176.37 L409.04 175.83 L409.128 175.2 L409.219 175.055 L409.31 175.926 L409.402 176.332 L409.493 176.432 L409.584 176.904 L409.666 178.367 L409.749 179.601 L409.831 180.594 L409.913 182.339 L409.995 183.238 L410.078 185.378 L410.16 185.952 L410.244 185.186 L410.328 184.755 L410.412 184.31 L410.496 184.066 L410.58 183.837 L410.664 183.034 L410.748 182.397 L410.832 181.992 L410.914 182.404 L410.997 181.989 L411.079 181.453 L411.161 181.339 L411.243 180.769 L411.326 181.059 L411.408 180.864 L411.492 183.188 L411.576 184.163 L411.66 185.896 L411.744 188.147 L411.828 189.226 L411.912 192.12 L411.996 193.089 L412.08 195.312 L412.171 194.382 L412.262 193.804 L412.354 193.455 L412.445 192.482 L412.536 191.616 L412.627 192.724 L412.718 194.424 L412.81 196.608 L412.901 197.587 L412.992 199.824 L413.076 198.296 L413.16 196.692 L413.244 195.71 L413.328 194.376 L413.412 191.856 L413.496 191.252 L413.58 189.863 L413.664 188.232 L413.746 187.521 L413.829 187.082 L413.911 186.421 L413.993 186.179 L414.075 185.908 L414.158 185.689 L414.24 184.824 L414.326 184.323 L414.413 182.919 L414.499 181.854 L414.586 181.473 L414.672 180.288 L414.754 179.257 L414.835 179.423 L414.917 179.785 L414.998 180.016 L415.08 179.16 L415.162 177.871 L415.245 177.073 L415.327 175.67 L415.409 174.917 L415.491 173.864 L415.574 172.616 L415.656 171.792 L415.736 172.273 L415.816 172.491 L415.896 173.065 L415.976 173.24 L416.056 173.33 L416.136 174.097 L416.216 174.682 L416.296 174.588 L416.376 175.2 L416.463 176.714 L416.55 177.592 L416.637 178.493 L416.724 179.741 L416.811 180.744 L416.898 181.74 L416.985 183.399 L417.072 184.272 L417.156 186.283 L417.24 187.647 L417.324 189.479 L417.408 191.226 L417.492 193.242 L417.576 195.218 L417.66 196.36 L417.744 198.394 L417.828 200.054 L417.912 201.816 L417.994 201.489 L418.077 201.257 L418.159 200.103 L418.241 199.275 L418.323 199.333 L418.406 198.434 L418.488 198.408 L418.576 194.555 L418.664 189.536 L418.752 185.4 L418.848 191.168 L418.944 197.168 L419.04 202.944 L419.122 202.197 L419.205 201.207 L419.287 200.519 L419.369 199.983 L419.451 198.813 L419.534 198.627 L419.616 197.28 L419.708 196.067 L419.8 193.966 L419.892 193.582 L419.984 191.498 L420.076 190.782 L420.168 189.36 L420.251 190.739 L420.333 191.122 L420.416 191.208 L420.499 192.022 L420.581 192.986 L420.664 194.122 L420.747 194.215 L420.829 195.468 L420.912 195.864 L420.996 195.075 L421.08 194.072 L421.164 193.169 L421.248 192.817 L421.332 191.012 L421.416 190.234 L421.5 189.936 L421.584 188.784 L421.675 186.702 L421.766 183.665 L421.858 181.398 L421.949 178.955 L422.04 176.904 L422.122 176.504 L422.203 175.589 L422.285 175.623 L422.366 174.868 L422.448 174.072 L422.54 175.192 L422.632 176.209 L422.724 177.344 L422.816 178.467 L422.908 179.262 L423 180.288 L423.082 180.047 L423.165 179.877 L423.247 179.308 L423.329 179.294 L423.411 178.643 L423.494 178.139 L423.576 178.032 L423.668 176.772 L423.76 175.875 L423.852 174.51 L423.944 172.296 L424.036 171.526 L424.128 170.112 L424.21 169.165 L424.293 168.404 L424.375 167.589 L424.457 166.812 L424.539 165.918 L424.622 165.179 L424.704 164.448 L424.786 163.381 L424.867 161.837 L424.949 160.695 L425.03 159.595 L425.112 158.784 L425.204 158.55 L425.296 159.14 L425.388 158.741 L425.48 159.129 L425.572 159.262 L425.664 159.336 L425.755 159.091 L425.846 158.441 L425.938 158.286 L426.029 157.514 L426.12 157.08 L426.211 157.036 L426.302 157.068 L426.394 156.314 L426.485 156.731 L426.576 156.504 L426.672 156.231 L426.768 155.12 L426.864 154.31 L426.96 153.672 L427.042 155.598 L427.125 156.459 L427.207 158.162 L427.289 158.501 L427.371 160.594 L427.454 161.797 L427.536 163.32 L427.618 162.864 L427.699 162.528 L427.781 161.578 L427.862 160.99 L427.944 160.488 L428.036 159.44 L428.128 160.243 L428.22 160.163 L428.312 159.588 L428.404 159.171 L428.496 159.072 L428.578 159.459 L428.661 159.933 L428.743 160.102 L428.825 160.796 L428.907 160.317 L428.99 160.368 L429.072 161.04 L429.161 160.414 L429.25 159.871 L429.339 158.605 L429.429 157.97 L429.518 157.016 L429.607 156.071 L429.696 155.664 L429.792 155.735 L429.888 155.633 L429.984 156.588 L430.08 156.792 L430.171 158.682 L430.262 160.561 L430.354 161.823 L430.445 163.635 L430.536 165.576 L430.618 165.173 L430.701 165.319 L430.783 166.078 L430.865 166.717 L430.947 165.681 L431.03 165.954 L431.112 166.152 L431.196 165.284 L431.28 163.681 L431.364 162.916 L431.448 161.527 L431.532 160.394 L431.616 159.607 L431.7 158.139 L431.784 157.08 L431.875 157.73 L431.966 159.351 L432.058 160.138 L432.149 160.989 L432.24 162.168 L432.336 161.37 L432.432 161.205 L432.528 160.267 L432.624 159.912 L432.715 158.131 L432.806 156.57 L432.898 154.436 L432.989 152.967 L433.08 150.84 L433.162 150.048 L433.243 150.227 L433.325 149.811 L433.406 149.804 L433.488 148.872 L433.572 149.585 L433.656 150.545 L433.74 150.949 L433.824 151.397 L433.908 152.158 L433.992 152.915 L434.076 154.051 L434.16 154.536 L434.251 153.802 L434.342 153.53 L434.434 153.268 L434.525 152.858 L434.616 151.992 L434.707 149.315 L434.798 146.527 L434.89 143.101 L434.981 140.182 L435.072 137.256 L435.156 136.139 L435.24 135.042 L435.324 133.885 L435.408 132.699 L435.492 131.593 L435.576 130.399 L435.66 129.374 L435.744 128.208 L435.826 126.969 L435.907 125.894 L435.989 124.77 L436.07 123.601 L436.152 122.4 L436.238 120.225 L436.323 118.199 L436.409 116.07 L436.495 113.967 L436.581 111.945 L436.666 109.782 L436.752 107.664 L436.832 106.461 L436.912 105.335 L436.992 104.271 L437.072 103.108 L437.152 101.908 L437.232 100.743 L437.312 99.651 L437.392 98.514 L437.472 97.392 L437.555 96.286 L437.637 95.083 L437.72 93.997 L437.803 92.879 L437.885 91.616 L437.968 90.518 L438.051 89.469 L438.133 88.241 L438.216 87.12 L438.298 85.442 L438.381 83.808 L438.463 82.057 L438.545 80.395 L438.627 78.665 L438.71 77.083 L438.792 75.384 L438.88 73.65 L438.968 71.943 L439.056 70.135 L439.144 68.576 L439.232 66.852 L439.32 65.112 L439.404 63.728 L439.488 62.467 L439.572 60.96 L439.656 59.715 L439.74 58.297 L439.824 57.024 L439.91 55.82 L439.997 54.269 L440.083 53.009 L440.17 51.709 L440.256 50.424 L440.344 49.72 L440.432 48.985 L440.52 48.23 L440.608 47.467 L440.696 46.834 L440.784 46.008 L440.864 45.486 L440.944 45.043 L441.024 44.617 L441.104 44 L441.184 43.53 L441.264 43.125 L441.344 42.609 L441.424 42.044 L441.504 41.616 L441.589 41.219 L441.674 40.906 L441.759 40.416 L441.844 40.067 L441.929 39.643 L442.014 39.212 L442.098 38.917 L442.183 38.494 L442.268 38.109 L442.353 37.655 L442.438 37.271 L442.523 36.881 L442.608 36.48 L442.693 36.214 L442.778 35.897 L442.863 35.607 L442.948 35.403 L443.033 35.016 L443.118 34.762 L443.202 34.483 L443.287 34.194 L443.372 33.882 L443.457 33.618 L443.542 33.404 L443.627 33.071 L443.712 32.808 L443.797 32.547 L443.882 32.426 L443.967 32.071 L444.052 31.948 L444.137 31.693 L444.222 31.394 L444.306 31.21 L444.391 30.985 L444.476 30.833 L444.561 30.592 L444.646 30.314 L444.731 30.05 L444.816 29.88 L444.896 29.655 L444.977 29.574 L445.057 29.372 L445.138 29.278 L445.218 29.129 L445.298 29.007 L445.379 28.886 L445.459 28.7 L445.54 28.568 L445.62 28.393 L445.7 28.298 L445.781 28.14 L445.861 28.026 L445.942 27.869 L446.022 27.63 L446.102 27.451 L446.183 27.395 L446.263 27.269 L446.344 27.043 L446.424 26.928 L446.507 26.873 L446.591 26.697 L446.674 26.573 L446.757 26.476 L446.84 26.284 L446.924 26.158 L447.007 26.098 L447.09 25.947 L447.174 25.881 L447.257 25.766 L447.34 25.538 L447.424 25.499 L447.507 25.441 L447.59 25.201 L447.673 25.172 L447.757 25.012 L447.84 24.96 L447.92 24.79 L448 24.843 L448.08 24.761 L448.16 24.616 L448.24 24.533 L448.32 24.535 L448.4 24.446 L448.48 24.314 L448.56 24.272 L448.64 24.159 L448.72 24.061 L448.8 24.021 L448.88 23.896 L448.96 23.86 L449.04 23.743 L449.12 23.654 L449.2 23.569 L449.28 23.534 L449.36 23.475 L449.44 23.373 L449.52 23.236 L449.6 23.221 L449.68 23.075 L449.76 22.985 L449.84 22.945 L449.92 22.909 L450 22.8" stroke="#000000" stroke-width="0.5"/>
</g>
<path d="M108.6 282.6 v3.5 M160.68 282.6 v3.5 M213 282.6 v3.5 M265.08 282.6 v3.5 M317.4 282.6 v3.5 M369.48 282.6 v3.5 M421.8 282.6 v3.5 M67.32 228.6 h-3.5" stroke="#000" stroke-width="0.8"/>
<path d="M67.32 64.92 h-2 M67.32 253.32 h-2 M67.32 281.16 h-2" stroke="#000" stroke-width="0.6"/>
<g style="font-size:10px;font-family:'DejaVu Sans','Liberation Sans',sans-serif" fill="#000">
<text transform="translate(90.151 318.660909) rotate(-30)">12-09 18</text>
<text transform="translate(142.335 318.660909) rotate(-30)">12-09 20</text>
<text transform="translate(194.519 318.660909) rotate(-30)">12-09 22</text>
<text transform="translate(246.703 318.660909) rotate(-30)">12-10 00</text>
<text transform="translate(298.887 318.660909) rotate(-30)">12-10 02</text>
<text transform="translate(351.071 318.660909) rotate(-30)">12-10 04</text>
<text transform="translate(403.255 318.660909) rotate(-30)">12-10 06</text>
<text x="258.72" y="332.540408" text-anchor="middle">Time</text>
<text transform="translate(19.4 154.908) rotate(-90)" text-anchor="middle">ADU</text>
<g transform="translate(42.96 233.167)"><text><tspan x="0" y="-0.976562">1</tspan><tspan x="6.362305" y="-0.976562">0</tspan><tspan x="12.820312" y="-4.804688" style="font-size:7px">8</tspan></text></g>
<g transform="translate(25.96 69.799)"><text><tspan x="0" y="-0.976562">2</tspan><tspan x="8.310547" y="-0.976562">×</tspan><tspan x="18.637695" y="-0.976562">1</tspan><tspan x="25" y="-0.976562">0</tspan><tspan x="31.458008" y="-4.804688" style="font-size:7px">8</tspan></text></g>
</g>
<path d="M67.32 282.6 V27 M450.12 282.6 V27 M67.32 282.6 H450.12 M67.32 27 H450.12" fill="none" stroke="#000" stroke-width="0.8" stroke-linejoin="miter" stroke-linecap="square"/>
<text x="258.72" y="20.976" text-anchor="middle" style="font-size:12px;font-family:'DejaVu Sans','Liberation Sans',sans-serif">Peak field sums for BE000Z_20251209_162500_774358</text>
<path d="M370.110 277.600 L443.120 277.600 Q445.120 277.600 445.120 275.600 L445.120 246.440 Q445.120 244.440 443.120 244.440 L370.110 244.440 Q368.110 244.440 368.110 246.440 L368.110 275.600 Q368.110 277.600 370.110 277.600 z" fill="#fff" fill-opacity="0.8" stroke="#cccccc" stroke-opacity="0.8" stroke-linejoin="miter"/>
<path d="M372.11 252.96 H392.11" stroke="#ff0000" stroke-width="0.5" stroke-linecap="square"/>
<path d="M372.11 267.84 H392.11" stroke="#000" stroke-width="0.5" stroke-linecap="square"/>
<g style="font-size:10px;font-family:'DejaVu Sans','Liberation Sans',sans-serif" fill="#000"><text x="400.054" y="256.602">Peak</text><text x="400.054" y="271.52">Average</text></g>
</svg></body></html>
